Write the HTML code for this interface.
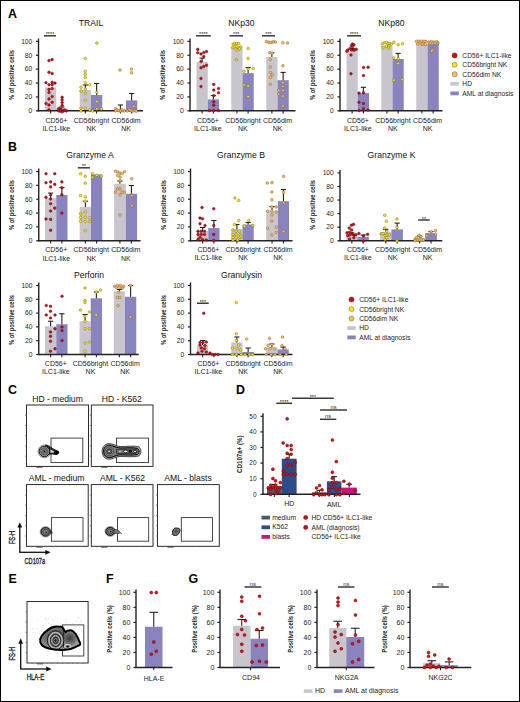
<!DOCTYPE html>
<html><head><meta charset="utf-8"><style>
html,body{margin:0;padding:0;background:#fff;}
body{width:520px;height:702px;overflow:hidden;position:relative;}
svg{display:block;position:absolute;left:0;top:0;}
.frame{position:absolute;left:0;top:0;width:518px;height:700px;border:1px solid #000;}
</style></head><body>
<svg width="520" height="702" viewBox="0 0 520 702" font-family='"Liberation Sans", sans-serif'>
<rect x="0.00" y="0.00" width="520.00" height="702.00" fill="#fff" stroke="none" stroke-width="0"/>
<text x="8.00" y="17.90" font-size="12.4" text-anchor="start" font-weight="bold" fill="#000" >A</text>
<text x="8.00" y="150.60" font-size="12.4" text-anchor="start" font-weight="bold" fill="#000" >B</text>
<text x="8.00" y="393.80" font-size="12.4" text-anchor="start" font-weight="bold" fill="#000" >C</text>
<text x="236.00" y="393.80" font-size="12.4" text-anchor="start" font-weight="bold" fill="#000" >D</text>
<text x="8.50" y="583.00" font-size="12.4" text-anchor="start" font-weight="bold" fill="#000" >E</text>
<text x="106.00" y="583.00" font-size="12.4" text-anchor="start" font-weight="bold" fill="#000" >F</text>
<text x="188.50" y="583.00" font-size="12.4" text-anchor="start" font-weight="bold" fill="#000" >G</text>
<rect x="45.00" y="87.50" width="11.25" height="23.30" fill="#c8c6cc" stroke="none" stroke-width="0"/>
<rect x="56.25" y="108.60" width="11.25" height="2.20" fill="#8a84be" stroke="none" stroke-width="0"/>
<rect x="79.75" y="90.00" width="11.25" height="20.80" fill="#c8c6cc" stroke="none" stroke-width="0"/>
<rect x="91.00" y="95.00" width="11.25" height="15.80" fill="#8a84be" stroke="none" stroke-width="0"/>
<rect x="114.75" y="109.60" width="11.25" height="1.20" fill="#c8c6cc" stroke="none" stroke-width="0"/>
<rect x="126.00" y="100.40" width="11.25" height="10.40" fill="#8a84be" stroke="none" stroke-width="0"/>
<line x1="61.88" y1="108.60" x2="61.88" y2="107.00" stroke="#222" stroke-width="1.1"/>
<line x1="59.27" y1="107.00" x2="64.47" y2="107.00" stroke="#222" stroke-width="1.1"/>
<line x1="85.38" y1="90.00" x2="85.38" y2="85.00" stroke="#222" stroke-width="1.1"/>
<line x1="82.78" y1="85.00" x2="87.97" y2="85.00" stroke="#222" stroke-width="1.1"/>
<line x1="96.62" y1="95.00" x2="96.62" y2="83.50" stroke="#222" stroke-width="1.1"/>
<line x1="94.03" y1="83.50" x2="99.22" y2="83.50" stroke="#222" stroke-width="1.1"/>
<line x1="120.38" y1="109.60" x2="120.38" y2="105.00" stroke="#222" stroke-width="1.1"/>
<line x1="117.78" y1="105.00" x2="122.97" y2="105.00" stroke="#222" stroke-width="1.1"/>
<line x1="131.62" y1="100.40" x2="131.62" y2="93.50" stroke="#222" stroke-width="1.1"/>
<line x1="129.03" y1="93.50" x2="134.22" y2="93.50" stroke="#222" stroke-width="1.1"/>
<line x1="38.50" y1="38.50" x2="38.50" y2="111.40" stroke="#222" stroke-width="1.4"/>
<line x1="35.90" y1="110.80" x2="38.50" y2="110.80" stroke="#222" stroke-width="1.2"/>
<text x="32.30" y="113.10" font-size="6.7" text-anchor="end" font-weight="normal" fill="#222" >0</text>
<line x1="35.90" y1="96.92" x2="38.50" y2="96.92" stroke="#222" stroke-width="1.2"/>
<text x="32.30" y="99.22" font-size="6.7" text-anchor="end" font-weight="normal" fill="#222" >20</text>
<line x1="35.90" y1="83.04" x2="38.50" y2="83.04" stroke="#222" stroke-width="1.2"/>
<text x="32.30" y="85.34" font-size="6.7" text-anchor="end" font-weight="normal" fill="#222" >40</text>
<line x1="35.90" y1="69.16" x2="38.50" y2="69.16" stroke="#222" stroke-width="1.2"/>
<text x="32.30" y="71.46" font-size="6.7" text-anchor="end" font-weight="normal" fill="#222" >60</text>
<line x1="35.90" y1="55.28" x2="38.50" y2="55.28" stroke="#222" stroke-width="1.2"/>
<text x="32.30" y="57.58" font-size="6.7" text-anchor="end" font-weight="normal" fill="#222" >80</text>
<line x1="35.90" y1="41.40" x2="38.50" y2="41.40" stroke="#222" stroke-width="1.2"/>
<text x="32.30" y="43.70" font-size="6.7" text-anchor="end" font-weight="normal" fill="#222" >100</text>
<line x1="37.80" y1="110.80" x2="143.00" y2="110.80" stroke="#222" stroke-width="1.5"/>
<line x1="50.62" y1="110.80" x2="50.62" y2="113.60" stroke="#222" stroke-width="1.1"/>
<line x1="61.88" y1="110.80" x2="61.88" y2="113.60" stroke="#222" stroke-width="1.1"/>
<line x1="85.38" y1="110.80" x2="85.38" y2="113.60" stroke="#222" stroke-width="1.1"/>
<line x1="96.62" y1="110.80" x2="96.62" y2="113.60" stroke="#222" stroke-width="1.1"/>
<line x1="120.38" y1="110.80" x2="120.38" y2="113.60" stroke="#222" stroke-width="1.1"/>
<line x1="131.62" y1="110.80" x2="131.62" y2="113.60" stroke="#222" stroke-width="1.1"/>
<text x="91.00" y="26.00" font-size="8.6" text-anchor="middle" font-weight="normal" fill="#111" >TRAIL</text>
<circle cx="49.00" cy="60.62" r="1.35" fill="#c0141c" stroke="#6a0a0a" stroke-width="0.45"/>
<circle cx="52.12" cy="59.62" r="1.35" fill="#c0141c" stroke="#6a0a0a" stroke-width="0.45"/>
<circle cx="49.00" cy="72.25" r="1.35" fill="#c0141c" stroke="#6a0a0a" stroke-width="0.45"/>
<circle cx="52.12" cy="73.50" r="1.35" fill="#c0141c" stroke="#6a0a0a" stroke-width="0.45"/>
<circle cx="46.00" cy="82.75" r="1.35" fill="#c0141c" stroke="#6a0a0a" stroke-width="0.45"/>
<circle cx="52.12" cy="82.25" r="1.35" fill="#c0141c" stroke="#6a0a0a" stroke-width="0.45"/>
<circle cx="55.00" cy="83.12" r="1.35" fill="#c0141c" stroke="#6a0a0a" stroke-width="0.45"/>
<circle cx="49.00" cy="84.75" r="1.35" fill="#c0141c" stroke="#6a0a0a" stroke-width="0.45"/>
<circle cx="52.12" cy="84.75" r="1.35" fill="#c0141c" stroke="#6a0a0a" stroke-width="0.45"/>
<circle cx="52.12" cy="88.50" r="1.35" fill="#c0141c" stroke="#6a0a0a" stroke-width="0.45"/>
<circle cx="49.00" cy="89.38" r="1.35" fill="#c0141c" stroke="#6a0a0a" stroke-width="0.45"/>
<circle cx="49.00" cy="92.50" r="1.35" fill="#c0141c" stroke="#6a0a0a" stroke-width="0.45"/>
<circle cx="52.12" cy="96.50" r="1.35" fill="#c0141c" stroke="#6a0a0a" stroke-width="0.45"/>
<circle cx="49.00" cy="99.00" r="1.35" fill="#c0141c" stroke="#6a0a0a" stroke-width="0.45"/>
<circle cx="52.12" cy="102.25" r="1.35" fill="#c0141c" stroke="#6a0a0a" stroke-width="0.45"/>
<circle cx="46.00" cy="103.50" r="1.35" fill="#c0141c" stroke="#6a0a0a" stroke-width="0.45"/>
<circle cx="49.00" cy="105.00" r="1.35" fill="#c0141c" stroke="#6a0a0a" stroke-width="0.45"/>
<circle cx="49.00" cy="109.75" r="1.35" fill="#c0141c" stroke="#6a0a0a" stroke-width="0.45"/>
<circle cx="62.12" cy="97.25" r="1.35" fill="#c0141c" stroke="#6a0a0a" stroke-width="0.45"/>
<circle cx="62.12" cy="99.75" r="1.35" fill="#c0141c" stroke="#6a0a0a" stroke-width="0.45"/>
<circle cx="62.12" cy="102.50" r="1.35" fill="#c0141c" stroke="#6a0a0a" stroke-width="0.45"/>
<circle cx="62.12" cy="105.25" r="1.35" fill="#c0141c" stroke="#6a0a0a" stroke-width="0.45"/>
<circle cx="58.75" cy="108.50" r="1.35" fill="#c0141c" stroke="#6a0a0a" stroke-width="0.45"/>
<circle cx="60.62" cy="109.38" r="1.35" fill="#c0141c" stroke="#6a0a0a" stroke-width="0.45"/>
<circle cx="58.75" cy="111.00" r="1.35" fill="#c0141c" stroke="#6a0a0a" stroke-width="0.45"/>
<circle cx="60.62" cy="111.25" r="1.35" fill="#c0141c" stroke="#6a0a0a" stroke-width="0.45"/>
<circle cx="63.12" cy="111.25" r="1.35" fill="#c0141c" stroke="#6a0a0a" stroke-width="0.45"/>
<circle cx="66.25" cy="111.00" r="1.35" fill="#c0141c" stroke="#6a0a0a" stroke-width="0.45"/>
<circle cx="64.38" cy="110.00" r="1.35" fill="#c0141c" stroke="#6a0a0a" stroke-width="0.45"/>
<circle cx="85.25" cy="58.50" r="1.35" fill="#f3e21c" stroke="#7a6c10" stroke-width="0.45"/>
<circle cx="85.25" cy="71.25" r="1.35" fill="#f3e21c" stroke="#7a6c10" stroke-width="0.45"/>
<circle cx="85.25" cy="74.38" r="1.35" fill="#f3e21c" stroke="#7a6c10" stroke-width="0.45"/>
<circle cx="85.25" cy="77.50" r="1.35" fill="#f3e21c" stroke="#7a6c10" stroke-width="0.45"/>
<circle cx="85.25" cy="82.50" r="1.35" fill="#f3e21c" stroke="#7a6c10" stroke-width="0.45"/>
<circle cx="89.75" cy="84.75" r="1.35" fill="#f3e21c" stroke="#7a6c10" stroke-width="0.45"/>
<circle cx="81.00" cy="87.25" r="1.35" fill="#f3e21c" stroke="#7a6c10" stroke-width="0.45"/>
<circle cx="81.00" cy="91.00" r="1.35" fill="#f3e21c" stroke="#7a6c10" stroke-width="0.45"/>
<circle cx="85.25" cy="89.12" r="1.35" fill="#f3e21c" stroke="#7a6c10" stroke-width="0.45"/>
<circle cx="85.25" cy="93.12" r="1.35" fill="#f3e21c" stroke="#7a6c10" stroke-width="0.45"/>
<circle cx="85.25" cy="100.25" r="1.35" fill="#f3e21c" stroke="#7a6c10" stroke-width="0.45"/>
<circle cx="81.00" cy="108.12" r="1.35" fill="#f3e21c" stroke="#7a6c10" stroke-width="0.45"/>
<circle cx="85.25" cy="108.12" r="1.35" fill="#f3e21c" stroke="#7a6c10" stroke-width="0.45"/>
<circle cx="89.75" cy="109.75" r="1.35" fill="#f3e21c" stroke="#7a6c10" stroke-width="0.45"/>
<circle cx="81.00" cy="111.00" r="1.35" fill="#f3e21c" stroke="#7a6c10" stroke-width="0.45"/>
<circle cx="92.50" cy="111.00" r="1.35" fill="#f3e21c" stroke="#7a6c10" stroke-width="0.45"/>
<circle cx="96.88" cy="43.12" r="1.35" fill="#f3e21c" stroke="#7a6c10" stroke-width="0.45"/>
<circle cx="96.88" cy="92.25" r="1.35" fill="#f3e21c" stroke="#7a6c10" stroke-width="0.45"/>
<circle cx="96.88" cy="101.50" r="1.35" fill="#f3e21c" stroke="#7a6c10" stroke-width="0.45"/>
<circle cx="96.88" cy="109.00" r="1.35" fill="#f3e21c" stroke="#7a6c10" stroke-width="0.45"/>
<circle cx="101.25" cy="109.00" r="1.35" fill="#f3e21c" stroke="#7a6c10" stroke-width="0.45"/>
<circle cx="120.00" cy="70.00" r="1.35" fill="#f0bd68" stroke="#8a5a1e" stroke-width="0.45"/>
<circle cx="115.62" cy="108.50" r="1.35" fill="#f0bd68" stroke="#8a5a1e" stroke-width="0.45"/>
<circle cx="117.25" cy="110.00" r="1.35" fill="#f0bd68" stroke="#8a5a1e" stroke-width="0.45"/>
<circle cx="115.62" cy="111.00" r="1.35" fill="#f0bd68" stroke="#8a5a1e" stroke-width="0.45"/>
<circle cx="118.75" cy="110.62" r="1.35" fill="#f0bd68" stroke="#8a5a1e" stroke-width="0.45"/>
<circle cx="120.62" cy="111.00" r="1.35" fill="#f0bd68" stroke="#8a5a1e" stroke-width="0.45"/>
<circle cx="122.50" cy="110.62" r="1.35" fill="#f0bd68" stroke="#8a5a1e" stroke-width="0.45"/>
<circle cx="124.38" cy="111.00" r="1.35" fill="#f0bd68" stroke="#8a5a1e" stroke-width="0.45"/>
<circle cx="121.88" cy="109.75" r="1.35" fill="#f0bd68" stroke="#8a5a1e" stroke-width="0.45"/>
<circle cx="131.50" cy="69.00" r="1.35" fill="#f0bd68" stroke="#8a5a1e" stroke-width="0.45"/>
<circle cx="131.50" cy="72.75" r="1.35" fill="#f0bd68" stroke="#8a5a1e" stroke-width="0.45"/>
<circle cx="134.00" cy="106.25" r="1.35" fill="#f0bd68" stroke="#8a5a1e" stroke-width="0.45"/>
<circle cx="127.25" cy="111.00" r="1.35" fill="#f0bd68" stroke="#8a5a1e" stroke-width="0.45"/>
<circle cx="129.38" cy="109.75" r="1.35" fill="#f0bd68" stroke="#8a5a1e" stroke-width="0.45"/>
<circle cx="131.25" cy="110.62" r="1.35" fill="#f0bd68" stroke="#8a5a1e" stroke-width="0.45"/>
<circle cx="133.12" cy="111.00" r="1.35" fill="#f0bd68" stroke="#8a5a1e" stroke-width="0.45"/>
<circle cx="135.00" cy="110.62" r="1.35" fill="#f0bd68" stroke="#8a5a1e" stroke-width="0.45"/>
<circle cx="136.25" cy="111.25" r="1.35" fill="#f0bd68" stroke="#8a5a1e" stroke-width="0.45"/>
<line x1="44.00" y1="35.80" x2="56.00" y2="35.80" stroke="#3a3a3a" stroke-width="1.5"/>
<text x="50.00" y="36.40" font-size="5.5" text-anchor="middle" font-weight="normal" fill="#222" >****</text>
<text x="56.40" y="122.90" font-size="7.0" text-anchor="middle" font-weight="normal" fill="#222" >CD56+</text>
<text x="56.40" y="131.10" font-size="7.0" text-anchor="middle" font-weight="normal" fill="#222" >ILC1-like</text>
<text x="91.40" y="122.90" font-size="7.0" text-anchor="middle" font-weight="normal" fill="#222" >CD56bright</text>
<text x="91.40" y="131.10" font-size="7.0" text-anchor="middle" font-weight="normal" fill="#222" >NK</text>
<text x="126.10" y="122.90" font-size="7.0" text-anchor="middle" font-weight="normal" fill="#222" >CD56dim</text>
<text x="126.10" y="131.10" font-size="7.0" text-anchor="middle" font-weight="normal" fill="#222" >NK</text>
<text transform="translate(14.40,75.00) rotate(-90)" x="0" y="0" font-size="7.6" text-anchor="middle" font-weight="bold" fill="#222" textLength="50" lengthAdjust="spacingAndGlyphs" >% of positive cells</text>
<rect x="196.50" y="61.90" width="11.25" height="48.90" fill="#c8c6cc" stroke="none" stroke-width="0"/>
<rect x="207.75" y="99.40" width="11.25" height="11.40" fill="#8a84be" stroke="none" stroke-width="0"/>
<rect x="231.25" y="46.90" width="11.25" height="63.90" fill="#c8c6cc" stroke="none" stroke-width="0"/>
<rect x="242.50" y="73.10" width="11.25" height="37.70" fill="#8a84be" stroke="none" stroke-width="0"/>
<rect x="266.25" y="57.00" width="11.25" height="53.80" fill="#c8c6cc" stroke="none" stroke-width="0"/>
<rect x="277.50" y="80.20" width="11.25" height="30.60" fill="#8a84be" stroke="none" stroke-width="0"/>
<line x1="202.12" y1="61.90" x2="202.12" y2="58.10" stroke="#222" stroke-width="1.1"/>
<line x1="199.53" y1="58.10" x2="204.72" y2="58.10" stroke="#222" stroke-width="1.1"/>
<line x1="213.38" y1="99.40" x2="213.38" y2="95.60" stroke="#222" stroke-width="1.1"/>
<line x1="210.78" y1="95.60" x2="215.97" y2="95.60" stroke="#222" stroke-width="1.1"/>
<line x1="248.12" y1="73.10" x2="248.12" y2="67.50" stroke="#222" stroke-width="1.1"/>
<line x1="245.53" y1="67.50" x2="250.72" y2="67.50" stroke="#222" stroke-width="1.1"/>
<line x1="271.88" y1="57.00" x2="271.88" y2="52.70" stroke="#222" stroke-width="1.1"/>
<line x1="269.27" y1="52.70" x2="274.48" y2="52.70" stroke="#222" stroke-width="1.1"/>
<line x1="283.12" y1="80.20" x2="283.12" y2="72.40" stroke="#222" stroke-width="1.1"/>
<line x1="280.52" y1="72.40" x2="285.73" y2="72.40" stroke="#222" stroke-width="1.1"/>
<line x1="190.00" y1="38.50" x2="190.00" y2="111.40" stroke="#222" stroke-width="1.4"/>
<line x1="187.40" y1="110.80" x2="190.00" y2="110.80" stroke="#222" stroke-width="1.2"/>
<text x="183.80" y="113.10" font-size="6.7" text-anchor="end" font-weight="normal" fill="#222" >0</text>
<line x1="187.40" y1="96.92" x2="190.00" y2="96.92" stroke="#222" stroke-width="1.2"/>
<text x="183.80" y="99.22" font-size="6.7" text-anchor="end" font-weight="normal" fill="#222" >20</text>
<line x1="187.40" y1="83.04" x2="190.00" y2="83.04" stroke="#222" stroke-width="1.2"/>
<text x="183.80" y="85.34" font-size="6.7" text-anchor="end" font-weight="normal" fill="#222" >40</text>
<line x1="187.40" y1="69.16" x2="190.00" y2="69.16" stroke="#222" stroke-width="1.2"/>
<text x="183.80" y="71.46" font-size="6.7" text-anchor="end" font-weight="normal" fill="#222" >60</text>
<line x1="187.40" y1="55.28" x2="190.00" y2="55.28" stroke="#222" stroke-width="1.2"/>
<text x="183.80" y="57.58" font-size="6.7" text-anchor="end" font-weight="normal" fill="#222" >80</text>
<line x1="187.40" y1="41.40" x2="190.00" y2="41.40" stroke="#222" stroke-width="1.2"/>
<text x="183.80" y="43.70" font-size="6.7" text-anchor="end" font-weight="normal" fill="#222" >100</text>
<line x1="189.30" y1="110.80" x2="295.50" y2="110.80" stroke="#222" stroke-width="1.5"/>
<line x1="202.12" y1="110.80" x2="202.12" y2="113.60" stroke="#222" stroke-width="1.1"/>
<line x1="213.38" y1="110.80" x2="213.38" y2="113.60" stroke="#222" stroke-width="1.1"/>
<line x1="236.88" y1="110.80" x2="236.88" y2="113.60" stroke="#222" stroke-width="1.1"/>
<line x1="248.12" y1="110.80" x2="248.12" y2="113.60" stroke="#222" stroke-width="1.1"/>
<line x1="271.88" y1="110.80" x2="271.88" y2="113.60" stroke="#222" stroke-width="1.1"/>
<line x1="283.12" y1="110.80" x2="283.12" y2="113.60" stroke="#222" stroke-width="1.1"/>
<text x="241.50" y="26.00" font-size="8.6" text-anchor="middle" font-weight="normal" fill="#111" >NKp30</text>
<circle cx="197.75" cy="49.38" r="1.35" fill="#c0141c" stroke="#6a0a0a" stroke-width="0.45"/>
<circle cx="197.75" cy="52.75" r="1.35" fill="#c0141c" stroke="#6a0a0a" stroke-width="0.45"/>
<circle cx="201.00" cy="54.00" r="1.35" fill="#c0141c" stroke="#6a0a0a" stroke-width="0.45"/>
<circle cx="203.75" cy="52.50" r="1.35" fill="#c0141c" stroke="#6a0a0a" stroke-width="0.45"/>
<circle cx="206.50" cy="51.50" r="1.35" fill="#c0141c" stroke="#6a0a0a" stroke-width="0.45"/>
<circle cx="203.75" cy="56.50" r="1.35" fill="#c0141c" stroke="#6a0a0a" stroke-width="0.45"/>
<circle cx="201.00" cy="61.50" r="1.35" fill="#c0141c" stroke="#6a0a0a" stroke-width="0.45"/>
<circle cx="201.00" cy="67.75" r="1.35" fill="#c0141c" stroke="#6a0a0a" stroke-width="0.45"/>
<circle cx="203.75" cy="66.50" r="1.35" fill="#c0141c" stroke="#6a0a0a" stroke-width="0.45"/>
<circle cx="206.50" cy="65.25" r="1.35" fill="#c0141c" stroke="#6a0a0a" stroke-width="0.45"/>
<circle cx="201.00" cy="78.50" r="1.35" fill="#c0141c" stroke="#6a0a0a" stroke-width="0.45"/>
<circle cx="201.00" cy="86.50" r="1.35" fill="#c0141c" stroke="#6a0a0a" stroke-width="0.45"/>
<circle cx="213.75" cy="84.38" r="1.35" fill="#c0141c" stroke="#6a0a0a" stroke-width="0.45"/>
<circle cx="213.75" cy="90.00" r="1.35" fill="#c0141c" stroke="#6a0a0a" stroke-width="0.45"/>
<circle cx="218.50" cy="88.50" r="1.35" fill="#c0141c" stroke="#6a0a0a" stroke-width="0.45"/>
<circle cx="218.50" cy="92.75" r="1.35" fill="#c0141c" stroke="#6a0a0a" stroke-width="0.45"/>
<circle cx="213.75" cy="95.62" r="1.35" fill="#c0141c" stroke="#6a0a0a" stroke-width="0.45"/>
<circle cx="213.75" cy="101.88" r="1.35" fill="#c0141c" stroke="#6a0a0a" stroke-width="0.45"/>
<circle cx="213.75" cy="105.25" r="1.35" fill="#c0141c" stroke="#6a0a0a" stroke-width="0.45"/>
<circle cx="209.38" cy="110.62" r="1.35" fill="#c0141c" stroke="#6a0a0a" stroke-width="0.45"/>
<circle cx="213.75" cy="110.62" r="1.35" fill="#c0141c" stroke="#6a0a0a" stroke-width="0.45"/>
<circle cx="218.50" cy="110.62" r="1.35" fill="#c0141c" stroke="#6a0a0a" stroke-width="0.45"/>
<circle cx="233.12" cy="44.00" r="1.35" fill="#f3e21c" stroke="#7a6c10" stroke-width="0.45"/>
<circle cx="235.00" cy="43.50" r="1.35" fill="#f3e21c" stroke="#7a6c10" stroke-width="0.45"/>
<circle cx="236.88" cy="43.50" r="1.35" fill="#f3e21c" stroke="#7a6c10" stroke-width="0.45"/>
<circle cx="238.75" cy="43.50" r="1.35" fill="#f3e21c" stroke="#7a6c10" stroke-width="0.45"/>
<circle cx="232.50" cy="47.50" r="1.35" fill="#f3e21c" stroke="#7a6c10" stroke-width="0.45"/>
<circle cx="234.38" cy="46.88" r="1.35" fill="#f3e21c" stroke="#7a6c10" stroke-width="0.45"/>
<circle cx="236.25" cy="46.50" r="1.35" fill="#f3e21c" stroke="#7a6c10" stroke-width="0.45"/>
<circle cx="238.12" cy="47.50" r="1.35" fill="#f3e21c" stroke="#7a6c10" stroke-width="0.45"/>
<circle cx="240.62" cy="46.88" r="1.35" fill="#f3e21c" stroke="#7a6c10" stroke-width="0.45"/>
<circle cx="236.88" cy="50.00" r="1.35" fill="#f3e21c" stroke="#7a6c10" stroke-width="0.45"/>
<circle cx="239.38" cy="48.75" r="1.35" fill="#f3e21c" stroke="#7a6c10" stroke-width="0.45"/>
<circle cx="236.25" cy="59.75" r="1.35" fill="#f3e21c" stroke="#7a6c10" stroke-width="0.45"/>
<circle cx="248.12" cy="48.50" r="1.35" fill="#f3e21c" stroke="#7a6c10" stroke-width="0.45"/>
<circle cx="248.12" cy="58.50" r="1.35" fill="#f3e21c" stroke="#7a6c10" stroke-width="0.45"/>
<circle cx="244.00" cy="71.25" r="1.35" fill="#f3e21c" stroke="#7a6c10" stroke-width="0.45"/>
<circle cx="248.12" cy="69.00" r="1.35" fill="#f3e21c" stroke="#7a6c10" stroke-width="0.45"/>
<circle cx="253.12" cy="68.50" r="1.35" fill="#f3e21c" stroke="#7a6c10" stroke-width="0.45"/>
<circle cx="244.00" cy="85.00" r="1.35" fill="#f3e21c" stroke="#7a6c10" stroke-width="0.45"/>
<circle cx="248.12" cy="86.00" r="1.35" fill="#f3e21c" stroke="#7a6c10" stroke-width="0.45"/>
<circle cx="248.12" cy="96.50" r="1.35" fill="#f3e21c" stroke="#7a6c10" stroke-width="0.45"/>
<circle cx="266.39" cy="41.61" r="1.35" fill="#f0bd68" stroke="#8a5a1e" stroke-width="0.45"/>
<circle cx="268.44" cy="42.06" r="1.35" fill="#f0bd68" stroke="#8a5a1e" stroke-width="0.45"/>
<circle cx="270.38" cy="42.74" r="1.35" fill="#f0bd68" stroke="#8a5a1e" stroke-width="0.45"/>
<circle cx="272.08" cy="42.06" r="1.35" fill="#f0bd68" stroke="#8a5a1e" stroke-width="0.45"/>
<circle cx="273.79" cy="41.83" r="1.35" fill="#f0bd68" stroke="#8a5a1e" stroke-width="0.45"/>
<circle cx="275.50" cy="42.06" r="1.35" fill="#f0bd68" stroke="#8a5a1e" stroke-width="0.45"/>
<circle cx="269.81" cy="52.65" r="1.35" fill="#f0bd68" stroke="#8a5a1e" stroke-width="0.45"/>
<circle cx="272.08" cy="53.22" r="1.35" fill="#f0bd68" stroke="#8a5a1e" stroke-width="0.45"/>
<circle cx="270.38" cy="59.49" r="1.35" fill="#f0bd68" stroke="#8a5a1e" stroke-width="0.45"/>
<circle cx="270.38" cy="67.12" r="1.35" fill="#f0bd68" stroke="#8a5a1e" stroke-width="0.45"/>
<circle cx="270.38" cy="72.59" r="1.35" fill="#f0bd68" stroke="#8a5a1e" stroke-width="0.45"/>
<circle cx="272.31" cy="74.86" r="1.35" fill="#f0bd68" stroke="#8a5a1e" stroke-width="0.45"/>
<circle cx="270.38" cy="77.37" r="1.35" fill="#f0bd68" stroke="#8a5a1e" stroke-width="0.45"/>
<circle cx="270.38" cy="84.20" r="1.35" fill="#f0bd68" stroke="#8a5a1e" stroke-width="0.45"/>
<circle cx="282.90" cy="42.74" r="1.35" fill="#f0bd68" stroke="#8a5a1e" stroke-width="0.45"/>
<circle cx="287.46" cy="42.97" r="1.35" fill="#f0bd68" stroke="#8a5a1e" stroke-width="0.45"/>
<circle cx="282.90" cy="65.75" r="1.35" fill="#f0bd68" stroke="#8a5a1e" stroke-width="0.45"/>
<circle cx="282.90" cy="82.61" r="1.35" fill="#f0bd68" stroke="#8a5a1e" stroke-width="0.45"/>
<circle cx="282.90" cy="86.48" r="1.35" fill="#f0bd68" stroke="#8a5a1e" stroke-width="0.45"/>
<circle cx="278.69" cy="90.47" r="1.35" fill="#f0bd68" stroke="#8a5a1e" stroke-width="0.45"/>
<circle cx="282.90" cy="90.47" r="1.35" fill="#f0bd68" stroke="#8a5a1e" stroke-width="0.45"/>
<circle cx="278.69" cy="94.00" r="1.35" fill="#f0bd68" stroke="#8a5a1e" stroke-width="0.45"/>
<circle cx="282.90" cy="96.16" r="1.35" fill="#f0bd68" stroke="#8a5a1e" stroke-width="0.45"/>
<circle cx="282.90" cy="105.84" r="1.35" fill="#f0bd68" stroke="#8a5a1e" stroke-width="0.45"/>
<line x1="196.00" y1="35.80" x2="210.80" y2="35.80" stroke="#3a3a3a" stroke-width="1.5"/>
<text x="203.40" y="36.40" font-size="5.5" text-anchor="middle" font-weight="normal" fill="#222" >****</text>
<line x1="229.50" y1="35.80" x2="243.00" y2="35.80" stroke="#3a3a3a" stroke-width="1.5"/>
<text x="236.25" y="36.40" font-size="5.5" text-anchor="middle" font-weight="normal" fill="#222" >***</text>
<line x1="262.00" y1="35.80" x2="275.00" y2="35.80" stroke="#3a3a3a" stroke-width="1.5"/>
<text x="268.50" y="36.40" font-size="5.5" text-anchor="middle" font-weight="normal" fill="#222" >***</text>
<text x="207.90" y="122.90" font-size="7.0" text-anchor="middle" font-weight="normal" fill="#222" >CD56+</text>
<text x="207.90" y="131.10" font-size="7.0" text-anchor="middle" font-weight="normal" fill="#222" >ILC1-like</text>
<text x="242.90" y="122.90" font-size="7.0" text-anchor="middle" font-weight="normal" fill="#222" >CD56bright</text>
<text x="242.90" y="131.10" font-size="7.0" text-anchor="middle" font-weight="normal" fill="#222" >NK</text>
<text x="277.60" y="122.90" font-size="7.0" text-anchor="middle" font-weight="normal" fill="#222" >CD56dim</text>
<text x="277.60" y="131.10" font-size="7.0" text-anchor="middle" font-weight="normal" fill="#222" >NK</text>
<text transform="translate(165.40,75.00) rotate(-90)" x="0" y="0" font-size="7.6" text-anchor="middle" font-weight="bold" fill="#222" textLength="50" lengthAdjust="spacingAndGlyphs" >% of positive cells</text>
<rect x="346.50" y="51.30" width="11.25" height="59.50" fill="#c8c6cc" stroke="none" stroke-width="0"/>
<rect x="357.75" y="93.10" width="11.25" height="17.70" fill="#8a84be" stroke="none" stroke-width="0"/>
<rect x="381.25" y="45.60" width="11.25" height="65.20" fill="#c8c6cc" stroke="none" stroke-width="0"/>
<rect x="392.50" y="59.00" width="11.25" height="51.80" fill="#8a84be" stroke="none" stroke-width="0"/>
<rect x="416.25" y="44.10" width="11.25" height="66.70" fill="#c8c6cc" stroke="none" stroke-width="0"/>
<rect x="427.50" y="43.50" width="11.25" height="67.30" fill="#8a84be" stroke="none" stroke-width="0"/>
<line x1="352.12" y1="51.30" x2="352.12" y2="48.50" stroke="#222" stroke-width="1.1"/>
<line x1="349.52" y1="48.50" x2="354.73" y2="48.50" stroke="#222" stroke-width="1.1"/>
<line x1="363.38" y1="93.10" x2="363.38" y2="87.30" stroke="#222" stroke-width="1.1"/>
<line x1="360.77" y1="87.30" x2="365.98" y2="87.30" stroke="#222" stroke-width="1.1"/>
<line x1="398.12" y1="59.00" x2="398.12" y2="53.40" stroke="#222" stroke-width="1.1"/>
<line x1="395.52" y1="53.40" x2="400.73" y2="53.40" stroke="#222" stroke-width="1.1"/>
<line x1="340.00" y1="38.50" x2="340.00" y2="111.40" stroke="#222" stroke-width="1.4"/>
<line x1="337.40" y1="110.80" x2="340.00" y2="110.80" stroke="#222" stroke-width="1.2"/>
<text x="333.80" y="113.10" font-size="6.7" text-anchor="end" font-weight="normal" fill="#222" >0</text>
<line x1="337.40" y1="96.92" x2="340.00" y2="96.92" stroke="#222" stroke-width="1.2"/>
<text x="333.80" y="99.22" font-size="6.7" text-anchor="end" font-weight="normal" fill="#222" >20</text>
<line x1="337.40" y1="83.04" x2="340.00" y2="83.04" stroke="#222" stroke-width="1.2"/>
<text x="333.80" y="85.34" font-size="6.7" text-anchor="end" font-weight="normal" fill="#222" >40</text>
<line x1="337.40" y1="69.16" x2="340.00" y2="69.16" stroke="#222" stroke-width="1.2"/>
<text x="333.80" y="71.46" font-size="6.7" text-anchor="end" font-weight="normal" fill="#222" >60</text>
<line x1="337.40" y1="55.28" x2="340.00" y2="55.28" stroke="#222" stroke-width="1.2"/>
<text x="333.80" y="57.58" font-size="6.7" text-anchor="end" font-weight="normal" fill="#222" >80</text>
<line x1="337.40" y1="41.40" x2="340.00" y2="41.40" stroke="#222" stroke-width="1.2"/>
<text x="333.80" y="43.70" font-size="6.7" text-anchor="end" font-weight="normal" fill="#222" >100</text>
<line x1="339.30" y1="110.80" x2="442.50" y2="110.80" stroke="#222" stroke-width="1.5"/>
<line x1="352.12" y1="110.80" x2="352.12" y2="113.60" stroke="#222" stroke-width="1.1"/>
<line x1="363.38" y1="110.80" x2="363.38" y2="113.60" stroke="#222" stroke-width="1.1"/>
<line x1="386.88" y1="110.80" x2="386.88" y2="113.60" stroke="#222" stroke-width="1.1"/>
<line x1="398.12" y1="110.80" x2="398.12" y2="113.60" stroke="#222" stroke-width="1.1"/>
<line x1="421.88" y1="110.80" x2="421.88" y2="113.60" stroke="#222" stroke-width="1.1"/>
<line x1="433.12" y1="110.80" x2="433.12" y2="113.60" stroke="#222" stroke-width="1.1"/>
<text x="391.50" y="26.00" font-size="8.6" text-anchor="middle" font-weight="normal" fill="#111" >NKp80</text>
<circle cx="352.50" cy="44.00" r="1.35" fill="#c0141c" stroke="#6a0a0a" stroke-width="0.45"/>
<circle cx="354.00" cy="44.75" r="1.35" fill="#c0141c" stroke="#6a0a0a" stroke-width="0.45"/>
<circle cx="351.50" cy="45.62" r="1.35" fill="#c0141c" stroke="#6a0a0a" stroke-width="0.45"/>
<circle cx="352.50" cy="46.50" r="1.35" fill="#c0141c" stroke="#6a0a0a" stroke-width="0.45"/>
<circle cx="350.00" cy="48.50" r="1.35" fill="#c0141c" stroke="#6a0a0a" stroke-width="0.45"/>
<circle cx="347.75" cy="50.00" r="1.35" fill="#c0141c" stroke="#6a0a0a" stroke-width="0.45"/>
<circle cx="351.50" cy="50.00" r="1.35" fill="#c0141c" stroke="#6a0a0a" stroke-width="0.45"/>
<circle cx="354.00" cy="50.25" r="1.35" fill="#c0141c" stroke="#6a0a0a" stroke-width="0.45"/>
<circle cx="356.25" cy="49.38" r="1.35" fill="#c0141c" stroke="#6a0a0a" stroke-width="0.45"/>
<circle cx="346.88" cy="51.25" r="1.35" fill="#c0141c" stroke="#6a0a0a" stroke-width="0.45"/>
<circle cx="351.00" cy="55.00" r="1.35" fill="#c0141c" stroke="#6a0a0a" stroke-width="0.45"/>
<circle cx="351.00" cy="73.75" r="1.35" fill="#c0141c" stroke="#6a0a0a" stroke-width="0.45"/>
<circle cx="363.50" cy="67.50" r="1.35" fill="#c0141c" stroke="#6a0a0a" stroke-width="0.45"/>
<circle cx="368.12" cy="67.25" r="1.35" fill="#c0141c" stroke="#6a0a0a" stroke-width="0.45"/>
<circle cx="363.50" cy="75.62" r="1.35" fill="#c0141c" stroke="#6a0a0a" stroke-width="0.45"/>
<circle cx="359.00" cy="93.12" r="1.35" fill="#c0141c" stroke="#6a0a0a" stroke-width="0.45"/>
<circle cx="363.50" cy="92.75" r="1.35" fill="#c0141c" stroke="#6a0a0a" stroke-width="0.45"/>
<circle cx="359.00" cy="102.25" r="1.35" fill="#c0141c" stroke="#6a0a0a" stroke-width="0.45"/>
<circle cx="363.50" cy="103.50" r="1.35" fill="#c0141c" stroke="#6a0a0a" stroke-width="0.45"/>
<circle cx="359.00" cy="110.62" r="1.35" fill="#c0141c" stroke="#6a0a0a" stroke-width="0.45"/>
<circle cx="363.50" cy="108.75" r="1.35" fill="#c0141c" stroke="#6a0a0a" stroke-width="0.45"/>
<circle cx="368.12" cy="110.00" r="1.35" fill="#c0141c" stroke="#6a0a0a" stroke-width="0.45"/>
<circle cx="382.50" cy="43.75" r="1.35" fill="#f3e21c" stroke="#7a6c10" stroke-width="0.45"/>
<circle cx="384.38" cy="42.75" r="1.35" fill="#f3e21c" stroke="#7a6c10" stroke-width="0.45"/>
<circle cx="386.50" cy="42.50" r="1.35" fill="#f3e21c" stroke="#7a6c10" stroke-width="0.45"/>
<circle cx="388.12" cy="43.50" r="1.35" fill="#f3e21c" stroke="#7a6c10" stroke-width="0.45"/>
<circle cx="390.00" cy="43.50" r="1.35" fill="#f3e21c" stroke="#7a6c10" stroke-width="0.45"/>
<circle cx="391.25" cy="44.00" r="1.35" fill="#f3e21c" stroke="#7a6c10" stroke-width="0.45"/>
<circle cx="394.00" cy="42.25" r="1.35" fill="#f3e21c" stroke="#7a6c10" stroke-width="0.45"/>
<circle cx="383.12" cy="47.75" r="1.35" fill="#f3e21c" stroke="#7a6c10" stroke-width="0.45"/>
<circle cx="386.25" cy="46.25" r="1.35" fill="#f3e21c" stroke="#7a6c10" stroke-width="0.45"/>
<circle cx="389.00" cy="46.00" r="1.35" fill="#f3e21c" stroke="#7a6c10" stroke-width="0.45"/>
<circle cx="388.50" cy="48.12" r="1.35" fill="#f3e21c" stroke="#7a6c10" stroke-width="0.45"/>
<circle cx="398.12" cy="44.75" r="1.35" fill="#f3e21c" stroke="#7a6c10" stroke-width="0.45"/>
<circle cx="402.50" cy="43.75" r="1.35" fill="#f3e21c" stroke="#7a6c10" stroke-width="0.45"/>
<circle cx="393.75" cy="57.88" r="1.35" fill="#f3e21c" stroke="#7a6c10" stroke-width="0.45"/>
<circle cx="398.12" cy="58.75" r="1.35" fill="#f3e21c" stroke="#7a6c10" stroke-width="0.45"/>
<circle cx="398.12" cy="63.50" r="1.35" fill="#f3e21c" stroke="#7a6c10" stroke-width="0.45"/>
<circle cx="393.75" cy="80.25" r="1.35" fill="#f3e21c" stroke="#7a6c10" stroke-width="0.45"/>
<circle cx="402.50" cy="79.62" r="1.35" fill="#f3e21c" stroke="#7a6c10" stroke-width="0.45"/>
<circle cx="416.39" cy="41.26" r="1.35" fill="#f0bd68" stroke="#8a5a1e" stroke-width="0.45"/>
<circle cx="418.90" cy="41.26" r="1.35" fill="#f0bd68" stroke="#8a5a1e" stroke-width="0.45"/>
<circle cx="421.51" cy="41.26" r="1.35" fill="#f0bd68" stroke="#8a5a1e" stroke-width="0.45"/>
<circle cx="424.13" cy="41.26" r="1.35" fill="#f0bd68" stroke="#8a5a1e" stroke-width="0.45"/>
<circle cx="426.07" cy="41.61" r="1.35" fill="#f0bd68" stroke="#8a5a1e" stroke-width="0.45"/>
<circle cx="417.53" cy="43.88" r="1.35" fill="#f0bd68" stroke="#8a5a1e" stroke-width="0.45"/>
<circle cx="420.38" cy="43.20" r="1.35" fill="#f0bd68" stroke="#8a5a1e" stroke-width="0.45"/>
<circle cx="423.22" cy="43.54" r="1.35" fill="#f0bd68" stroke="#8a5a1e" stroke-width="0.45"/>
<circle cx="425.27" cy="44.68" r="1.35" fill="#f0bd68" stroke="#8a5a1e" stroke-width="0.45"/>
<circle cx="422.08" cy="44.34" r="1.35" fill="#f0bd68" stroke="#8a5a1e" stroke-width="0.45"/>
<circle cx="428.92" cy="42.06" r="1.35" fill="#f0bd68" stroke="#8a5a1e" stroke-width="0.45"/>
<circle cx="431.42" cy="41.61" r="1.35" fill="#f0bd68" stroke="#8a5a1e" stroke-width="0.45"/>
<circle cx="434.04" cy="42.06" r="1.35" fill="#f0bd68" stroke="#8a5a1e" stroke-width="0.45"/>
<circle cx="436.66" cy="41.61" r="1.35" fill="#f0bd68" stroke="#8a5a1e" stroke-width="0.45"/>
<circle cx="438.03" cy="42.97" r="1.35" fill="#f0bd68" stroke="#8a5a1e" stroke-width="0.45"/>
<circle cx="430.28" cy="43.20" r="1.35" fill="#f0bd68" stroke="#8a5a1e" stroke-width="0.45"/>
<circle cx="435.18" cy="43.20" r="1.35" fill="#f0bd68" stroke="#8a5a1e" stroke-width="0.45"/>
<circle cx="432.68" cy="49.81" r="1.35" fill="#f0bd68" stroke="#8a5a1e" stroke-width="0.45"/>
<circle cx="431.77" cy="50.95" r="1.35" fill="#f0bd68" stroke="#8a5a1e" stroke-width="0.45"/>
<line x1="347.00" y1="35.80" x2="361.00" y2="35.80" stroke="#3a3a3a" stroke-width="1.5"/>
<text x="354.00" y="36.40" font-size="5.5" text-anchor="middle" font-weight="normal" fill="#222" >****</text>
<text x="357.90" y="122.90" font-size="7.0" text-anchor="middle" font-weight="normal" fill="#222" >CD56+</text>
<text x="357.90" y="131.10" font-size="7.0" text-anchor="middle" font-weight="normal" fill="#222" >ILC1-like</text>
<text x="392.90" y="122.90" font-size="7.0" text-anchor="middle" font-weight="normal" fill="#222" >CD56bright</text>
<text x="392.90" y="131.10" font-size="7.0" text-anchor="middle" font-weight="normal" fill="#222" >NK</text>
<text x="427.60" y="122.90" font-size="7.0" text-anchor="middle" font-weight="normal" fill="#222" >CD56dim</text>
<text x="427.60" y="131.10" font-size="7.0" text-anchor="middle" font-weight="normal" fill="#222" >NK</text>
<text transform="translate(315.40,75.00) rotate(-90)" x="0" y="0" font-size="7.6" text-anchor="middle" font-weight="bold" fill="#222" textLength="50" lengthAdjust="spacingAndGlyphs" >% of positive cells</text>
<circle cx="454.6" cy="55.4" r="2.5" fill="#c0141c" stroke="#6a0a0a" stroke-width="0.5"/>
<text x="462.30" y="57.80" font-size="6.7" text-anchor="start" font-weight="normal" fill="#222" >CD56+ ILC1-like</text>
<circle cx="454.6" cy="64.8" r="2.5" fill="#f3e21c" stroke="#7a6c10" stroke-width="0.5"/>
<text x="462.30" y="67.20" font-size="6.7" text-anchor="start" font-weight="normal" fill="#222" >CD56bright NK</text>
<circle cx="454.6" cy="74.2" r="2.5" fill="#f0bd68" stroke="#8a5a1e" stroke-width="0.5"/>
<text x="462.30" y="76.60" font-size="6.7" text-anchor="start" font-weight="normal" fill="#222" >CD56dim NK</text>
<rect x="450.40" y="81.90" width="8.40" height="3.80" fill="#c8c6cc" stroke="none" stroke-width="0"/>
<text x="462.30" y="86.20" font-size="6.7" text-anchor="start" font-weight="normal" fill="#222" >HD</text>
<rect x="450.40" y="91.50" width="8.40" height="3.80" fill="#8a84be" stroke="none" stroke-width="0"/>
<text x="462.30" y="95.80" font-size="6.7" text-anchor="start" font-weight="normal" fill="#222" >AML at diagnosis</text>
<rect x="45.00" y="198.10" width="11.25" height="42.65" fill="#c8c6cc" stroke="none" stroke-width="0"/>
<rect x="56.25" y="195.00" width="11.25" height="45.75" fill="#8a84be" stroke="none" stroke-width="0"/>
<rect x="79.75" y="206.90" width="11.25" height="33.85" fill="#c8c6cc" stroke="none" stroke-width="0"/>
<rect x="91.00" y="174.40" width="11.25" height="66.35" fill="#8a84be" stroke="none" stroke-width="0"/>
<rect x="114.10" y="183.80" width="11.60" height="56.95" fill="#c8c6cc" stroke="none" stroke-width="0"/>
<rect x="125.70" y="193.70" width="11.40" height="47.05" fill="#8a84be" stroke="none" stroke-width="0"/>
<line x1="50.62" y1="198.10" x2="50.62" y2="193.10" stroke="#222" stroke-width="1.1"/>
<line x1="48.02" y1="193.10" x2="53.23" y2="193.10" stroke="#222" stroke-width="1.1"/>
<line x1="61.88" y1="195.00" x2="61.88" y2="187.50" stroke="#222" stroke-width="1.1"/>
<line x1="59.27" y1="187.50" x2="64.47" y2="187.50" stroke="#222" stroke-width="1.1"/>
<line x1="85.38" y1="206.90" x2="85.38" y2="201.25" stroke="#222" stroke-width="1.1"/>
<line x1="82.78" y1="201.25" x2="87.97" y2="201.25" stroke="#222" stroke-width="1.1"/>
<line x1="119.90" y1="183.80" x2="119.90" y2="181.00" stroke="#222" stroke-width="1.1"/>
<line x1="117.30" y1="181.00" x2="122.50" y2="181.00" stroke="#222" stroke-width="1.1"/>
<line x1="131.40" y1="193.70" x2="131.40" y2="185.50" stroke="#222" stroke-width="1.1"/>
<line x1="128.80" y1="185.50" x2="134.00" y2="185.50" stroke="#222" stroke-width="1.1"/>
<line x1="38.75" y1="168.50" x2="38.75" y2="241.35" stroke="#222" stroke-width="1.4"/>
<line x1="36.15" y1="240.75" x2="38.75" y2="240.75" stroke="#222" stroke-width="1.2"/>
<text x="32.55" y="243.05" font-size="6.7" text-anchor="end" font-weight="normal" fill="#222" >0</text>
<line x1="36.15" y1="226.90" x2="38.75" y2="226.90" stroke="#222" stroke-width="1.2"/>
<text x="32.55" y="229.20" font-size="6.7" text-anchor="end" font-weight="normal" fill="#222" >20</text>
<line x1="36.15" y1="213.05" x2="38.75" y2="213.05" stroke="#222" stroke-width="1.2"/>
<text x="32.55" y="215.35" font-size="6.7" text-anchor="end" font-weight="normal" fill="#222" >40</text>
<line x1="36.15" y1="199.20" x2="38.75" y2="199.20" stroke="#222" stroke-width="1.2"/>
<text x="32.55" y="201.50" font-size="6.7" text-anchor="end" font-weight="normal" fill="#222" >60</text>
<line x1="36.15" y1="185.35" x2="38.75" y2="185.35" stroke="#222" stroke-width="1.2"/>
<text x="32.55" y="187.65" font-size="6.7" text-anchor="end" font-weight="normal" fill="#222" >80</text>
<line x1="36.15" y1="171.50" x2="38.75" y2="171.50" stroke="#222" stroke-width="1.2"/>
<text x="32.55" y="173.80" font-size="6.7" text-anchor="end" font-weight="normal" fill="#222" >100</text>
<line x1="38.05" y1="240.75" x2="140.50" y2="240.75" stroke="#222" stroke-width="1.5"/>
<line x1="50.62" y1="240.75" x2="50.62" y2="243.55" stroke="#222" stroke-width="1.1"/>
<line x1="61.88" y1="240.75" x2="61.88" y2="243.55" stroke="#222" stroke-width="1.1"/>
<line x1="85.38" y1="240.75" x2="85.38" y2="243.55" stroke="#222" stroke-width="1.1"/>
<line x1="96.62" y1="240.75" x2="96.62" y2="243.55" stroke="#222" stroke-width="1.1"/>
<line x1="119.90" y1="240.75" x2="119.90" y2="243.55" stroke="#222" stroke-width="1.1"/>
<line x1="131.40" y1="240.75" x2="131.40" y2="243.55" stroke="#222" stroke-width="1.1"/>
<text x="90.00" y="158.00" font-size="8.6" text-anchor="middle" font-weight="normal" fill="#111" >Granzyme A</text>
<circle cx="46.00" cy="173.75" r="1.35" fill="#c0141c" stroke="#6a0a0a" stroke-width="0.45"/>
<circle cx="54.75" cy="173.75" r="1.35" fill="#c0141c" stroke="#6a0a0a" stroke-width="0.45"/>
<circle cx="46.00" cy="182.75" r="1.35" fill="#c0141c" stroke="#6a0a0a" stroke-width="0.45"/>
<circle cx="50.62" cy="181.88" r="1.35" fill="#c0141c" stroke="#6a0a0a" stroke-width="0.45"/>
<circle cx="54.75" cy="184.38" r="1.35" fill="#c0141c" stroke="#6a0a0a" stroke-width="0.45"/>
<circle cx="50.62" cy="186.88" r="1.35" fill="#c0141c" stroke="#6a0a0a" stroke-width="0.45"/>
<circle cx="50.62" cy="195.00" r="1.35" fill="#c0141c" stroke="#6a0a0a" stroke-width="0.45"/>
<circle cx="46.00" cy="197.25" r="1.35" fill="#c0141c" stroke="#6a0a0a" stroke-width="0.45"/>
<circle cx="50.62" cy="199.00" r="1.35" fill="#c0141c" stroke="#6a0a0a" stroke-width="0.45"/>
<circle cx="50.62" cy="203.75" r="1.35" fill="#c0141c" stroke="#6a0a0a" stroke-width="0.45"/>
<circle cx="54.75" cy="208.12" r="1.35" fill="#c0141c" stroke="#6a0a0a" stroke-width="0.45"/>
<circle cx="50.62" cy="211.00" r="1.35" fill="#c0141c" stroke="#6a0a0a" stroke-width="0.45"/>
<circle cx="46.00" cy="219.00" r="1.35" fill="#c0141c" stroke="#6a0a0a" stroke-width="0.45"/>
<circle cx="50.62" cy="219.38" r="1.35" fill="#c0141c" stroke="#6a0a0a" stroke-width="0.45"/>
<circle cx="50.62" cy="230.25" r="1.35" fill="#c0141c" stroke="#6a0a0a" stroke-width="0.45"/>
<circle cx="61.88" cy="181.88" r="1.35" fill="#c0141c" stroke="#6a0a0a" stroke-width="0.45"/>
<circle cx="61.88" cy="187.75" r="1.35" fill="#c0141c" stroke="#6a0a0a" stroke-width="0.45"/>
<circle cx="61.88" cy="194.75" r="1.35" fill="#c0141c" stroke="#6a0a0a" stroke-width="0.45"/>
<circle cx="61.88" cy="213.12" r="1.35" fill="#c0141c" stroke="#6a0a0a" stroke-width="0.45"/>
<circle cx="80.62" cy="173.75" r="1.35" fill="#f3e21c" stroke="#7a6c10" stroke-width="0.45"/>
<circle cx="85.25" cy="176.25" r="1.35" fill="#f3e21c" stroke="#7a6c10" stroke-width="0.45"/>
<circle cx="85.25" cy="183.12" r="1.35" fill="#f3e21c" stroke="#7a6c10" stroke-width="0.45"/>
<circle cx="80.62" cy="195.62" r="1.35" fill="#f3e21c" stroke="#7a6c10" stroke-width="0.45"/>
<circle cx="85.25" cy="196.88" r="1.35" fill="#f3e21c" stroke="#7a6c10" stroke-width="0.45"/>
<circle cx="85.25" cy="201.25" r="1.35" fill="#f3e21c" stroke="#7a6c10" stroke-width="0.45"/>
<circle cx="80.62" cy="213.75" r="1.35" fill="#f3e21c" stroke="#7a6c10" stroke-width="0.45"/>
<circle cx="85.25" cy="211.88" r="1.35" fill="#f3e21c" stroke="#7a6c10" stroke-width="0.45"/>
<circle cx="80.62" cy="217.50" r="1.35" fill="#f3e21c" stroke="#7a6c10" stroke-width="0.45"/>
<circle cx="85.25" cy="217.25" r="1.35" fill="#f3e21c" stroke="#7a6c10" stroke-width="0.45"/>
<circle cx="89.75" cy="217.75" r="1.35" fill="#f3e21c" stroke="#7a6c10" stroke-width="0.45"/>
<circle cx="80.62" cy="221.25" r="1.35" fill="#f3e21c" stroke="#7a6c10" stroke-width="0.45"/>
<circle cx="85.25" cy="221.50" r="1.35" fill="#f3e21c" stroke="#7a6c10" stroke-width="0.45"/>
<circle cx="89.75" cy="221.50" r="1.35" fill="#f3e21c" stroke="#7a6c10" stroke-width="0.45"/>
<circle cx="85.25" cy="230.62" r="1.35" fill="#f3e21c" stroke="#7a6c10" stroke-width="0.45"/>
<circle cx="92.50" cy="173.75" r="1.35" fill="#f3e21c" stroke="#7a6c10" stroke-width="0.45"/>
<circle cx="92.50" cy="177.25" r="1.35" fill="#f3e21c" stroke="#7a6c10" stroke-width="0.45"/>
<circle cx="96.88" cy="175.25" r="1.35" fill="#f3e21c" stroke="#7a6c10" stroke-width="0.45"/>
<circle cx="101.25" cy="176.00" r="1.35" fill="#f3e21c" stroke="#7a6c10" stroke-width="0.45"/>
<circle cx="115.48" cy="171.26" r="1.35" fill="#f0bd68" stroke="#8a5a1e" stroke-width="0.45"/>
<circle cx="117.76" cy="172.06" r="1.35" fill="#f0bd68" stroke="#8a5a1e" stroke-width="0.45"/>
<circle cx="120.03" cy="173.20" r="1.35" fill="#f0bd68" stroke="#8a5a1e" stroke-width="0.45"/>
<circle cx="122.31" cy="173.54" r="1.35" fill="#f0bd68" stroke="#8a5a1e" stroke-width="0.45"/>
<circle cx="124.59" cy="171.61" r="1.35" fill="#f0bd68" stroke="#8a5a1e" stroke-width="0.45"/>
<circle cx="117.53" cy="175.48" r="1.35" fill="#f0bd68" stroke="#8a5a1e" stroke-width="0.45"/>
<circle cx="120.03" cy="176.96" r="1.35" fill="#f0bd68" stroke="#8a5a1e" stroke-width="0.45"/>
<circle cx="120.03" cy="180.38" r="1.35" fill="#f0bd68" stroke="#8a5a1e" stroke-width="0.45"/>
<circle cx="117.53" cy="188.92" r="1.35" fill="#f0bd68" stroke="#8a5a1e" stroke-width="0.45"/>
<circle cx="120.03" cy="188.92" r="1.35" fill="#f0bd68" stroke="#8a5a1e" stroke-width="0.45"/>
<circle cx="115.48" cy="192.33" r="1.35" fill="#f0bd68" stroke="#8a5a1e" stroke-width="0.45"/>
<circle cx="122.08" cy="192.33" r="1.35" fill="#f0bd68" stroke="#8a5a1e" stroke-width="0.45"/>
<circle cx="124.59" cy="192.11" r="1.35" fill="#f0bd68" stroke="#8a5a1e" stroke-width="0.45"/>
<circle cx="120.03" cy="194.84" r="1.35" fill="#f0bd68" stroke="#8a5a1e" stroke-width="0.45"/>
<circle cx="120.03" cy="214.89" r="1.35" fill="#f0bd68" stroke="#8a5a1e" stroke-width="0.45"/>
<circle cx="131.77" cy="178.67" r="1.35" fill="#f0bd68" stroke="#8a5a1e" stroke-width="0.45"/>
<circle cx="131.77" cy="195.75" r="1.35" fill="#f0bd68" stroke="#8a5a1e" stroke-width="0.45"/>
<circle cx="131.77" cy="205.77" r="1.35" fill="#f0bd68" stroke="#8a5a1e" stroke-width="0.45"/>
<line x1="77.80" y1="167.80" x2="89.90" y2="167.80" stroke="#3a3a3a" stroke-width="1.5"/>
<text x="83.85" y="168.40" font-size="5.5" text-anchor="middle" font-weight="normal" fill="#222" >**</text>
<text x="56.25" y="252.40" font-size="7.0" text-anchor="middle" font-weight="normal" fill="#222" >CD56+</text>
<text x="56.25" y="260.60" font-size="7.0" text-anchor="middle" font-weight="normal" fill="#222" >ILC1-like</text>
<text x="91.25" y="252.40" font-size="7.0" text-anchor="middle" font-weight="normal" fill="#222" >CD56bright</text>
<text x="91.25" y="260.60" font-size="7.0" text-anchor="middle" font-weight="normal" fill="#222" >NK</text>
<text x="125.75" y="252.40" font-size="7.0" text-anchor="middle" font-weight="normal" fill="#222" >CD56dim</text>
<text x="125.75" y="260.60" font-size="7.0" text-anchor="middle" font-weight="normal" fill="#222" >NK</text>
<text transform="translate(14.40,205.00) rotate(-90)" x="0" y="0" font-size="7.6" text-anchor="middle" font-weight="bold" fill="#222" textLength="50" lengthAdjust="spacingAndGlyphs" >% of positive cells</text>
<rect x="197.00" y="231.25" width="11.25" height="9.50" fill="#c8c6cc" stroke="none" stroke-width="0"/>
<rect x="208.25" y="228.00" width="11.25" height="12.75" fill="#8a84be" stroke="none" stroke-width="0"/>
<rect x="231.25" y="229.25" width="11.25" height="11.50" fill="#c8c6cc" stroke="none" stroke-width="0"/>
<rect x="242.50" y="224.50" width="11.25" height="16.25" fill="#8a84be" stroke="none" stroke-width="0"/>
<rect x="266.20" y="211.10" width="11.70" height="29.65" fill="#c8c6cc" stroke="none" stroke-width="0"/>
<rect x="277.90" y="201.20" width="11.10" height="39.55" fill="#8a84be" stroke="none" stroke-width="0"/>
<line x1="202.62" y1="231.25" x2="202.62" y2="227.50" stroke="#222" stroke-width="1.1"/>
<line x1="200.03" y1="227.50" x2="205.22" y2="227.50" stroke="#222" stroke-width="1.1"/>
<line x1="213.88" y1="228.00" x2="213.88" y2="220.50" stroke="#222" stroke-width="1.1"/>
<line x1="211.28" y1="220.50" x2="216.47" y2="220.50" stroke="#222" stroke-width="1.1"/>
<line x1="236.88" y1="229.25" x2="236.88" y2="224.50" stroke="#222" stroke-width="1.1"/>
<line x1="234.28" y1="224.50" x2="239.47" y2="224.50" stroke="#222" stroke-width="1.1"/>
<line x1="248.12" y1="224.50" x2="248.12" y2="222.50" stroke="#222" stroke-width="1.1"/>
<line x1="245.53" y1="222.50" x2="250.72" y2="222.50" stroke="#222" stroke-width="1.1"/>
<line x1="272.05" y1="211.10" x2="272.05" y2="206.60" stroke="#222" stroke-width="1.1"/>
<line x1="269.45" y1="206.60" x2="274.65" y2="206.60" stroke="#222" stroke-width="1.1"/>
<line x1="283.45" y1="201.20" x2="283.45" y2="189.50" stroke="#222" stroke-width="1.1"/>
<line x1="280.85" y1="189.50" x2="286.05" y2="189.50" stroke="#222" stroke-width="1.1"/>
<line x1="190.50" y1="168.50" x2="190.50" y2="241.35" stroke="#222" stroke-width="1.4"/>
<line x1="187.90" y1="240.75" x2="190.50" y2="240.75" stroke="#222" stroke-width="1.2"/>
<text x="184.30" y="243.05" font-size="6.7" text-anchor="end" font-weight="normal" fill="#222" >0</text>
<line x1="187.90" y1="226.90" x2="190.50" y2="226.90" stroke="#222" stroke-width="1.2"/>
<text x="184.30" y="229.20" font-size="6.7" text-anchor="end" font-weight="normal" fill="#222" >20</text>
<line x1="187.90" y1="213.05" x2="190.50" y2="213.05" stroke="#222" stroke-width="1.2"/>
<text x="184.30" y="215.35" font-size="6.7" text-anchor="end" font-weight="normal" fill="#222" >40</text>
<line x1="187.90" y1="199.20" x2="190.50" y2="199.20" stroke="#222" stroke-width="1.2"/>
<text x="184.30" y="201.50" font-size="6.7" text-anchor="end" font-weight="normal" fill="#222" >60</text>
<line x1="187.90" y1="185.35" x2="190.50" y2="185.35" stroke="#222" stroke-width="1.2"/>
<text x="184.30" y="187.65" font-size="6.7" text-anchor="end" font-weight="normal" fill="#222" >80</text>
<line x1="187.90" y1="171.50" x2="190.50" y2="171.50" stroke="#222" stroke-width="1.2"/>
<text x="184.30" y="173.80" font-size="6.7" text-anchor="end" font-weight="normal" fill="#222" >100</text>
<line x1="189.80" y1="240.75" x2="292.50" y2="240.75" stroke="#222" stroke-width="1.5"/>
<line x1="202.62" y1="240.75" x2="202.62" y2="243.55" stroke="#222" stroke-width="1.1"/>
<line x1="213.88" y1="240.75" x2="213.88" y2="243.55" stroke="#222" stroke-width="1.1"/>
<line x1="236.88" y1="240.75" x2="236.88" y2="243.55" stroke="#222" stroke-width="1.1"/>
<line x1="248.12" y1="240.75" x2="248.12" y2="243.55" stroke="#222" stroke-width="1.1"/>
<line x1="272.05" y1="240.75" x2="272.05" y2="243.55" stroke="#222" stroke-width="1.1"/>
<line x1="283.45" y1="240.75" x2="283.45" y2="243.55" stroke="#222" stroke-width="1.1"/>
<text x="241.00" y="158.00" font-size="8.6" text-anchor="middle" font-weight="normal" fill="#111" >Granzyme B</text>
<circle cx="202.00" cy="207.50" r="1.35" fill="#c0141c" stroke="#6a0a0a" stroke-width="0.45"/>
<circle cx="200.00" cy="218.00" r="1.35" fill="#c0141c" stroke="#6a0a0a" stroke-width="0.45"/>
<circle cx="202.50" cy="218.75" r="1.35" fill="#c0141c" stroke="#6a0a0a" stroke-width="0.45"/>
<circle cx="200.00" cy="223.75" r="1.35" fill="#c0141c" stroke="#6a0a0a" stroke-width="0.45"/>
<circle cx="205.00" cy="225.50" r="1.35" fill="#c0141c" stroke="#6a0a0a" stroke-width="0.45"/>
<circle cx="198.00" cy="231.25" r="1.35" fill="#c0141c" stroke="#6a0a0a" stroke-width="0.45"/>
<circle cx="201.25" cy="231.25" r="1.35" fill="#c0141c" stroke="#6a0a0a" stroke-width="0.45"/>
<circle cx="204.50" cy="231.25" r="1.35" fill="#c0141c" stroke="#6a0a0a" stroke-width="0.45"/>
<circle cx="198.00" cy="234.50" r="1.35" fill="#c0141c" stroke="#6a0a0a" stroke-width="0.45"/>
<circle cx="201.25" cy="234.50" r="1.35" fill="#c0141c" stroke="#6a0a0a" stroke-width="0.45"/>
<circle cx="204.50" cy="234.50" r="1.35" fill="#c0141c" stroke="#6a0a0a" stroke-width="0.45"/>
<circle cx="200.00" cy="237.50" r="1.35" fill="#c0141c" stroke="#6a0a0a" stroke-width="0.45"/>
<circle cx="198.00" cy="239.50" r="1.35" fill="#c0141c" stroke="#6a0a0a" stroke-width="0.45"/>
<circle cx="202.50" cy="239.50" r="1.35" fill="#c0141c" stroke="#6a0a0a" stroke-width="0.45"/>
<circle cx="206.25" cy="240.00" r="1.35" fill="#c0141c" stroke="#6a0a0a" stroke-width="0.45"/>
<circle cx="213.75" cy="208.75" r="1.35" fill="#c0141c" stroke="#6a0a0a" stroke-width="0.45"/>
<circle cx="213.75" cy="225.50" r="1.35" fill="#c0141c" stroke="#6a0a0a" stroke-width="0.45"/>
<circle cx="213.75" cy="234.50" r="1.35" fill="#c0141c" stroke="#6a0a0a" stroke-width="0.45"/>
<circle cx="213.75" cy="240.50" r="1.35" fill="#c0141c" stroke="#6a0a0a" stroke-width="0.45"/>
<circle cx="235.00" cy="198.00" r="1.35" fill="#f3e21c" stroke="#7a6c10" stroke-width="0.45"/>
<circle cx="238.75" cy="200.50" r="1.35" fill="#f3e21c" stroke="#7a6c10" stroke-width="0.45"/>
<circle cx="238.75" cy="220.50" r="1.35" fill="#f3e21c" stroke="#7a6c10" stroke-width="0.45"/>
<circle cx="234.50" cy="224.50" r="1.35" fill="#f3e21c" stroke="#7a6c10" stroke-width="0.45"/>
<circle cx="233.00" cy="230.00" r="1.35" fill="#f3e21c" stroke="#7a6c10" stroke-width="0.45"/>
<circle cx="236.25" cy="231.25" r="1.35" fill="#f3e21c" stroke="#7a6c10" stroke-width="0.45"/>
<circle cx="239.50" cy="231.25" r="1.35" fill="#f3e21c" stroke="#7a6c10" stroke-width="0.45"/>
<circle cx="233.00" cy="234.50" r="1.35" fill="#f3e21c" stroke="#7a6c10" stroke-width="0.45"/>
<circle cx="236.25" cy="234.50" r="1.35" fill="#f3e21c" stroke="#7a6c10" stroke-width="0.45"/>
<circle cx="240.00" cy="234.50" r="1.35" fill="#f3e21c" stroke="#7a6c10" stroke-width="0.45"/>
<circle cx="233.00" cy="237.50" r="1.35" fill="#f3e21c" stroke="#7a6c10" stroke-width="0.45"/>
<circle cx="236.25" cy="237.50" r="1.35" fill="#f3e21c" stroke="#7a6c10" stroke-width="0.45"/>
<circle cx="240.00" cy="237.50" r="1.35" fill="#f3e21c" stroke="#7a6c10" stroke-width="0.45"/>
<circle cx="233.00" cy="240.00" r="1.35" fill="#f3e21c" stroke="#7a6c10" stroke-width="0.45"/>
<circle cx="237.50" cy="240.00" r="1.35" fill="#f3e21c" stroke="#7a6c10" stroke-width="0.45"/>
<circle cx="241.25" cy="236.25" r="1.35" fill="#f3e21c" stroke="#7a6c10" stroke-width="0.45"/>
<circle cx="248.75" cy="220.50" r="1.35" fill="#f3e21c" stroke="#7a6c10" stroke-width="0.45"/>
<circle cx="253.00" cy="225.50" r="1.35" fill="#f3e21c" stroke="#7a6c10" stroke-width="0.45"/>
<circle cx="244.50" cy="226.25" r="1.35" fill="#f3e21c" stroke="#7a6c10" stroke-width="0.45"/>
<circle cx="267.34" cy="183.00" r="1.35" fill="#f0bd68" stroke="#8a5a1e" stroke-width="0.45"/>
<circle cx="271.90" cy="182.65" r="1.35" fill="#f0bd68" stroke="#8a5a1e" stroke-width="0.45"/>
<circle cx="271.90" cy="191.99" r="1.35" fill="#f0bd68" stroke="#8a5a1e" stroke-width="0.45"/>
<circle cx="271.90" cy="199.74" r="1.35" fill="#f0bd68" stroke="#8a5a1e" stroke-width="0.45"/>
<circle cx="271.90" cy="206.91" r="1.35" fill="#f0bd68" stroke="#8a5a1e" stroke-width="0.45"/>
<circle cx="276.22" cy="206.91" r="1.35" fill="#f0bd68" stroke="#8a5a1e" stroke-width="0.45"/>
<circle cx="267.68" cy="211.13" r="1.35" fill="#f0bd68" stroke="#8a5a1e" stroke-width="0.45"/>
<circle cx="271.90" cy="210.79" r="1.35" fill="#f0bd68" stroke="#8a5a1e" stroke-width="0.45"/>
<circle cx="276.22" cy="211.92" r="1.35" fill="#f0bd68" stroke="#8a5a1e" stroke-width="0.45"/>
<circle cx="271.90" cy="214.89" r="1.35" fill="#f0bd68" stroke="#8a5a1e" stroke-width="0.45"/>
<circle cx="271.90" cy="221.15" r="1.35" fill="#f0bd68" stroke="#8a5a1e" stroke-width="0.45"/>
<circle cx="267.68" cy="228.21" r="1.35" fill="#f0bd68" stroke="#8a5a1e" stroke-width="0.45"/>
<circle cx="276.22" cy="227.07" r="1.35" fill="#f0bd68" stroke="#8a5a1e" stroke-width="0.45"/>
<circle cx="276.22" cy="232.43" r="1.35" fill="#f0bd68" stroke="#8a5a1e" stroke-width="0.45"/>
<circle cx="271.90" cy="235.05" r="1.35" fill="#f0bd68" stroke="#8a5a1e" stroke-width="0.45"/>
<circle cx="283.63" cy="176.39" r="1.35" fill="#f0bd68" stroke="#8a5a1e" stroke-width="0.45"/>
<circle cx="283.63" cy="192.33" r="1.35" fill="#f0bd68" stroke="#8a5a1e" stroke-width="0.45"/>
<circle cx="283.63" cy="202.81" r="1.35" fill="#f0bd68" stroke="#8a5a1e" stroke-width="0.45"/>
<circle cx="283.63" cy="231.29" r="1.35" fill="#f0bd68" stroke="#8a5a1e" stroke-width="0.45"/>
<text x="208.40" y="252.20" font-size="7.0" text-anchor="middle" font-weight="normal" fill="#222" >CD56+</text>
<text x="208.40" y="260.40" font-size="7.0" text-anchor="middle" font-weight="normal" fill="#222" >ILC1-like</text>
<text x="243.10" y="252.20" font-size="7.0" text-anchor="middle" font-weight="normal" fill="#222" >CD56bright</text>
<text x="243.10" y="260.40" font-size="7.0" text-anchor="middle" font-weight="normal" fill="#222" >NK</text>
<text x="278.00" y="252.20" font-size="7.0" text-anchor="middle" font-weight="normal" fill="#222" >CD56dim</text>
<text x="278.00" y="260.40" font-size="7.0" text-anchor="middle" font-weight="normal" fill="#222" >NK</text>
<text transform="translate(166.40,205.00) rotate(-90)" x="0" y="0" font-size="7.6" text-anchor="middle" font-weight="bold" fill="#222" textLength="50" lengthAdjust="spacingAndGlyphs" >% of positive cells</text>
<rect x="346.40" y="235.00" width="10.90" height="5.75" fill="#c8c6cc" stroke="none" stroke-width="0"/>
<rect x="357.30" y="236.90" width="11.60" height="3.85" fill="#8a84be" stroke="none" stroke-width="0"/>
<rect x="380.10" y="231.90" width="11.30" height="8.85" fill="#c8c6cc" stroke="none" stroke-width="0"/>
<rect x="391.40" y="229.40" width="11.50" height="11.35" fill="#8a84be" stroke="none" stroke-width="0"/>
<rect x="414.00" y="238.00" width="11.20" height="2.75" fill="#c8c6cc" stroke="none" stroke-width="0"/>
<rect x="425.20" y="233.10" width="11.70" height="7.65" fill="#8a84be" stroke="none" stroke-width="0"/>
<line x1="351.85" y1="235.00" x2="351.85" y2="232.80" stroke="#222" stroke-width="1.1"/>
<line x1="349.25" y1="232.80" x2="354.45" y2="232.80" stroke="#222" stroke-width="1.1"/>
<line x1="363.10" y1="236.90" x2="363.10" y2="235.00" stroke="#222" stroke-width="1.1"/>
<line x1="360.50" y1="235.00" x2="365.70" y2="235.00" stroke="#222" stroke-width="1.1"/>
<line x1="385.75" y1="231.90" x2="385.75" y2="229.40" stroke="#222" stroke-width="1.1"/>
<line x1="383.15" y1="229.40" x2="388.35" y2="229.40" stroke="#222" stroke-width="1.1"/>
<line x1="397.15" y1="229.40" x2="397.15" y2="223.10" stroke="#222" stroke-width="1.1"/>
<line x1="394.55" y1="223.10" x2="399.75" y2="223.10" stroke="#222" stroke-width="1.1"/>
<line x1="419.60" y1="238.00" x2="419.60" y2="236.00" stroke="#222" stroke-width="1.1"/>
<line x1="417.00" y1="236.00" x2="422.20" y2="236.00" stroke="#222" stroke-width="1.1"/>
<line x1="431.05" y1="233.10" x2="431.05" y2="231.60" stroke="#222" stroke-width="1.1"/>
<line x1="428.45" y1="231.60" x2="433.65" y2="231.60" stroke="#222" stroke-width="1.1"/>
<line x1="340.00" y1="170.00" x2="340.00" y2="241.35" stroke="#222" stroke-width="1.4"/>
<line x1="337.40" y1="240.75" x2="340.00" y2="240.75" stroke="#222" stroke-width="1.2"/>
<text x="333.80" y="243.05" font-size="6.7" text-anchor="end" font-weight="normal" fill="#222" >0</text>
<line x1="337.40" y1="227.18" x2="340.00" y2="227.18" stroke="#222" stroke-width="1.2"/>
<text x="333.80" y="229.48" font-size="6.7" text-anchor="end" font-weight="normal" fill="#222" >20</text>
<line x1="337.40" y1="213.61" x2="340.00" y2="213.61" stroke="#222" stroke-width="1.2"/>
<text x="333.80" y="215.91" font-size="6.7" text-anchor="end" font-weight="normal" fill="#222" >40</text>
<line x1="337.40" y1="200.04" x2="340.00" y2="200.04" stroke="#222" stroke-width="1.2"/>
<text x="333.80" y="202.34" font-size="6.7" text-anchor="end" font-weight="normal" fill="#222" >60</text>
<line x1="337.40" y1="186.47" x2="340.00" y2="186.47" stroke="#222" stroke-width="1.2"/>
<text x="333.80" y="188.77" font-size="6.7" text-anchor="end" font-weight="normal" fill="#222" >80</text>
<line x1="337.40" y1="172.90" x2="340.00" y2="172.90" stroke="#222" stroke-width="1.2"/>
<text x="333.80" y="175.20" font-size="6.7" text-anchor="end" font-weight="normal" fill="#222" >100</text>
<line x1="339.30" y1="240.75" x2="442.30" y2="240.75" stroke="#222" stroke-width="1.5"/>
<line x1="351.85" y1="240.75" x2="351.85" y2="243.55" stroke="#222" stroke-width="1.1"/>
<line x1="363.10" y1="240.75" x2="363.10" y2="243.55" stroke="#222" stroke-width="1.1"/>
<line x1="385.75" y1="240.75" x2="385.75" y2="243.55" stroke="#222" stroke-width="1.1"/>
<line x1="397.15" y1="240.75" x2="397.15" y2="243.55" stroke="#222" stroke-width="1.1"/>
<line x1="419.60" y1="240.75" x2="419.60" y2="243.55" stroke="#222" stroke-width="1.1"/>
<line x1="431.05" y1="240.75" x2="431.05" y2="243.55" stroke="#222" stroke-width="1.1"/>
<text x="391.50" y="158.00" font-size="8.6" text-anchor="middle" font-weight="normal" fill="#111" >Granzyme K</text>
<circle cx="351.38" cy="225.25" r="1.35" fill="#c0141c" stroke="#6a0a0a" stroke-width="0.45"/>
<circle cx="353.50" cy="224.38" r="1.35" fill="#c0141c" stroke="#6a0a0a" stroke-width="0.45"/>
<circle cx="349.25" cy="228.12" r="1.35" fill="#c0141c" stroke="#6a0a0a" stroke-width="0.45"/>
<circle cx="351.75" cy="230.00" r="1.35" fill="#c0141c" stroke="#6a0a0a" stroke-width="0.45"/>
<circle cx="347.00" cy="232.75" r="1.35" fill="#c0141c" stroke="#6a0a0a" stroke-width="0.45"/>
<circle cx="349.50" cy="232.25" r="1.35" fill="#c0141c" stroke="#6a0a0a" stroke-width="0.45"/>
<circle cx="352.00" cy="234.00" r="1.35" fill="#c0141c" stroke="#6a0a0a" stroke-width="0.45"/>
<circle cx="353.88" cy="235.00" r="1.35" fill="#c0141c" stroke="#6a0a0a" stroke-width="0.45"/>
<circle cx="356.00" cy="234.75" r="1.35" fill="#c0141c" stroke="#6a0a0a" stroke-width="0.45"/>
<circle cx="349.50" cy="235.00" r="1.35" fill="#c0141c" stroke="#6a0a0a" stroke-width="0.45"/>
<circle cx="347.62" cy="235.62" r="1.35" fill="#c0141c" stroke="#6a0a0a" stroke-width="0.45"/>
<circle cx="353.88" cy="237.75" r="1.35" fill="#c0141c" stroke="#6a0a0a" stroke-width="0.45"/>
<circle cx="349.50" cy="239.00" r="1.35" fill="#c0141c" stroke="#6a0a0a" stroke-width="0.45"/>
<circle cx="358.88" cy="233.50" r="1.35" fill="#c0141c" stroke="#6a0a0a" stroke-width="0.45"/>
<circle cx="363.50" cy="236.00" r="1.35" fill="#c0141c" stroke="#6a0a0a" stroke-width="0.45"/>
<circle cx="367.62" cy="234.38" r="1.35" fill="#c0141c" stroke="#6a0a0a" stroke-width="0.45"/>
<circle cx="363.50" cy="241.00" r="1.35" fill="#c0141c" stroke="#6a0a0a" stroke-width="0.45"/>
<circle cx="384.75" cy="215.25" r="1.35" fill="#f3e21c" stroke="#7a6c10" stroke-width="0.45"/>
<circle cx="386.38" cy="221.25" r="1.35" fill="#f3e21c" stroke="#7a6c10" stroke-width="0.45"/>
<circle cx="384.75" cy="228.12" r="1.35" fill="#f3e21c" stroke="#7a6c10" stroke-width="0.45"/>
<circle cx="386.75" cy="231.25" r="1.35" fill="#f3e21c" stroke="#7a6c10" stroke-width="0.45"/>
<circle cx="381.00" cy="234.00" r="1.35" fill="#f3e21c" stroke="#7a6c10" stroke-width="0.45"/>
<circle cx="383.25" cy="233.50" r="1.35" fill="#f3e21c" stroke="#7a6c10" stroke-width="0.45"/>
<circle cx="385.12" cy="235.62" r="1.35" fill="#f3e21c" stroke="#7a6c10" stroke-width="0.45"/>
<circle cx="387.00" cy="234.75" r="1.35" fill="#f3e21c" stroke="#7a6c10" stroke-width="0.45"/>
<circle cx="389.25" cy="235.00" r="1.35" fill="#f3e21c" stroke="#7a6c10" stroke-width="0.45"/>
<circle cx="385.12" cy="239.38" r="1.35" fill="#f3e21c" stroke="#7a6c10" stroke-width="0.45"/>
<circle cx="386.75" cy="237.75" r="1.35" fill="#f3e21c" stroke="#7a6c10" stroke-width="0.45"/>
<circle cx="397.00" cy="219.00" r="1.35" fill="#f3e21c" stroke="#7a6c10" stroke-width="0.45"/>
<circle cx="397.00" cy="227.50" r="1.35" fill="#f3e21c" stroke="#7a6c10" stroke-width="0.45"/>
<circle cx="397.00" cy="241.00" r="1.35" fill="#f3e21c" stroke="#7a6c10" stroke-width="0.45"/>
<circle cx="416.54" cy="237.69" r="1.35" fill="#f0bd68" stroke="#8a5a1e" stroke-width="0.45"/>
<circle cx="415.00" cy="239.23" r="1.35" fill="#f0bd68" stroke="#8a5a1e" stroke-width="0.45"/>
<circle cx="419.23" cy="235.38" r="1.35" fill="#f0bd68" stroke="#8a5a1e" stroke-width="0.45"/>
<circle cx="420.77" cy="236.54" r="1.35" fill="#f0bd68" stroke="#8a5a1e" stroke-width="0.45"/>
<circle cx="417.31" cy="240.00" r="1.35" fill="#f0bd68" stroke="#8a5a1e" stroke-width="0.45"/>
<circle cx="419.62" cy="240.00" r="1.35" fill="#f0bd68" stroke="#8a5a1e" stroke-width="0.45"/>
<circle cx="421.54" cy="240.00" r="1.35" fill="#f0bd68" stroke="#8a5a1e" stroke-width="0.45"/>
<circle cx="423.46" cy="240.00" r="1.35" fill="#f0bd68" stroke="#8a5a1e" stroke-width="0.45"/>
<circle cx="415.00" cy="240.77" r="1.35" fill="#f0bd68" stroke="#8a5a1e" stroke-width="0.45"/>
<circle cx="426.92" cy="235.77" r="1.35" fill="#f0bd68" stroke="#8a5a1e" stroke-width="0.45"/>
<circle cx="431.15" cy="231.54" r="1.35" fill="#f0bd68" stroke="#8a5a1e" stroke-width="0.45"/>
<circle cx="435.62" cy="230.54" r="1.35" fill="#f0bd68" stroke="#8a5a1e" stroke-width="0.45"/>
<circle cx="435.62" cy="234.08" r="1.35" fill="#f0bd68" stroke="#8a5a1e" stroke-width="0.45"/>
<line x1="418.10" y1="220.00" x2="429.80" y2="220.00" stroke="#3a3a3a" stroke-width="1.5"/>
<text x="423.95" y="220.60" font-size="5.5" text-anchor="middle" font-weight="normal" fill="#222" >**</text>
<text x="357.90" y="252.20" font-size="7.0" text-anchor="middle" font-weight="normal" fill="#222" >CD56+</text>
<text x="357.90" y="260.40" font-size="7.0" text-anchor="middle" font-weight="normal" fill="#222" >ILC1-like</text>
<text x="392.60" y="252.20" font-size="7.0" text-anchor="middle" font-weight="normal" fill="#222" >CD56bright</text>
<text x="392.60" y="260.40" font-size="7.0" text-anchor="middle" font-weight="normal" fill="#222" >NK</text>
<text x="427.50" y="252.20" font-size="7.0" text-anchor="middle" font-weight="normal" fill="#222" >CD56dim</text>
<text x="427.50" y="260.40" font-size="7.0" text-anchor="middle" font-weight="normal" fill="#222" >NK</text>
<text transform="translate(315.40,205.00) rotate(-90)" x="0" y="0" font-size="7.6" text-anchor="middle" font-weight="bold" fill="#222" textLength="50" lengthAdjust="spacingAndGlyphs" >% of positive cells</text>
<rect x="45.00" y="326.25" width="11.25" height="28.25" fill="#c8c6cc" stroke="none" stroke-width="0"/>
<rect x="56.25" y="324.25" width="11.25" height="30.25" fill="#8a84be" stroke="none" stroke-width="0"/>
<rect x="79.50" y="321.25" width="11.25" height="33.25" fill="#c8c6cc" stroke="none" stroke-width="0"/>
<rect x="90.75" y="298.25" width="11.25" height="56.25" fill="#8a84be" stroke="none" stroke-width="0"/>
<rect x="113.75" y="291.25" width="11.25" height="63.25" fill="#c8c6cc" stroke="none" stroke-width="0"/>
<rect x="125.00" y="296.75" width="11.25" height="57.75" fill="#8a84be" stroke="none" stroke-width="0"/>
<line x1="50.62" y1="326.25" x2="50.62" y2="321.25" stroke="#222" stroke-width="1.1"/>
<line x1="48.02" y1="321.25" x2="53.23" y2="321.25" stroke="#222" stroke-width="1.1"/>
<line x1="61.88" y1="324.25" x2="61.88" y2="313.75" stroke="#222" stroke-width="1.1"/>
<line x1="59.27" y1="313.75" x2="64.47" y2="313.75" stroke="#222" stroke-width="1.1"/>
<line x1="85.12" y1="321.25" x2="85.12" y2="314.50" stroke="#222" stroke-width="1.1"/>
<line x1="82.53" y1="314.50" x2="87.72" y2="314.50" stroke="#222" stroke-width="1.1"/>
<line x1="96.38" y1="298.25" x2="96.38" y2="292.00" stroke="#222" stroke-width="1.1"/>
<line x1="93.78" y1="292.00" x2="98.97" y2="292.00" stroke="#222" stroke-width="1.1"/>
<line x1="119.38" y1="291.25" x2="119.38" y2="289.50" stroke="#222" stroke-width="1.1"/>
<line x1="116.78" y1="289.50" x2="121.97" y2="289.50" stroke="#222" stroke-width="1.1"/>
<line x1="130.62" y1="296.75" x2="130.62" y2="285.50" stroke="#222" stroke-width="1.1"/>
<line x1="128.03" y1="285.50" x2="133.22" y2="285.50" stroke="#222" stroke-width="1.1"/>
<line x1="38.75" y1="282.50" x2="38.75" y2="355.10" stroke="#222" stroke-width="1.4"/>
<line x1="36.15" y1="354.50" x2="38.75" y2="354.50" stroke="#222" stroke-width="1.2"/>
<text x="32.55" y="356.80" font-size="6.7" text-anchor="end" font-weight="normal" fill="#222" >0</text>
<line x1="36.15" y1="340.70" x2="38.75" y2="340.70" stroke="#222" stroke-width="1.2"/>
<text x="32.55" y="343.00" font-size="6.7" text-anchor="end" font-weight="normal" fill="#222" >20</text>
<line x1="36.15" y1="326.90" x2="38.75" y2="326.90" stroke="#222" stroke-width="1.2"/>
<text x="32.55" y="329.20" font-size="6.7" text-anchor="end" font-weight="normal" fill="#222" >40</text>
<line x1="36.15" y1="313.10" x2="38.75" y2="313.10" stroke="#222" stroke-width="1.2"/>
<text x="32.55" y="315.40" font-size="6.7" text-anchor="end" font-weight="normal" fill="#222" >60</text>
<line x1="36.15" y1="299.30" x2="38.75" y2="299.30" stroke="#222" stroke-width="1.2"/>
<text x="32.55" y="301.60" font-size="6.7" text-anchor="end" font-weight="normal" fill="#222" >80</text>
<line x1="36.15" y1="285.50" x2="38.75" y2="285.50" stroke="#222" stroke-width="1.2"/>
<text x="32.55" y="287.80" font-size="6.7" text-anchor="end" font-weight="normal" fill="#222" >100</text>
<line x1="38.05" y1="354.50" x2="138.75" y2="354.50" stroke="#222" stroke-width="1.5"/>
<line x1="50.62" y1="354.50" x2="50.62" y2="357.30" stroke="#222" stroke-width="1.1"/>
<line x1="61.88" y1="354.50" x2="61.88" y2="357.30" stroke="#222" stroke-width="1.1"/>
<line x1="85.12" y1="354.50" x2="85.12" y2="357.30" stroke="#222" stroke-width="1.1"/>
<line x1="96.38" y1="354.50" x2="96.38" y2="357.30" stroke="#222" stroke-width="1.1"/>
<line x1="119.38" y1="354.50" x2="119.38" y2="357.30" stroke="#222" stroke-width="1.1"/>
<line x1="130.62" y1="354.50" x2="130.62" y2="357.30" stroke="#222" stroke-width="1.1"/>
<text x="89.00" y="277.50" font-size="8.6" text-anchor="middle" font-weight="normal" fill="#111" >Perforin</text>
<circle cx="46.25" cy="305.50" r="1.35" fill="#c0141c" stroke="#6a0a0a" stroke-width="0.45"/>
<circle cx="50.50" cy="306.25" r="1.35" fill="#c0141c" stroke="#6a0a0a" stroke-width="0.45"/>
<circle cx="50.50" cy="311.25" r="1.35" fill="#c0141c" stroke="#6a0a0a" stroke-width="0.45"/>
<circle cx="46.25" cy="315.00" r="1.35" fill="#c0141c" stroke="#6a0a0a" stroke-width="0.45"/>
<circle cx="55.00" cy="315.00" r="1.35" fill="#c0141c" stroke="#6a0a0a" stroke-width="0.45"/>
<circle cx="50.50" cy="318.00" r="1.35" fill="#c0141c" stroke="#6a0a0a" stroke-width="0.45"/>
<circle cx="55.00" cy="328.75" r="1.35" fill="#c0141c" stroke="#6a0a0a" stroke-width="0.45"/>
<circle cx="50.50" cy="332.00" r="1.35" fill="#c0141c" stroke="#6a0a0a" stroke-width="0.45"/>
<circle cx="50.50" cy="336.25" r="1.35" fill="#c0141c" stroke="#6a0a0a" stroke-width="0.45"/>
<circle cx="50.50" cy="341.25" r="1.35" fill="#c0141c" stroke="#6a0a0a" stroke-width="0.45"/>
<circle cx="55.00" cy="348.75" r="1.35" fill="#c0141c" stroke="#6a0a0a" stroke-width="0.45"/>
<circle cx="50.50" cy="351.25" r="1.35" fill="#c0141c" stroke="#6a0a0a" stroke-width="0.45"/>
<circle cx="62.00" cy="296.25" r="1.35" fill="#c0141c" stroke="#6a0a0a" stroke-width="0.45"/>
<circle cx="62.00" cy="327.00" r="1.35" fill="#c0141c" stroke="#6a0a0a" stroke-width="0.45"/>
<circle cx="62.00" cy="330.50" r="1.35" fill="#c0141c" stroke="#6a0a0a" stroke-width="0.45"/>
<circle cx="62.00" cy="340.50" r="1.35" fill="#c0141c" stroke="#6a0a0a" stroke-width="0.45"/>
<circle cx="85.00" cy="288.00" r="1.35" fill="#f3e21c" stroke="#7a6c10" stroke-width="0.45"/>
<circle cx="85.00" cy="300.50" r="1.35" fill="#f3e21c" stroke="#7a6c10" stroke-width="0.45"/>
<circle cx="85.00" cy="302.50" r="1.35" fill="#f3e21c" stroke="#7a6c10" stroke-width="0.45"/>
<circle cx="80.50" cy="310.00" r="1.35" fill="#f3e21c" stroke="#7a6c10" stroke-width="0.45"/>
<circle cx="89.50" cy="312.00" r="1.35" fill="#f3e21c" stroke="#7a6c10" stroke-width="0.45"/>
<circle cx="85.00" cy="316.25" r="1.35" fill="#f3e21c" stroke="#7a6c10" stroke-width="0.45"/>
<circle cx="85.00" cy="321.25" r="1.35" fill="#f3e21c" stroke="#7a6c10" stroke-width="0.45"/>
<circle cx="85.00" cy="328.75" r="1.35" fill="#f3e21c" stroke="#7a6c10" stroke-width="0.45"/>
<circle cx="89.50" cy="328.75" r="1.35" fill="#f3e21c" stroke="#7a6c10" stroke-width="0.45"/>
<circle cx="85.00" cy="343.00" r="1.35" fill="#f3e21c" stroke="#7a6c10" stroke-width="0.45"/>
<circle cx="89.50" cy="342.00" r="1.35" fill="#f3e21c" stroke="#7a6c10" stroke-width="0.45"/>
<circle cx="85.00" cy="351.25" r="1.35" fill="#f3e21c" stroke="#7a6c10" stroke-width="0.45"/>
<circle cx="96.25" cy="292.00" r="1.35" fill="#f3e21c" stroke="#7a6c10" stroke-width="0.45"/>
<circle cx="100.50" cy="290.00" r="1.35" fill="#f3e21c" stroke="#7a6c10" stroke-width="0.45"/>
<circle cx="96.25" cy="315.00" r="1.35" fill="#f3e21c" stroke="#7a6c10" stroke-width="0.45"/>
<circle cx="114.50" cy="286.25" r="1.35" fill="#f0bd68" stroke="#8a5a1e" stroke-width="0.45"/>
<circle cx="117.50" cy="285.50" r="1.35" fill="#f0bd68" stroke="#8a5a1e" stroke-width="0.45"/>
<circle cx="120.50" cy="285.50" r="1.35" fill="#f0bd68" stroke="#8a5a1e" stroke-width="0.45"/>
<circle cx="123.75" cy="286.25" r="1.35" fill="#f0bd68" stroke="#8a5a1e" stroke-width="0.45"/>
<circle cx="116.25" cy="287.50" r="1.35" fill="#f0bd68" stroke="#8a5a1e" stroke-width="0.45"/>
<circle cx="119.50" cy="287.50" r="1.35" fill="#f0bd68" stroke="#8a5a1e" stroke-width="0.45"/>
<circle cx="122.50" cy="288.00" r="1.35" fill="#f0bd68" stroke="#8a5a1e" stroke-width="0.45"/>
<circle cx="118.75" cy="292.00" r="1.35" fill="#f0bd68" stroke="#8a5a1e" stroke-width="0.45"/>
<circle cx="117.50" cy="297.50" r="1.35" fill="#f0bd68" stroke="#8a5a1e" stroke-width="0.45"/>
<circle cx="120.00" cy="297.50" r="1.35" fill="#f0bd68" stroke="#8a5a1e" stroke-width="0.45"/>
<circle cx="118.00" cy="305.50" r="1.35" fill="#f0bd68" stroke="#8a5a1e" stroke-width="0.45"/>
<circle cx="130.50" cy="285.50" r="1.35" fill="#f0bd68" stroke="#8a5a1e" stroke-width="0.45"/>
<circle cx="130.50" cy="317.00" r="1.35" fill="#f0bd68" stroke="#8a5a1e" stroke-width="0.45"/>
<text x="55.85" y="366.00" font-size="7.0" text-anchor="middle" font-weight="normal" fill="#222" >CD56+</text>
<text x="55.85" y="374.20" font-size="7.0" text-anchor="middle" font-weight="normal" fill="#222" >ILC1-like</text>
<text x="90.45" y="366.00" font-size="7.0" text-anchor="middle" font-weight="normal" fill="#222" >CD56bright</text>
<text x="90.45" y="374.20" font-size="7.0" text-anchor="middle" font-weight="normal" fill="#222" >NK</text>
<text x="125.15" y="366.00" font-size="7.0" text-anchor="middle" font-weight="normal" fill="#222" >CD56dim</text>
<text x="125.15" y="374.20" font-size="7.0" text-anchor="middle" font-weight="normal" fill="#222" >NK</text>
<text transform="translate(14.40,320.00) rotate(-90)" x="0" y="0" font-size="7.6" text-anchor="middle" font-weight="bold" fill="#222" textLength="50" lengthAdjust="spacingAndGlyphs" >% of positive cells</text>
<rect x="197.00" y="345.00" width="11.25" height="9.50" fill="#c8c6cc" stroke="none" stroke-width="0"/>
<rect x="208.25" y="353.50" width="11.25" height="1.00" fill="#8a84be" stroke="none" stroke-width="0"/>
<rect x="231.25" y="342.50" width="11.25" height="12.00" fill="#c8c6cc" stroke="none" stroke-width="0"/>
<rect x="242.50" y="352.00" width="11.25" height="2.50" fill="#8a84be" stroke="none" stroke-width="0"/>
<rect x="266.25" y="347.50" width="11.25" height="7.00" fill="#c8c6cc" stroke="none" stroke-width="0"/>
<rect x="277.50" y="349.50" width="11.25" height="5.00" fill="#8a84be" stroke="none" stroke-width="0"/>
<line x1="202.62" y1="345.00" x2="202.62" y2="340.50" stroke="#222" stroke-width="1.1"/>
<line x1="200.03" y1="340.50" x2="205.22" y2="340.50" stroke="#222" stroke-width="1.1"/>
<line x1="236.88" y1="342.50" x2="236.88" y2="337.00" stroke="#222" stroke-width="1.1"/>
<line x1="234.28" y1="337.00" x2="239.47" y2="337.00" stroke="#222" stroke-width="1.1"/>
<line x1="248.12" y1="352.00" x2="248.12" y2="348.00" stroke="#222" stroke-width="1.1"/>
<line x1="245.53" y1="348.00" x2="250.72" y2="348.00" stroke="#222" stroke-width="1.1"/>
<line x1="271.88" y1="347.50" x2="271.88" y2="344.00" stroke="#222" stroke-width="1.1"/>
<line x1="269.27" y1="344.00" x2="274.48" y2="344.00" stroke="#222" stroke-width="1.1"/>
<line x1="283.12" y1="349.50" x2="283.12" y2="347.00" stroke="#222" stroke-width="1.1"/>
<line x1="280.52" y1="347.00" x2="285.73" y2="347.00" stroke="#222" stroke-width="1.1"/>
<line x1="190.50" y1="282.50" x2="190.50" y2="355.10" stroke="#222" stroke-width="1.4"/>
<line x1="187.90" y1="354.50" x2="190.50" y2="354.50" stroke="#222" stroke-width="1.2"/>
<text x="184.30" y="356.80" font-size="6.7" text-anchor="end" font-weight="normal" fill="#222" >0</text>
<line x1="187.90" y1="340.70" x2="190.50" y2="340.70" stroke="#222" stroke-width="1.2"/>
<text x="184.30" y="343.00" font-size="6.7" text-anchor="end" font-weight="normal" fill="#222" >20</text>
<line x1="187.90" y1="326.90" x2="190.50" y2="326.90" stroke="#222" stroke-width="1.2"/>
<text x="184.30" y="329.20" font-size="6.7" text-anchor="end" font-weight="normal" fill="#222" >40</text>
<line x1="187.90" y1="313.10" x2="190.50" y2="313.10" stroke="#222" stroke-width="1.2"/>
<text x="184.30" y="315.40" font-size="6.7" text-anchor="end" font-weight="normal" fill="#222" >60</text>
<line x1="187.90" y1="299.30" x2="190.50" y2="299.30" stroke="#222" stroke-width="1.2"/>
<text x="184.30" y="301.60" font-size="6.7" text-anchor="end" font-weight="normal" fill="#222" >80</text>
<line x1="187.90" y1="285.50" x2="190.50" y2="285.50" stroke="#222" stroke-width="1.2"/>
<text x="184.30" y="287.80" font-size="6.7" text-anchor="end" font-weight="normal" fill="#222" >100</text>
<line x1="189.80" y1="354.50" x2="292.50" y2="354.50" stroke="#222" stroke-width="1.5"/>
<line x1="202.62" y1="354.50" x2="202.62" y2="357.30" stroke="#222" stroke-width="1.1"/>
<line x1="213.88" y1="354.50" x2="213.88" y2="357.30" stroke="#222" stroke-width="1.1"/>
<line x1="236.88" y1="354.50" x2="236.88" y2="357.30" stroke="#222" stroke-width="1.1"/>
<line x1="248.12" y1="354.50" x2="248.12" y2="357.30" stroke="#222" stroke-width="1.1"/>
<line x1="271.88" y1="354.50" x2="271.88" y2="357.30" stroke="#222" stroke-width="1.1"/>
<line x1="283.12" y1="354.50" x2="283.12" y2="357.30" stroke="#222" stroke-width="1.1"/>
<text x="241.50" y="277.50" font-size="8.6" text-anchor="middle" font-weight="normal" fill="#111" >Granulysin</text>
<circle cx="203.75" cy="313.25" r="1.35" fill="#c0141c" stroke="#6a0a0a" stroke-width="0.45"/>
<circle cx="200.00" cy="342.50" r="1.35" fill="#c0141c" stroke="#6a0a0a" stroke-width="0.45"/>
<circle cx="203.00" cy="342.50" r="1.35" fill="#c0141c" stroke="#6a0a0a" stroke-width="0.45"/>
<circle cx="206.25" cy="342.00" r="1.35" fill="#c0141c" stroke="#6a0a0a" stroke-width="0.45"/>
<circle cx="200.00" cy="345.00" r="1.35" fill="#c0141c" stroke="#6a0a0a" stroke-width="0.45"/>
<circle cx="205.00" cy="345.50" r="1.35" fill="#c0141c" stroke="#6a0a0a" stroke-width="0.45"/>
<circle cx="201.25" cy="348.00" r="1.35" fill="#c0141c" stroke="#6a0a0a" stroke-width="0.45"/>
<circle cx="204.50" cy="348.75" r="1.35" fill="#c0141c" stroke="#6a0a0a" stroke-width="0.45"/>
<circle cx="198.00" cy="353.00" r="1.35" fill="#c0141c" stroke="#6a0a0a" stroke-width="0.45"/>
<circle cx="202.00" cy="351.25" r="1.35" fill="#c0141c" stroke="#6a0a0a" stroke-width="0.45"/>
<circle cx="206.25" cy="352.00" r="1.35" fill="#c0141c" stroke="#6a0a0a" stroke-width="0.45"/>
<circle cx="210.00" cy="353.00" r="1.35" fill="#c0141c" stroke="#6a0a0a" stroke-width="0.45"/>
<circle cx="212.50" cy="354.50" r="1.35" fill="#c0141c" stroke="#6a0a0a" stroke-width="0.45"/>
<circle cx="215.00" cy="354.50" r="1.35" fill="#c0141c" stroke="#6a0a0a" stroke-width="0.45"/>
<circle cx="218.00" cy="354.50" r="1.35" fill="#c0141c" stroke="#6a0a0a" stroke-width="0.45"/>
<circle cx="236.25" cy="302.50" r="1.35" fill="#f3e21c" stroke="#7a6c10" stroke-width="0.45"/>
<circle cx="236.25" cy="333.75" r="1.35" fill="#f3e21c" stroke="#7a6c10" stroke-width="0.45"/>
<circle cx="232.50" cy="348.00" r="1.35" fill="#f3e21c" stroke="#7a6c10" stroke-width="0.45"/>
<circle cx="236.25" cy="340.50" r="1.35" fill="#f3e21c" stroke="#7a6c10" stroke-width="0.45"/>
<circle cx="238.75" cy="345.00" r="1.35" fill="#f3e21c" stroke="#7a6c10" stroke-width="0.45"/>
<circle cx="240.50" cy="350.00" r="1.35" fill="#f3e21c" stroke="#7a6c10" stroke-width="0.45"/>
<circle cx="232.50" cy="354.50" r="1.35" fill="#f3e21c" stroke="#7a6c10" stroke-width="0.45"/>
<circle cx="236.25" cy="354.50" r="1.35" fill="#f3e21c" stroke="#7a6c10" stroke-width="0.45"/>
<circle cx="241.25" cy="354.50" r="1.35" fill="#f3e21c" stroke="#7a6c10" stroke-width="0.45"/>
<circle cx="237.00" cy="348.75" r="1.35" fill="#f3e21c" stroke="#7a6c10" stroke-width="0.45"/>
<circle cx="246.75" cy="339.00" r="1.35" fill="#f3e21c" stroke="#7a6c10" stroke-width="0.45"/>
<circle cx="245.00" cy="354.50" r="1.35" fill="#f3e21c" stroke="#7a6c10" stroke-width="0.45"/>
<circle cx="249.50" cy="354.50" r="1.35" fill="#f3e21c" stroke="#7a6c10" stroke-width="0.45"/>
<circle cx="252.50" cy="354.50" r="1.35" fill="#f3e21c" stroke="#7a6c10" stroke-width="0.45"/>
<circle cx="269.50" cy="338.25" r="1.35" fill="#f0bd68" stroke="#8a5a1e" stroke-width="0.45"/>
<circle cx="268.00" cy="345.50" r="1.35" fill="#f0bd68" stroke="#8a5a1e" stroke-width="0.45"/>
<circle cx="272.00" cy="344.50" r="1.35" fill="#f0bd68" stroke="#8a5a1e" stroke-width="0.45"/>
<circle cx="265.50" cy="348.75" r="1.35" fill="#f0bd68" stroke="#8a5a1e" stroke-width="0.45"/>
<circle cx="270.00" cy="348.75" r="1.35" fill="#f0bd68" stroke="#8a5a1e" stroke-width="0.45"/>
<circle cx="274.50" cy="348.75" r="1.35" fill="#f0bd68" stroke="#8a5a1e" stroke-width="0.45"/>
<circle cx="266.25" cy="354.50" r="1.35" fill="#f0bd68" stroke="#8a5a1e" stroke-width="0.45"/>
<circle cx="271.25" cy="354.50" r="1.35" fill="#f0bd68" stroke="#8a5a1e" stroke-width="0.45"/>
<circle cx="275.00" cy="354.50" r="1.35" fill="#f0bd68" stroke="#8a5a1e" stroke-width="0.45"/>
<circle cx="282.50" cy="337.00" r="1.35" fill="#f0bd68" stroke="#8a5a1e" stroke-width="0.45"/>
<circle cx="282.00" cy="345.50" r="1.35" fill="#f0bd68" stroke="#8a5a1e" stroke-width="0.45"/>
<circle cx="285.00" cy="348.75" r="1.35" fill="#f0bd68" stroke="#8a5a1e" stroke-width="0.45"/>
<circle cx="280.00" cy="354.50" r="1.35" fill="#f0bd68" stroke="#8a5a1e" stroke-width="0.45"/>
<circle cx="286.25" cy="354.50" r="1.35" fill="#f0bd68" stroke="#8a5a1e" stroke-width="0.45"/>
<line x1="197.00" y1="303.25" x2="208.75" y2="303.25" stroke="#3a3a3a" stroke-width="1.5"/>
<text x="202.88" y="303.85" font-size="5.5" text-anchor="middle" font-weight="normal" fill="#222" >***</text>
<text x="208.40" y="366.20" font-size="7.0" text-anchor="middle" font-weight="normal" fill="#222" >CD56+</text>
<text x="208.40" y="374.40" font-size="7.0" text-anchor="middle" font-weight="normal" fill="#222" >ILC1-like</text>
<text x="243.10" y="366.20" font-size="7.0" text-anchor="middle" font-weight="normal" fill="#222" >CD56bright</text>
<text x="243.10" y="374.40" font-size="7.0" text-anchor="middle" font-weight="normal" fill="#222" >NK</text>
<text x="278.00" y="366.20" font-size="7.0" text-anchor="middle" font-weight="normal" fill="#222" >CD56dim</text>
<text x="278.00" y="374.40" font-size="7.0" text-anchor="middle" font-weight="normal" fill="#222" >NK</text>
<text transform="translate(166.40,320.00) rotate(-90)" x="0" y="0" font-size="7.6" text-anchor="middle" font-weight="bold" fill="#222" textLength="50" lengthAdjust="spacingAndGlyphs" >% of positive cells</text>
<circle cx="351.5" cy="299.5" r="2.5" fill="#c0141c" stroke="#6a0a0a" stroke-width="0.5"/>
<text x="359.20" y="301.90" font-size="6.7" text-anchor="start" font-weight="normal" fill="#222" >CD56+ ILC1-like</text>
<circle cx="351.5" cy="309.1" r="2.5" fill="#f3e21c" stroke="#7a6c10" stroke-width="0.5"/>
<text x="359.20" y="311.50" font-size="6.7" text-anchor="start" font-weight="normal" fill="#222" >CD56bright NK</text>
<circle cx="351.5" cy="318.6" r="2.5" fill="#f0bd68" stroke="#8a5a1e" stroke-width="0.5"/>
<text x="359.20" y="321.00" font-size="6.7" text-anchor="start" font-weight="normal" fill="#222" >CD56dim NK</text>
<rect x="347.30" y="326.10" width="8.40" height="3.80" fill="#c8c6cc" stroke="none" stroke-width="0"/>
<text x="359.20" y="330.40" font-size="6.7" text-anchor="start" font-weight="normal" fill="#222" >HD</text>
<rect x="347.30" y="335.50" width="8.40" height="3.80" fill="#8a84be" stroke="none" stroke-width="0"/>
<text x="359.20" y="339.80" font-size="6.7" text-anchor="start" font-weight="normal" fill="#222" >AML at diagnosis</text>
<text x="57.50" y="401.80" font-size="8.6" text-anchor="middle" font-weight="normal" fill="#111" >HD - medium</text>
<text x="121.80" y="401.80" font-size="8.6" text-anchor="middle" font-weight="normal" fill="#111" >HD - K562</text>
<text x="56.60" y="480.60" font-size="8.6" text-anchor="middle" font-weight="normal" fill="#111" >AML - medium</text>
<text x="122.50" y="480.60" font-size="8.6" text-anchor="middle" font-weight="normal" fill="#111" >AML - K562</text>
<text x="188.00" y="480.60" font-size="8.6" text-anchor="middle" font-weight="normal" fill="#111" >AML - blasts</text>
<rect x="26.50" y="405.00" width="62.00" height="61.40" fill="none" stroke="#222" stroke-width="0.95"/>
<line x1="25.10" y1="415.23" x2="26.50" y2="415.23" stroke="#444" stroke-width="0.6"/>
<line x1="25.10" y1="425.47" x2="26.50" y2="425.47" stroke="#444" stroke-width="0.6"/>
<line x1="25.10" y1="435.70" x2="26.50" y2="435.70" stroke="#444" stroke-width="0.6"/>
<line x1="25.10" y1="445.93" x2="26.50" y2="445.93" stroke="#444" stroke-width="0.6"/>
<line x1="25.10" y1="456.17" x2="26.50" y2="456.17" stroke="#444" stroke-width="0.6"/>
<line x1="25.70" y1="410.12" x2="26.50" y2="410.12" stroke="#777" stroke-width="0.4"/>
<line x1="25.70" y1="415.23" x2="26.50" y2="415.23" stroke="#777" stroke-width="0.4"/>
<line x1="25.70" y1="420.35" x2="26.50" y2="420.35" stroke="#777" stroke-width="0.4"/>
<line x1="25.70" y1="425.47" x2="26.50" y2="425.47" stroke="#777" stroke-width="0.4"/>
<line x1="25.70" y1="430.58" x2="26.50" y2="430.58" stroke="#777" stroke-width="0.4"/>
<line x1="25.70" y1="435.70" x2="26.50" y2="435.70" stroke="#777" stroke-width="0.4"/>
<line x1="25.70" y1="440.82" x2="26.50" y2="440.82" stroke="#777" stroke-width="0.4"/>
<line x1="25.70" y1="445.93" x2="26.50" y2="445.93" stroke="#777" stroke-width="0.4"/>
<line x1="25.70" y1="451.05" x2="26.50" y2="451.05" stroke="#777" stroke-width="0.4"/>
<line x1="25.70" y1="456.17" x2="26.50" y2="456.17" stroke="#777" stroke-width="0.4"/>
<line x1="25.70" y1="461.28" x2="26.50" y2="461.28" stroke="#777" stroke-width="0.4"/>
<line x1="31.67" y1="466.40" x2="31.67" y2="467.40" stroke="#555" stroke-width="0.5"/>
<line x1="36.83" y1="466.40" x2="36.83" y2="467.40" stroke="#555" stroke-width="0.5"/>
<line x1="42.00" y1="466.40" x2="42.00" y2="467.40" stroke="#555" stroke-width="0.5"/>
<line x1="47.17" y1="466.40" x2="47.17" y2="467.40" stroke="#555" stroke-width="0.5"/>
<line x1="52.33" y1="466.40" x2="52.33" y2="467.40" stroke="#555" stroke-width="0.5"/>
<line x1="57.50" y1="466.40" x2="57.50" y2="467.40" stroke="#555" stroke-width="0.5"/>
<line x1="62.67" y1="466.40" x2="62.67" y2="467.40" stroke="#555" stroke-width="0.5"/>
<line x1="67.83" y1="466.40" x2="67.83" y2="467.40" stroke="#555" stroke-width="0.5"/>
<line x1="73.00" y1="466.40" x2="73.00" y2="467.40" stroke="#555" stroke-width="0.5"/>
<line x1="78.17" y1="466.40" x2="78.17" y2="467.40" stroke="#555" stroke-width="0.5"/>
<line x1="83.33" y1="466.40" x2="83.33" y2="467.40" stroke="#555" stroke-width="0.5"/>
<line x1="36.50" y1="467.30" x2="42.50" y2="467.30" stroke="#333" stroke-width="0.8"/>
<rect x="51.00" y="438.10" width="31.80" height="24.50" fill="none" stroke="#333" stroke-width="0.9"/>
<rect x="91.30" y="405.00" width="61.70" height="61.40" fill="none" stroke="#222" stroke-width="0.95"/>
<line x1="89.90" y1="415.23" x2="91.30" y2="415.23" stroke="#444" stroke-width="0.6"/>
<line x1="89.90" y1="425.47" x2="91.30" y2="425.47" stroke="#444" stroke-width="0.6"/>
<line x1="89.90" y1="435.70" x2="91.30" y2="435.70" stroke="#444" stroke-width="0.6"/>
<line x1="89.90" y1="445.93" x2="91.30" y2="445.93" stroke="#444" stroke-width="0.6"/>
<line x1="89.90" y1="456.17" x2="91.30" y2="456.17" stroke="#444" stroke-width="0.6"/>
<line x1="90.50" y1="410.12" x2="91.30" y2="410.12" stroke="#777" stroke-width="0.4"/>
<line x1="90.50" y1="415.23" x2="91.30" y2="415.23" stroke="#777" stroke-width="0.4"/>
<line x1="90.50" y1="420.35" x2="91.30" y2="420.35" stroke="#777" stroke-width="0.4"/>
<line x1="90.50" y1="425.47" x2="91.30" y2="425.47" stroke="#777" stroke-width="0.4"/>
<line x1="90.50" y1="430.58" x2="91.30" y2="430.58" stroke="#777" stroke-width="0.4"/>
<line x1="90.50" y1="435.70" x2="91.30" y2="435.70" stroke="#777" stroke-width="0.4"/>
<line x1="90.50" y1="440.82" x2="91.30" y2="440.82" stroke="#777" stroke-width="0.4"/>
<line x1="90.50" y1="445.93" x2="91.30" y2="445.93" stroke="#777" stroke-width="0.4"/>
<line x1="90.50" y1="451.05" x2="91.30" y2="451.05" stroke="#777" stroke-width="0.4"/>
<line x1="90.50" y1="456.17" x2="91.30" y2="456.17" stroke="#777" stroke-width="0.4"/>
<line x1="90.50" y1="461.28" x2="91.30" y2="461.28" stroke="#777" stroke-width="0.4"/>
<line x1="96.44" y1="466.40" x2="96.44" y2="467.40" stroke="#555" stroke-width="0.5"/>
<line x1="101.58" y1="466.40" x2="101.58" y2="467.40" stroke="#555" stroke-width="0.5"/>
<line x1="106.72" y1="466.40" x2="106.72" y2="467.40" stroke="#555" stroke-width="0.5"/>
<line x1="111.87" y1="466.40" x2="111.87" y2="467.40" stroke="#555" stroke-width="0.5"/>
<line x1="117.01" y1="466.40" x2="117.01" y2="467.40" stroke="#555" stroke-width="0.5"/>
<line x1="122.15" y1="466.40" x2="122.15" y2="467.40" stroke="#555" stroke-width="0.5"/>
<line x1="127.29" y1="466.40" x2="127.29" y2="467.40" stroke="#555" stroke-width="0.5"/>
<line x1="132.43" y1="466.40" x2="132.43" y2="467.40" stroke="#555" stroke-width="0.5"/>
<line x1="137.57" y1="466.40" x2="137.57" y2="467.40" stroke="#555" stroke-width="0.5"/>
<line x1="142.72" y1="466.40" x2="142.72" y2="467.40" stroke="#555" stroke-width="0.5"/>
<line x1="147.86" y1="466.40" x2="147.86" y2="467.40" stroke="#555" stroke-width="0.5"/>
<line x1="101.30" y1="467.30" x2="107.30" y2="467.30" stroke="#333" stroke-width="0.8"/>
<rect x="116.50" y="438.10" width="32.00" height="24.50" fill="none" stroke="#333" stroke-width="0.9"/>
<rect x="26.50" y="484.60" width="61.70" height="61.70" fill="none" stroke="#222" stroke-width="0.95"/>
<line x1="25.10" y1="494.88" x2="26.50" y2="494.88" stroke="#444" stroke-width="0.6"/>
<line x1="25.10" y1="505.17" x2="26.50" y2="505.17" stroke="#444" stroke-width="0.6"/>
<line x1="25.10" y1="515.45" x2="26.50" y2="515.45" stroke="#444" stroke-width="0.6"/>
<line x1="25.10" y1="525.73" x2="26.50" y2="525.73" stroke="#444" stroke-width="0.6"/>
<line x1="25.10" y1="536.02" x2="26.50" y2="536.02" stroke="#444" stroke-width="0.6"/>
<line x1="25.70" y1="489.74" x2="26.50" y2="489.74" stroke="#777" stroke-width="0.4"/>
<line x1="25.70" y1="494.88" x2="26.50" y2="494.88" stroke="#777" stroke-width="0.4"/>
<line x1="25.70" y1="500.02" x2="26.50" y2="500.02" stroke="#777" stroke-width="0.4"/>
<line x1="25.70" y1="505.17" x2="26.50" y2="505.17" stroke="#777" stroke-width="0.4"/>
<line x1="25.70" y1="510.31" x2="26.50" y2="510.31" stroke="#777" stroke-width="0.4"/>
<line x1="25.70" y1="515.45" x2="26.50" y2="515.45" stroke="#777" stroke-width="0.4"/>
<line x1="25.70" y1="520.59" x2="26.50" y2="520.59" stroke="#777" stroke-width="0.4"/>
<line x1="25.70" y1="525.73" x2="26.50" y2="525.73" stroke="#777" stroke-width="0.4"/>
<line x1="25.70" y1="530.88" x2="26.50" y2="530.88" stroke="#777" stroke-width="0.4"/>
<line x1="25.70" y1="536.02" x2="26.50" y2="536.02" stroke="#777" stroke-width="0.4"/>
<line x1="25.70" y1="541.16" x2="26.50" y2="541.16" stroke="#777" stroke-width="0.4"/>
<line x1="31.64" y1="546.30" x2="31.64" y2="547.30" stroke="#555" stroke-width="0.5"/>
<line x1="36.78" y1="546.30" x2="36.78" y2="547.30" stroke="#555" stroke-width="0.5"/>
<line x1="41.93" y1="546.30" x2="41.93" y2="547.30" stroke="#555" stroke-width="0.5"/>
<line x1="47.07" y1="546.30" x2="47.07" y2="547.30" stroke="#555" stroke-width="0.5"/>
<line x1="52.21" y1="546.30" x2="52.21" y2="547.30" stroke="#555" stroke-width="0.5"/>
<line x1="57.35" y1="546.30" x2="57.35" y2="547.30" stroke="#555" stroke-width="0.5"/>
<line x1="62.49" y1="546.30" x2="62.49" y2="547.30" stroke="#555" stroke-width="0.5"/>
<line x1="67.63" y1="546.30" x2="67.63" y2="547.30" stroke="#555" stroke-width="0.5"/>
<line x1="72.78" y1="546.30" x2="72.78" y2="547.30" stroke="#555" stroke-width="0.5"/>
<line x1="77.92" y1="546.30" x2="77.92" y2="547.30" stroke="#555" stroke-width="0.5"/>
<line x1="83.06" y1="546.30" x2="83.06" y2="547.30" stroke="#555" stroke-width="0.5"/>
<line x1="36.50" y1="547.20" x2="42.50" y2="547.20" stroke="#333" stroke-width="0.8"/>
<rect x="51.40" y="517.60" width="31.60" height="23.60" fill="none" stroke="#333" stroke-width="0.9"/>
<rect x="91.30" y="484.60" width="61.70" height="61.70" fill="none" stroke="#222" stroke-width="0.95"/>
<line x1="89.90" y1="494.88" x2="91.30" y2="494.88" stroke="#444" stroke-width="0.6"/>
<line x1="89.90" y1="505.17" x2="91.30" y2="505.17" stroke="#444" stroke-width="0.6"/>
<line x1="89.90" y1="515.45" x2="91.30" y2="515.45" stroke="#444" stroke-width="0.6"/>
<line x1="89.90" y1="525.73" x2="91.30" y2="525.73" stroke="#444" stroke-width="0.6"/>
<line x1="89.90" y1="536.02" x2="91.30" y2="536.02" stroke="#444" stroke-width="0.6"/>
<line x1="90.50" y1="489.74" x2="91.30" y2="489.74" stroke="#777" stroke-width="0.4"/>
<line x1="90.50" y1="494.88" x2="91.30" y2="494.88" stroke="#777" stroke-width="0.4"/>
<line x1="90.50" y1="500.02" x2="91.30" y2="500.02" stroke="#777" stroke-width="0.4"/>
<line x1="90.50" y1="505.17" x2="91.30" y2="505.17" stroke="#777" stroke-width="0.4"/>
<line x1="90.50" y1="510.31" x2="91.30" y2="510.31" stroke="#777" stroke-width="0.4"/>
<line x1="90.50" y1="515.45" x2="91.30" y2="515.45" stroke="#777" stroke-width="0.4"/>
<line x1="90.50" y1="520.59" x2="91.30" y2="520.59" stroke="#777" stroke-width="0.4"/>
<line x1="90.50" y1="525.73" x2="91.30" y2="525.73" stroke="#777" stroke-width="0.4"/>
<line x1="90.50" y1="530.88" x2="91.30" y2="530.88" stroke="#777" stroke-width="0.4"/>
<line x1="90.50" y1="536.02" x2="91.30" y2="536.02" stroke="#777" stroke-width="0.4"/>
<line x1="90.50" y1="541.16" x2="91.30" y2="541.16" stroke="#777" stroke-width="0.4"/>
<line x1="96.44" y1="546.30" x2="96.44" y2="547.30" stroke="#555" stroke-width="0.5"/>
<line x1="101.58" y1="546.30" x2="101.58" y2="547.30" stroke="#555" stroke-width="0.5"/>
<line x1="106.72" y1="546.30" x2="106.72" y2="547.30" stroke="#555" stroke-width="0.5"/>
<line x1="111.87" y1="546.30" x2="111.87" y2="547.30" stroke="#555" stroke-width="0.5"/>
<line x1="117.01" y1="546.30" x2="117.01" y2="547.30" stroke="#555" stroke-width="0.5"/>
<line x1="122.15" y1="546.30" x2="122.15" y2="547.30" stroke="#555" stroke-width="0.5"/>
<line x1="127.29" y1="546.30" x2="127.29" y2="547.30" stroke="#555" stroke-width="0.5"/>
<line x1="132.43" y1="546.30" x2="132.43" y2="547.30" stroke="#555" stroke-width="0.5"/>
<line x1="137.57" y1="546.30" x2="137.57" y2="547.30" stroke="#555" stroke-width="0.5"/>
<line x1="142.72" y1="546.30" x2="142.72" y2="547.30" stroke="#555" stroke-width="0.5"/>
<line x1="147.86" y1="546.30" x2="147.86" y2="547.30" stroke="#555" stroke-width="0.5"/>
<line x1="101.30" y1="547.20" x2="107.30" y2="547.20" stroke="#333" stroke-width="0.8"/>
<rect x="117.50" y="517.60" width="31.20" height="23.60" fill="none" stroke="#333" stroke-width="0.9"/>
<rect x="157.50" y="484.60" width="61.80" height="61.70" fill="none" stroke="#222" stroke-width="0.95"/>
<line x1="156.10" y1="494.88" x2="157.50" y2="494.88" stroke="#444" stroke-width="0.6"/>
<line x1="156.10" y1="505.17" x2="157.50" y2="505.17" stroke="#444" stroke-width="0.6"/>
<line x1="156.10" y1="515.45" x2="157.50" y2="515.45" stroke="#444" stroke-width="0.6"/>
<line x1="156.10" y1="525.73" x2="157.50" y2="525.73" stroke="#444" stroke-width="0.6"/>
<line x1="156.10" y1="536.02" x2="157.50" y2="536.02" stroke="#444" stroke-width="0.6"/>
<line x1="156.70" y1="489.74" x2="157.50" y2="489.74" stroke="#777" stroke-width="0.4"/>
<line x1="156.70" y1="494.88" x2="157.50" y2="494.88" stroke="#777" stroke-width="0.4"/>
<line x1="156.70" y1="500.02" x2="157.50" y2="500.02" stroke="#777" stroke-width="0.4"/>
<line x1="156.70" y1="505.17" x2="157.50" y2="505.17" stroke="#777" stroke-width="0.4"/>
<line x1="156.70" y1="510.31" x2="157.50" y2="510.31" stroke="#777" stroke-width="0.4"/>
<line x1="156.70" y1="515.45" x2="157.50" y2="515.45" stroke="#777" stroke-width="0.4"/>
<line x1="156.70" y1="520.59" x2="157.50" y2="520.59" stroke="#777" stroke-width="0.4"/>
<line x1="156.70" y1="525.73" x2="157.50" y2="525.73" stroke="#777" stroke-width="0.4"/>
<line x1="156.70" y1="530.88" x2="157.50" y2="530.88" stroke="#777" stroke-width="0.4"/>
<line x1="156.70" y1="536.02" x2="157.50" y2="536.02" stroke="#777" stroke-width="0.4"/>
<line x1="156.70" y1="541.16" x2="157.50" y2="541.16" stroke="#777" stroke-width="0.4"/>
<line x1="162.65" y1="546.30" x2="162.65" y2="547.30" stroke="#555" stroke-width="0.5"/>
<line x1="167.80" y1="546.30" x2="167.80" y2="547.30" stroke="#555" stroke-width="0.5"/>
<line x1="172.95" y1="546.30" x2="172.95" y2="547.30" stroke="#555" stroke-width="0.5"/>
<line x1="178.10" y1="546.30" x2="178.10" y2="547.30" stroke="#555" stroke-width="0.5"/>
<line x1="183.25" y1="546.30" x2="183.25" y2="547.30" stroke="#555" stroke-width="0.5"/>
<line x1="188.40" y1="546.30" x2="188.40" y2="547.30" stroke="#555" stroke-width="0.5"/>
<line x1="193.55" y1="546.30" x2="193.55" y2="547.30" stroke="#555" stroke-width="0.5"/>
<line x1="198.70" y1="546.30" x2="198.70" y2="547.30" stroke="#555" stroke-width="0.5"/>
<line x1="203.85" y1="546.30" x2="203.85" y2="547.30" stroke="#555" stroke-width="0.5"/>
<line x1="209.00" y1="546.30" x2="209.00" y2="547.30" stroke="#555" stroke-width="0.5"/>
<line x1="214.15" y1="546.30" x2="214.15" y2="547.30" stroke="#555" stroke-width="0.5"/>
<line x1="167.50" y1="547.20" x2="173.50" y2="547.20" stroke="#333" stroke-width="0.8"/>
<rect x="181.30" y="517.60" width="31.20" height="23.60" fill="none" stroke="#333" stroke-width="0.9"/>
<circle cx="44.4" cy="451.4" r="6.5" fill="#d0d0d0" stroke="#777" stroke-width="0.6"/>
<path d="M45.5,444.9 C48.5,445.4 50.5,447 52.5,448.4 C54.5,449.8 57.2,450.6 58.8,452.3 C58.2,454.3 56,455 54.3,454.4 C52.8,453.9 51.2,453.8 49.6,454.3 Z" fill="#2a2a2a" stroke="#000" stroke-width="0.8"/>
<path d="M50.3,449.6 C52,450.2 53.5,451.2 54.6,452.2 C53.2,452.7 51.8,452.7 50.4,452.8 Z" fill="#d8d8d8"/>
<ellipse cx="56.6" cy="452.5" rx="2.4" ry="1.9" fill="#000"/>
<circle cx="44.4" cy="451.4" r="5.3" fill="#a0a0a0" stroke="#111" stroke-width="1.0"/>
<circle cx="44.4" cy="451.4" r="3.9" fill="#6e6e6e" stroke="#444" stroke-width="0.4"/>
<circle cx="44.4" cy="451.4" r="2.2" fill="#606060"/>
<circle cx="44.4" cy="451.4" r="0.6" fill="#000"/>
<path d="M102.2,451.4 C102.2,446 105.5,443.6 109.3,443.6 C113,443.6 115.5,446 120,446.6 C127,446.5 134,445.6 138.8,446.8 C141.6,448.2 141.6,454.6 138.8,456 C134,457.2 127,456.6 120,456.4 C115.5,456.8 113,459.2 109.3,459.2 C105.5,459.2 102.2,456.8 102.2,451.4 Z" fill="#a9a9a9" stroke="#222" stroke-width="0.8"/>
<path d="M103.6,451.4 C103.6,447.3 106.3,445.2 109.3,445.2 C112.5,445.2 115,447.6 120,448 C127,448 133,447.3 137.4,448.4 C139.6,449.5 139.6,453.4 137.4,454.5 C133,455.5 127,455 120,454.8 C115,455.2 112.5,457.6 109.3,457.6 C106.3,457.6 103.6,455.5 103.6,451.4 Z" fill="#7a7a7a" stroke="#000" stroke-width="1.0"/>
<circle cx="109.2" cy="451.4" r="4.3" fill="#9a9a9a" stroke="#222" stroke-width="0.6"/>
<circle cx="109.2" cy="451.4" r="2.8" fill="#6a6a6a" stroke="#111" stroke-width="0.6"/>
<circle cx="109.2" cy="451.4" r="1.3" fill="#e0e0e0" stroke="#000" stroke-width="0.6"/>
<path d="M116.5,449.4 L135,449.2 C138,449.5 138,453.3 135,453.6 L116.5,453.4 Z" fill="#6f6f6f" stroke="#111" stroke-width="0.6"/>
<ellipse cx="120" cy="451.4" rx="1.8" ry="1.1" fill="#cfcfcf" stroke="#333" stroke-width="0.4"/>
<ellipse cx="125.6" cy="451.4" rx="2.0" ry="1.2" fill="#fff" stroke="#000" stroke-width="0.7"/>
<ellipse cx="130.3" cy="451.4" rx="1.8" ry="1.4" fill="#111"/>
<ellipse cx="135" cy="451.4" rx="1.6" ry="1.1" fill="#fff" stroke="#000" stroke-width="0.8"/>
<ellipse cx="45.6" cy="531.8" rx="5.5" ry="5.199999999999999" fill="#b5b5b5" stroke="#666" stroke-width="0.5"/>
<ellipse cx="45.6" cy="531.8" rx="4.6" ry="4.3" fill="#6a6a6a" stroke="#111" stroke-width="0.9"/>
<ellipse cx="45.6" cy="531.8" rx="2.85" ry="2.53" fill="#7a7a7a" stroke="#333" stroke-width="0.5"/>
<circle cx="46.2" cy="532.1999999999999" r="0.7" fill="#111"/>
<path d="M50,530 C52,530.5 53,532 52.5,533.5 L50,533.5 Z" fill="#333"/>
<ellipse cx="110.2" cy="531.4" rx="5.300000000000001" ry="5.0" fill="#b5b5b5" stroke="#666" stroke-width="0.5"/>
<ellipse cx="110.2" cy="531.4" rx="4.4" ry="4.1000000000000005" fill="#6a6a6a" stroke="#111" stroke-width="0.9"/>
<ellipse cx="110.2" cy="531.4" rx="2.73" ry="2.42" fill="#7a7a7a" stroke="#333" stroke-width="0.5"/>
<circle cx="110.8" cy="531.8" r="0.7" fill="#111"/>
<path d="M114,529.3 C117,529.3 119.5,530.8 120.5,532.6 C119.5,533.8 117.5,533.6 114,533.4 Z" fill="#777" stroke="#222" stroke-width="0.6"/>
<circle cx="121.2" cy="533.6" r="0.6" fill="#222"/>
<path d="M172.5,533.5 C172,529.5 174.5,527.5 176.5,528 C179,528 180.5,529 180,530.5 C179.5,533 178,535.5 175.5,535.5 C173.5,535.8 172.6,535 172.5,533.5 Z" fill="#6e6e6e" stroke="#111" stroke-width="0.9"/>
<circle cx="176" cy="531.5" r="1.4" fill="#555"/>
<line x1="171.00" y1="534.50" x2="173.00" y2="534.60" stroke="#555" stroke-width="0.5"/>
<line x1="19.80" y1="552.30" x2="19.80" y2="526.20" stroke="#111" stroke-width="1.3"/>
<path d="M17.400000000000002,527.5999999999999 L19.8,522.1999999999999 L22.2,527.5999999999999 Z" fill="#111"/>
<line x1="19.20" y1="552.30" x2="46.70" y2="552.30" stroke="#111" stroke-width="1.3"/>
<path d="M45.300000000000004,549.9 L50.7,552.3 L45.300000000000004,554.6999999999999 Z" fill="#111"/>
<text transform="translate(15.00,537.50) rotate(-90)" x="0" y="0" font-size="9.0" text-anchor="middle" font-weight="normal" fill="#222" textLength="13.2" lengthAdjust="spacingAndGlyphs" stroke="#222" stroke-width="0.35">FS-H</text>
<text x="24.6" y="563.7" font-size="8.8" fill="#1a1a1a" stroke="#222" stroke-width="0.35" textLength="20.4" lengthAdjust="spacingAndGlyphs">CD107a</text>
<rect x="267.00" y="486.50" width="14.80" height="7.80" fill="#4f5668" stroke="none" stroke-width="0"/>
<line x1="274.40" y1="486.50" x2="274.40" y2="484.50" stroke="#222" stroke-width="1.1"/>
<line x1="271.60" y1="484.50" x2="277.20" y2="484.50" stroke="#222" stroke-width="1.1"/>
<rect x="281.80" y="458.70" width="14.80" height="35.60" fill="#2c4d89" stroke="none" stroke-width="0"/>
<line x1="289.20" y1="458.70" x2="289.20" y2="454.20" stroke="#222" stroke-width="1.1"/>
<line x1="286.40" y1="454.20" x2="292.00" y2="454.20" stroke="#222" stroke-width="1.1"/>
<rect x="312.10" y="492.30" width="14.80" height="2.00" fill="#4f5668" stroke="none" stroke-width="0"/>
<line x1="319.50" y1="492.30" x2="319.50" y2="490.30" stroke="#222" stroke-width="1.1"/>
<line x1="316.70" y1="490.30" x2="322.30" y2="490.30" stroke="#222" stroke-width="1.1"/>
<rect x="326.90" y="481.30" width="14.50" height="13.00" fill="#2c4d89" stroke="none" stroke-width="0"/>
<line x1="334.15" y1="481.30" x2="334.15" y2="476.60" stroke="#222" stroke-width="1.1"/>
<line x1="331.35" y1="476.60" x2="336.95" y2="476.60" stroke="#222" stroke-width="1.1"/>
<rect x="341.40" y="487.60" width="15.40" height="6.70" fill="#c8157f" stroke="none" stroke-width="0"/>
<line x1="349.10" y1="487.60" x2="349.10" y2="484.30" stroke="#222" stroke-width="1.1"/>
<line x1="346.30" y1="484.30" x2="351.90" y2="484.30" stroke="#222" stroke-width="1.1"/>
<line x1="263.00" y1="413.30" x2="263.00" y2="494.90" stroke="#222" stroke-width="1.4"/>
<line x1="260.40" y1="494.30" x2="263.00" y2="494.30" stroke="#222" stroke-width="1.2"/>
<text x="256.60" y="496.50" font-size="6.5" text-anchor="end" font-weight="normal" fill="#222" >0</text>
<line x1="260.40" y1="478.70" x2="263.00" y2="478.70" stroke="#222" stroke-width="1.2"/>
<text x="256.60" y="480.90" font-size="6.5" text-anchor="end" font-weight="normal" fill="#222" >10</text>
<line x1="260.40" y1="463.10" x2="263.00" y2="463.10" stroke="#222" stroke-width="1.2"/>
<text x="256.60" y="465.30" font-size="6.5" text-anchor="end" font-weight="normal" fill="#222" >20</text>
<line x1="260.40" y1="447.50" x2="263.00" y2="447.50" stroke="#222" stroke-width="1.2"/>
<text x="256.60" y="449.70" font-size="6.5" text-anchor="end" font-weight="normal" fill="#222" >30</text>
<line x1="260.40" y1="431.90" x2="263.00" y2="431.90" stroke="#222" stroke-width="1.2"/>
<text x="256.60" y="434.10" font-size="6.5" text-anchor="end" font-weight="normal" fill="#222" >40</text>
<line x1="260.40" y1="416.30" x2="263.00" y2="416.30" stroke="#222" stroke-width="1.2"/>
<text x="256.60" y="418.50" font-size="6.5" text-anchor="end" font-weight="normal" fill="#222" >50</text>
<line x1="262.30" y1="494.30" x2="360.50" y2="494.30" stroke="#222" stroke-width="1.5"/>
<line x1="274.30" y1="494.30" x2="274.30" y2="497.10" stroke="#222" stroke-width="1.1"/>
<line x1="289.10" y1="494.30" x2="289.10" y2="497.10" stroke="#222" stroke-width="1.1"/>
<line x1="319.30" y1="494.30" x2="319.30" y2="497.10" stroke="#222" stroke-width="1.1"/>
<line x1="334.30" y1="494.30" x2="334.30" y2="497.10" stroke="#222" stroke-width="1.1"/>
<line x1="349.40" y1="494.30" x2="349.40" y2="497.10" stroke="#222" stroke-width="1.1"/>
<text x="289.30" y="506.40" font-size="7.0" text-anchor="middle" font-weight="normal" fill="#222" >HD</text>
<text x="334.10" y="506.60" font-size="7.0" text-anchor="middle" font-weight="normal" fill="#222" >AML</text>
<circle cx="287.20" cy="418.80" r="1.5" fill="#dc1016" stroke="#5a0505" stroke-width="0.45"/>
<circle cx="283.20" cy="442.90" r="1.5" fill="#dc1016" stroke="#5a0505" stroke-width="0.45"/>
<circle cx="287.20" cy="445.40" r="1.5" fill="#dc1016" stroke="#5a0505" stroke-width="0.45"/>
<circle cx="291.20" cy="445.40" r="1.5" fill="#dc1016" stroke="#5a0505" stroke-width="0.45"/>
<circle cx="291.20" cy="449.50" r="1.5" fill="#dc1016" stroke="#5a0505" stroke-width="0.45"/>
<circle cx="287.20" cy="453.20" r="1.5" fill="#dc1016" stroke="#5a0505" stroke-width="0.45"/>
<circle cx="291.20" cy="454.20" r="1.5" fill="#dc1016" stroke="#5a0505" stroke-width="0.45"/>
<circle cx="287.20" cy="458.60" r="1.5" fill="#dc1016" stroke="#5a0505" stroke-width="0.45"/>
<circle cx="295.10" cy="462.30" r="1.5" fill="#dc1016" stroke="#5a0505" stroke-width="0.45"/>
<circle cx="287.20" cy="465.40" r="1.5" fill="#dc1016" stroke="#5a0505" stroke-width="0.45"/>
<circle cx="291.20" cy="465.20" r="1.5" fill="#dc1016" stroke="#5a0505" stroke-width="0.45"/>
<circle cx="283.40" cy="471.20" r="1.5" fill="#dc1016" stroke="#5a0505" stroke-width="0.45"/>
<circle cx="283.40" cy="474.60" r="1.5" fill="#dc1016" stroke="#5a0505" stroke-width="0.45"/>
<circle cx="287.20" cy="474.00" r="1.5" fill="#dc1016" stroke="#5a0505" stroke-width="0.45"/>
<circle cx="291.20" cy="474.30" r="1.5" fill="#dc1016" stroke="#5a0505" stroke-width="0.45"/>
<circle cx="295.20" cy="474.20" r="1.5" fill="#dc1016" stroke="#5a0505" stroke-width="0.45"/>
<circle cx="272.90" cy="469.20" r="1.5" fill="#dc1016" stroke="#5a0505" stroke-width="0.45"/>
<circle cx="272.90" cy="478.60" r="1.5" fill="#dc1016" stroke="#5a0505" stroke-width="0.45"/>
<circle cx="275.50" cy="480.80" r="1.5" fill="#dc1016" stroke="#5a0505" stroke-width="0.45"/>
<circle cx="280.30" cy="482.50" r="1.5" fill="#dc1016" stroke="#5a0505" stroke-width="0.45"/>
<circle cx="270.60" cy="485.20" r="1.5" fill="#dc1016" stroke="#5a0505" stroke-width="0.45"/>
<circle cx="275.50" cy="485.00" r="1.5" fill="#dc1016" stroke="#5a0505" stroke-width="0.45"/>
<circle cx="268.20" cy="488.10" r="1.5" fill="#dc1016" stroke="#5a0505" stroke-width="0.45"/>
<circle cx="270.60" cy="489.10" r="1.5" fill="#dc1016" stroke="#5a0505" stroke-width="0.45"/>
<circle cx="272.90" cy="487.10" r="1.5" fill="#dc1016" stroke="#5a0505" stroke-width="0.45"/>
<circle cx="275.50" cy="488.80" r="1.5" fill="#dc1016" stroke="#5a0505" stroke-width="0.45"/>
<circle cx="277.80" cy="487.50" r="1.5" fill="#dc1016" stroke="#5a0505" stroke-width="0.45"/>
<circle cx="280.30" cy="487.50" r="1.5" fill="#dc1016" stroke="#5a0505" stroke-width="0.45"/>
<circle cx="277.80" cy="491.70" r="1.5" fill="#dc1016" stroke="#5a0505" stroke-width="0.45"/>
<circle cx="270.60" cy="494.50" r="1.5" fill="#dc1016" stroke="#5a0505" stroke-width="0.45"/>
<circle cx="275.50" cy="493.50" r="1.5" fill="#dc1016" stroke="#5a0505" stroke-width="0.45"/>
<circle cx="319.50" cy="485.40" r="1.5" fill="#dc1016" stroke="#5a0505" stroke-width="0.45"/>
<circle cx="316.50" cy="487.90" r="1.5" fill="#dc1016" stroke="#5a0505" stroke-width="0.45"/>
<circle cx="322.00" cy="489.80" r="1.5" fill="#dc1016" stroke="#5a0505" stroke-width="0.45"/>
<circle cx="316.50" cy="492.70" r="1.5" fill="#dc1016" stroke="#5a0505" stroke-width="0.45"/>
<circle cx="313.80" cy="494.70" r="1.5" fill="#dc1016" stroke="#5a0505" stroke-width="0.45"/>
<circle cx="319.30" cy="494.70" r="1.5" fill="#dc1016" stroke="#5a0505" stroke-width="0.45"/>
<circle cx="322.00" cy="494.70" r="1.5" fill="#dc1016" stroke="#5a0505" stroke-width="0.45"/>
<circle cx="324.70" cy="494.70" r="1.5" fill="#dc1016" stroke="#5a0505" stroke-width="0.45"/>
<circle cx="332.40" cy="440.10" r="1.5" fill="#dc1016" stroke="#5a0505" stroke-width="0.45"/>
<circle cx="336.30" cy="461.60" r="1.5" fill="#dc1016" stroke="#5a0505" stroke-width="0.45"/>
<circle cx="332.40" cy="472.20" r="1.5" fill="#dc1016" stroke="#5a0505" stroke-width="0.45"/>
<circle cx="332.40" cy="478.20" r="1.5" fill="#dc1016" stroke="#5a0505" stroke-width="0.45"/>
<circle cx="332.40" cy="482.60" r="1.5" fill="#dc1016" stroke="#5a0505" stroke-width="0.45"/>
<circle cx="336.30" cy="482.40" r="1.5" fill="#dc1016" stroke="#5a0505" stroke-width="0.45"/>
<circle cx="332.40" cy="487.20" r="1.5" fill="#dc1016" stroke="#5a0505" stroke-width="0.45"/>
<circle cx="328.90" cy="489.80" r="1.5" fill="#dc1016" stroke="#5a0505" stroke-width="0.45"/>
<circle cx="336.30" cy="489.40" r="1.5" fill="#dc1016" stroke="#5a0505" stroke-width="0.45"/>
<circle cx="339.90" cy="489.00" r="1.5" fill="#dc1016" stroke="#5a0505" stroke-width="0.45"/>
<circle cx="328.90" cy="494.70" r="1.5" fill="#dc1016" stroke="#5a0505" stroke-width="0.45"/>
<circle cx="336.30" cy="494.70" r="1.5" fill="#dc1016" stroke="#5a0505" stroke-width="0.45"/>
<circle cx="339.90" cy="494.70" r="1.5" fill="#dc1016" stroke="#5a0505" stroke-width="0.45"/>
<circle cx="343.90" cy="481.30" r="1.5" fill="#dc1016" stroke="#5a0505" stroke-width="0.45"/>
<circle cx="349.40" cy="484.00" r="1.5" fill="#dc1016" stroke="#5a0505" stroke-width="0.45"/>
<circle cx="355.20" cy="490.50" r="1.5" fill="#dc1016" stroke="#5a0505" stroke-width="0.45"/>
<circle cx="343.90" cy="493.40" r="1.5" fill="#dc1016" stroke="#5a0505" stroke-width="0.45"/>
<line x1="276.30" y1="403.30" x2="292.00" y2="403.30" stroke="#3a3a3a" stroke-width="1.5"/>
<text x="284.15" y="403.90" font-size="5.5" text-anchor="middle" font-weight="normal" fill="#222" >****</text>
<line x1="292.00" y1="398.30" x2="333.80" y2="398.30" stroke="#3a3a3a" stroke-width="1.5"/>
<text x="312.90" y="398.90" font-size="5.5" text-anchor="middle" font-weight="normal" fill="#222" >***</text>
<line x1="320.00" y1="410.00" x2="347.00" y2="410.00" stroke="#3a3a3a" stroke-width="1.5"/>
<text x="333.50" y="408.70" font-size="5.8" text-anchor="middle" font-weight="normal" fill="#333" >ns</text>
<line x1="320.00" y1="419.30" x2="336.30" y2="419.30" stroke="#3a3a3a" stroke-width="1.5"/>
<text x="328.15" y="418.00" font-size="5.8" text-anchor="middle" font-weight="normal" fill="#333" >ns</text>
<text transform="translate(242.30,454.20) rotate(-90)" x="0" y="0" font-size="7.6" text-anchor="middle" font-weight="bold" fill="#222" textLength="37.5" lengthAdjust="spacingAndGlyphs" >CD107a+ (%)</text>
<rect x="261.50" y="515.70" width="8.50" height="3.80" fill="#4f5668" stroke="none" stroke-width="0"/>
<text x="272.30" y="519.70" font-size="6.7" text-anchor="start" font-weight="normal" fill="#222" >medium</text>
<rect x="261.50" y="525.40" width="8.50" height="3.80" fill="#2c4d89" stroke="none" stroke-width="0"/>
<text x="272.30" y="529.40" font-size="6.7" text-anchor="start" font-weight="normal" fill="#222" >K562</text>
<rect x="261.50" y="535.00" width="8.50" height="3.80" fill="#c8157f" stroke="none" stroke-width="0"/>
<text x="272.30" y="539.00" font-size="6.7" text-anchor="start" font-weight="normal" fill="#222" >blasts</text>
<circle cx="305.7" cy="517.5" r="2.1" fill="#c0141c" stroke="#6a0a0a" stroke-width="0.5"/>
<circle cx="305.7" cy="527.4" r="2.1" fill="#c0141c" stroke="#6a0a0a" stroke-width="0.5"/>
<text x="311.50" y="519.80" font-size="6.7" text-anchor="start" font-weight="normal" fill="#222" >HD CD56+ ILC1-like</text>
<text x="311.50" y="529.80" font-size="6.7" text-anchor="start" font-weight="normal" fill="#222" >AML (diagnosis)</text>
<text x="311.50" y="539.10" font-size="6.7" text-anchor="start" font-weight="normal" fill="#222" >CD56+ ILC1-like</text>
<rect x="27.00" y="601.50" width="61.10" height="61.50" fill="none" stroke="#222" stroke-width="0.95"/>
<line x1="25.60" y1="611.75" x2="27.00" y2="611.75" stroke="#444" stroke-width="0.6"/>
<line x1="25.60" y1="622.00" x2="27.00" y2="622.00" stroke="#444" stroke-width="0.6"/>
<line x1="25.60" y1="632.25" x2="27.00" y2="632.25" stroke="#444" stroke-width="0.6"/>
<line x1="25.60" y1="642.50" x2="27.00" y2="642.50" stroke="#444" stroke-width="0.6"/>
<line x1="25.60" y1="652.75" x2="27.00" y2="652.75" stroke="#444" stroke-width="0.6"/>
<line x1="26.20" y1="606.62" x2="27.00" y2="606.62" stroke="#777" stroke-width="0.4"/>
<line x1="26.20" y1="611.75" x2="27.00" y2="611.75" stroke="#777" stroke-width="0.4"/>
<line x1="26.20" y1="616.88" x2="27.00" y2="616.88" stroke="#777" stroke-width="0.4"/>
<line x1="26.20" y1="622.00" x2="27.00" y2="622.00" stroke="#777" stroke-width="0.4"/>
<line x1="26.20" y1="627.12" x2="27.00" y2="627.12" stroke="#777" stroke-width="0.4"/>
<line x1="26.20" y1="632.25" x2="27.00" y2="632.25" stroke="#777" stroke-width="0.4"/>
<line x1="26.20" y1="637.38" x2="27.00" y2="637.38" stroke="#777" stroke-width="0.4"/>
<line x1="26.20" y1="642.50" x2="27.00" y2="642.50" stroke="#777" stroke-width="0.4"/>
<line x1="26.20" y1="647.62" x2="27.00" y2="647.62" stroke="#777" stroke-width="0.4"/>
<line x1="26.20" y1="652.75" x2="27.00" y2="652.75" stroke="#777" stroke-width="0.4"/>
<line x1="26.20" y1="657.88" x2="27.00" y2="657.88" stroke="#777" stroke-width="0.4"/>
<line x1="32.09" y1="663.00" x2="32.09" y2="664.00" stroke="#555" stroke-width="0.5"/>
<line x1="37.18" y1="663.00" x2="37.18" y2="664.00" stroke="#555" stroke-width="0.5"/>
<line x1="42.27" y1="663.00" x2="42.27" y2="664.00" stroke="#555" stroke-width="0.5"/>
<line x1="47.37" y1="663.00" x2="47.37" y2="664.00" stroke="#555" stroke-width="0.5"/>
<line x1="52.46" y1="663.00" x2="52.46" y2="664.00" stroke="#555" stroke-width="0.5"/>
<line x1="57.55" y1="663.00" x2="57.55" y2="664.00" stroke="#555" stroke-width="0.5"/>
<line x1="62.64" y1="663.00" x2="62.64" y2="664.00" stroke="#555" stroke-width="0.5"/>
<line x1="67.73" y1="663.00" x2="67.73" y2="664.00" stroke="#555" stroke-width="0.5"/>
<line x1="72.82" y1="663.00" x2="72.82" y2="664.00" stroke="#555" stroke-width="0.5"/>
<line x1="77.92" y1="663.00" x2="77.92" y2="664.00" stroke="#555" stroke-width="0.5"/>
<line x1="83.01" y1="663.00" x2="83.01" y2="664.00" stroke="#555" stroke-width="0.5"/>
<line x1="37.00" y1="663.90" x2="43.00" y2="663.90" stroke="#333" stroke-width="0.8"/>
<circle cx="59.0" cy="647.0" r="0.4" fill="#b0b0b0"/>
<circle cx="47.8" cy="644.9" r="0.4" fill="#b0b0b0"/>
<circle cx="55.1" cy="634.9" r="0.4" fill="#b0b0b0"/>
<circle cx="78.9" cy="638.3" r="0.4" fill="#b0b0b0"/>
<circle cx="57.5" cy="642.8" r="0.4" fill="#b0b0b0"/>
<circle cx="70.4" cy="636.8" r="0.4" fill="#b0b0b0"/>
<circle cx="64.5" cy="629.2" r="0.4" fill="#b0b0b0"/>
<circle cx="54.0" cy="633.5" r="0.4" fill="#b0b0b0"/>
<circle cx="43.3" cy="624.9" r="0.4" fill="#b0b0b0"/>
<circle cx="40.1" cy="635.1" r="0.4" fill="#b0b0b0"/>
<circle cx="56.1" cy="634.4" r="0.4" fill="#b0b0b0"/>
<circle cx="58.8" cy="626.3" r="0.4" fill="#b0b0b0"/>
<circle cx="57.1" cy="638.9" r="0.4" fill="#b0b0b0"/>
<circle cx="66.3" cy="630.2" r="0.4" fill="#b0b0b0"/>
<circle cx="53.6" cy="620.9" r="0.4" fill="#b0b0b0"/>
<circle cx="52.5" cy="619.4" r="0.4" fill="#b0b0b0"/>
<circle cx="42.4" cy="645.8" r="0.4" fill="#b0b0b0"/>
<circle cx="33.8" cy="643.4" r="0.4" fill="#b0b0b0"/>
<circle cx="61.6" cy="634.5" r="0.4" fill="#b0b0b0"/>
<circle cx="63.1" cy="641.2" r="0.4" fill="#b0b0b0"/>
<circle cx="69.5" cy="635.2" r="0.4" fill="#b0b0b0"/>
<circle cx="51.5" cy="632.2" r="0.4" fill="#b0b0b0"/>
<circle cx="47.1" cy="636.6" r="0.4" fill="#b0b0b0"/>
<circle cx="49.4" cy="645.5" r="0.4" fill="#b0b0b0"/>
<circle cx="37.4" cy="628.3" r="0.4" fill="#b0b0b0"/>
<circle cx="47.5" cy="620.3" r="0.4" fill="#b0b0b0"/>
<circle cx="78.9" cy="617.7" r="0.4" fill="#b0b0b0"/>
<circle cx="54.9" cy="632.8" r="0.4" fill="#b0b0b0"/>
<circle cx="76.2" cy="621.1" r="0.4" fill="#b0b0b0"/>
<circle cx="69.8" cy="631.1" r="0.4" fill="#b0b0b0"/>
<circle cx="56.3" cy="631.6" r="0.4" fill="#b0b0b0"/>
<circle cx="65.0" cy="627.9" r="0.4" fill="#b0b0b0"/>
<circle cx="57.1" cy="639.8" r="0.4" fill="#b0b0b0"/>
<circle cx="78.2" cy="617.8" r="0.4" fill="#b0b0b0"/>
<circle cx="74.8" cy="644.6" r="0.4" fill="#b0b0b0"/>
<circle cx="52.7" cy="639.4" r="0.4" fill="#b0b0b0"/>
<circle cx="52.9" cy="650.2" r="0.4" fill="#b0b0b0"/>
<circle cx="60.3" cy="635.3" r="0.4" fill="#b0b0b0"/>
<circle cx="55.5" cy="635.4" r="0.4" fill="#b0b0b0"/>
<circle cx="56.1" cy="630.0" r="0.4" fill="#b0b0b0"/>
<circle cx="80.6" cy="621.7" r="0.4" fill="#b0b0b0"/>
<circle cx="56.4" cy="640.0" r="0.4" fill="#b0b0b0"/>
<circle cx="55.8" cy="635.8" r="0.4" fill="#b0b0b0"/>
<circle cx="61.7" cy="644.7" r="0.4" fill="#b0b0b0"/>
<circle cx="53.1" cy="634.0" r="0.4" fill="#b0b0b0"/>
<circle cx="79.3" cy="641.2" r="0.4" fill="#b0b0b0"/>
<circle cx="47.2" cy="655.6" r="0.4" fill="#b0b0b0"/>
<circle cx="66.5" cy="632.3" r="0.4" fill="#b0b0b0"/>
<circle cx="45.1" cy="639.4" r="0.4" fill="#b0b0b0"/>
<circle cx="48.8" cy="628.5" r="0.4" fill="#b0b0b0"/>
<circle cx="43.7" cy="633.0" r="0.4" fill="#b0b0b0"/>
<circle cx="70.2" cy="633.5" r="0.4" fill="#b0b0b0"/>
<circle cx="42.1" cy="642.4" r="0.4" fill="#b0b0b0"/>
<circle cx="58.7" cy="643.8" r="0.4" fill="#b0b0b0"/>
<circle cx="71.2" cy="635.7" r="0.4" fill="#b0b0b0"/>
<circle cx="56.4" cy="636.6" r="0.4" fill="#b0b0b0"/>
<circle cx="45.5" cy="642.4" r="0.4" fill="#b0b0b0"/>
<circle cx="73.1" cy="638.4" r="0.4" fill="#b0b0b0"/>
<circle cx="55.4" cy="634.9" r="0.4" fill="#b0b0b0"/>
<circle cx="49.4" cy="630.6" r="0.4" fill="#b0b0b0"/>
<circle cx="53.6" cy="630.3" r="0.4" fill="#b0b0b0"/>
<circle cx="53.2" cy="624.4" r="0.4" fill="#b0b0b0"/>
<circle cx="61.9" cy="637.4" r="0.4" fill="#b0b0b0"/>
<circle cx="45.3" cy="618.6" r="0.4" fill="#b0b0b0"/>
<circle cx="57.9" cy="645.8" r="0.4" fill="#b0b0b0"/>
<circle cx="49.9" cy="633.1" r="0.4" fill="#b0b0b0"/>
<circle cx="51.7" cy="642.2" r="0.4" fill="#b0b0b0"/>
<circle cx="47.9" cy="644.9" r="0.4" fill="#b0b0b0"/>
<circle cx="54.7" cy="644.4" r="0.4" fill="#b0b0b0"/>
<circle cx="58.4" cy="635.1" r="0.4" fill="#b0b0b0"/>
<circle cx="41.7" cy="631.5" r="0.4" fill="#b0b0b0"/>
<circle cx="55.1" cy="642.3" r="0.4" fill="#b0b0b0"/>
<circle cx="60.7" cy="631.4" r="0.4" fill="#b0b0b0"/>
<circle cx="62.5" cy="644.9" r="0.4" fill="#b0b0b0"/>
<circle cx="56.4" cy="633.5" r="0.4" fill="#b0b0b0"/>
<circle cx="53.7" cy="643.5" r="0.4" fill="#b0b0b0"/>
<circle cx="63.9" cy="629.6" r="0.4" fill="#b0b0b0"/>
<circle cx="62.1" cy="633.2" r="0.4" fill="#b0b0b0"/>
<circle cx="49.7" cy="646.9" r="0.4" fill="#b0b0b0"/>
<circle cx="67.0" cy="631.2" r="0.4" fill="#b0b0b0"/>
<circle cx="58.9" cy="641.0" r="0.4" fill="#b0b0b0"/>
<circle cx="51.0" cy="636.0" r="0.4" fill="#b0b0b0"/>
<circle cx="65.3" cy="622.7" r="0.4" fill="#b0b0b0"/>
<circle cx="61.6" cy="642.9" r="0.4" fill="#b0b0b0"/>
<circle cx="63.5" cy="626.3" r="0.4" fill="#b0b0b0"/>
<circle cx="61.5" cy="630.1" r="0.4" fill="#b0b0b0"/>
<circle cx="64.3" cy="641.8" r="0.4" fill="#b0b0b0"/>
<circle cx="60.4" cy="630.9" r="0.4" fill="#b0b0b0"/>
<circle cx="51.5" cy="643.8" r="0.4" fill="#b0b0b0"/>
<circle cx="48.1" cy="641.0" r="0.4" fill="#b0b0b0"/>
<circle cx="63.6" cy="634.8" r="0.4" fill="#b0b0b0"/>
<circle cx="84.3" cy="637.6" r="0.4" fill="#b0b0b0"/>
<circle cx="81.6" cy="620.9" r="0.4" fill="#b0b0b0"/>
<circle cx="33.3" cy="644.9" r="0.4" fill="#b0b0b0"/>
<circle cx="65.0" cy="634.5" r="0.4" fill="#b0b0b0"/>
<circle cx="57.4" cy="621.8" r="0.4" fill="#b0b0b0"/>
<circle cx="51.1" cy="628.7" r="0.4" fill="#b0b0b0"/>
<circle cx="55.6" cy="644.1" r="0.4" fill="#b0b0b0"/>
<circle cx="58.6" cy="640.0" r="0.4" fill="#b0b0b0"/>
<circle cx="50.3" cy="633.5" r="0.4" fill="#b0b0b0"/>
<circle cx="59.2" cy="634.7" r="0.4" fill="#b0b0b0"/>
<circle cx="71.9" cy="630.0" r="0.4" fill="#b0b0b0"/>
<circle cx="78.8" cy="629.2" r="0.4" fill="#b0b0b0"/>
<circle cx="69.7" cy="630.8" r="0.4" fill="#b0b0b0"/>
<circle cx="76.1" cy="638.1" r="0.4" fill="#b0b0b0"/>
<circle cx="62.4" cy="643.0" r="0.4" fill="#b0b0b0"/>
<circle cx="51.0" cy="628.7" r="0.4" fill="#b0b0b0"/>
<circle cx="35.7" cy="646.8" r="0.4" fill="#b0b0b0"/>
<circle cx="50.3" cy="632.3" r="0.4" fill="#b0b0b0"/>
<circle cx="57.7" cy="652.9" r="0.4" fill="#b0b0b0"/>
<circle cx="39.0" cy="639.0" r="0.4" fill="#b0b0b0"/>
<circle cx="53.6" cy="641.3" r="0.4" fill="#b0b0b0"/>
<circle cx="38.2" cy="633.8" r="0.4" fill="#b0b0b0"/>
<circle cx="67.2" cy="649.5" r="0.4" fill="#b0b0b0"/>
<circle cx="75.6" cy="630.2" r="0.4" fill="#b0b0b0"/>
<circle cx="58.6" cy="636.1" r="0.4" fill="#b0b0b0"/>
<circle cx="42.9" cy="625.5" r="0.4" fill="#b0b0b0"/>
<circle cx="66.3" cy="639.0" r="0.4" fill="#b0b0b0"/>
<circle cx="56.4" cy="646.7" r="0.4" fill="#b0b0b0"/>
<circle cx="47.0" cy="641.2" r="0.4" fill="#b0b0b0"/>
<circle cx="58.1" cy="636.5" r="0.4" fill="#b0b0b0"/>
<circle cx="63.4" cy="638.4" r="0.4" fill="#b0b0b0"/>
<circle cx="60.9" cy="639.1" r="0.4" fill="#b0b0b0"/>
<circle cx="79.3" cy="634.5" r="0.4" fill="#b0b0b0"/>
<circle cx="69.1" cy="641.9" r="0.4" fill="#b0b0b0"/>
<circle cx="54.2" cy="643.4" r="0.4" fill="#b0b0b0"/>
<circle cx="48.6" cy="646.3" r="0.4" fill="#b0b0b0"/>
<circle cx="49.1" cy="633.1" r="0.4" fill="#b0b0b0"/>
<circle cx="61.6" cy="643.7" r="0.4" fill="#b0b0b0"/>
<circle cx="68.0" cy="644.1" r="0.4" fill="#b0b0b0"/>
<circle cx="55.7" cy="629.4" r="0.4" fill="#b0b0b0"/>
<circle cx="64.0" cy="639.4" r="0.4" fill="#b0b0b0"/>
<circle cx="47.5" cy="644.8" r="0.4" fill="#b0b0b0"/>
<circle cx="60.2" cy="629.3" r="0.4" fill="#b0b0b0"/>
<circle cx="62.9" cy="626.4" r="0.4" fill="#b0b0b0"/>
<circle cx="48.3" cy="640.2" r="0.4" fill="#b0b0b0"/>
<circle cx="40.9" cy="637.3" r="0.4" fill="#b0b0b0"/>
<circle cx="43.1" cy="642.9" r="0.4" fill="#b0b0b0"/>
<circle cx="50.0" cy="638.5" r="0.4" fill="#b0b0b0"/>
<circle cx="41.5" cy="634.2" r="0.4" fill="#b0b0b0"/>
<circle cx="68.4" cy="640.7" r="0.4" fill="#b0b0b0"/>
<circle cx="37.8" cy="644.4" r="0.4" fill="#b0b0b0"/>
<circle cx="67.8" cy="634.0" r="0.4" fill="#b0b0b0"/>
<circle cx="73.6" cy="628.5" r="0.4" fill="#b0b0b0"/>
<circle cx="57.1" cy="645.9" r="0.4" fill="#b0b0b0"/>
<circle cx="72.4" cy="647.2" r="0.4" fill="#b0b0b0"/>
<circle cx="46.0" cy="622.8" r="0.4" fill="#b0b0b0"/>
<circle cx="62.3" cy="625.5" r="0.4" fill="#b0b0b0"/>
<circle cx="56.6" cy="626.7" r="0.4" fill="#b0b0b0"/>
<circle cx="69.7" cy="643.4" r="0.4" fill="#b0b0b0"/>
<circle cx="64.1" cy="637.1" r="0.4" fill="#b0b0b0"/>
<circle cx="58.5" cy="634.6" r="0.4" fill="#b0b0b0"/>
<circle cx="62.2" cy="639.0" r="0.4" fill="#b0b0b0"/>
<circle cx="63.1" cy="633.6" r="0.4" fill="#b0b0b0"/>
<circle cx="78.9" cy="639.3" r="0.4" fill="#b0b0b0"/>
<circle cx="73.3" cy="647.6" r="0.4" fill="#b0b0b0"/>
<circle cx="48.3" cy="623.5" r="0.4" fill="#b0b0b0"/>
<circle cx="71.8" cy="633.9" r="0.4" fill="#b0b0b0"/>
<circle cx="58.9" cy="634.9" r="0.4" fill="#b0b0b0"/>
<circle cx="59.4" cy="627.5" r="0.4" fill="#b0b0b0"/>
<circle cx="56.9" cy="633.3" r="0.4" fill="#b0b0b0"/>
<circle cx="57.8" cy="618.3" r="0.4" fill="#b0b0b0"/>
<circle cx="67.0" cy="639.7" r="0.4" fill="#b0b0b0"/>
<circle cx="39.0" cy="631.1" r="0.4" fill="#b0b0b0"/>
<circle cx="58.3" cy="642.0" r="0.4" fill="#b0b0b0"/>
<circle cx="58.0" cy="648.1" r="0.4" fill="#b0b0b0"/>
<circle cx="58.2" cy="629.0" r="0.4" fill="#b0b0b0"/>
<circle cx="50.6" cy="642.9" r="0.4" fill="#b0b0b0"/>
<circle cx="51.3" cy="643.7" r="0.4" fill="#b0b0b0"/>
<circle cx="69.2" cy="641.7" r="0.4" fill="#b0b0b0"/>
<circle cx="69.2" cy="635.6" r="0.4" fill="#b0b0b0"/>
<circle cx="57.9" cy="632.3" r="0.4" fill="#b0b0b0"/>
<circle cx="51.3" cy="624.5" r="0.4" fill="#b0b0b0"/>
<circle cx="51.9" cy="628.4" r="0.4" fill="#b0b0b0"/>
<circle cx="42.3" cy="638.2" r="0.4" fill="#b0b0b0"/>
<circle cx="63.0" cy="634.3" r="0.4" fill="#b0b0b0"/>
<circle cx="73.1" cy="644.5" r="0.4" fill="#b0b0b0"/>
<circle cx="69.5" cy="632.2" r="0.4" fill="#b0b0b0"/>
<circle cx="41.6" cy="641.5" r="0.4" fill="#b0b0b0"/>
<circle cx="61.4" cy="642.8" r="0.4" fill="#b0b0b0"/>
<circle cx="62.6" cy="647.1" r="0.4" fill="#b0b0b0"/>
<circle cx="54.8" cy="642.3" r="0.4" fill="#b0b0b0"/>
<circle cx="48.2" cy="618.5" r="0.4" fill="#b0b0b0"/>
<circle cx="53.1" cy="649.0" r="0.4" fill="#b0b0b0"/>
<circle cx="39.6" cy="645.1" r="0.4" fill="#b0b0b0"/>
<circle cx="50.5" cy="633.8" r="0.4" fill="#b0b0b0"/>
<circle cx="58.5" cy="638.7" r="0.4" fill="#b0b0b0"/>
<circle cx="47.3" cy="638.0" r="0.4" fill="#b0b0b0"/>
<circle cx="62.9" cy="643.7" r="0.4" fill="#b0b0b0"/>
<circle cx="49.7" cy="649.4" r="0.4" fill="#b0b0b0"/>
<circle cx="79.0" cy="656.3" r="0.4" fill="#b0b0b0"/>
<circle cx="43.3" cy="638.4" r="0.4" fill="#b0b0b0"/>
<circle cx="37.6" cy="640.0" r="0.4" fill="#b0b0b0"/>
<circle cx="64.1" cy="627.8" r="0.4" fill="#b0b0b0"/>
<circle cx="40.6" cy="638.5" r="0.4" fill="#b0b0b0"/>
<circle cx="64.9" cy="630.7" r="0.4" fill="#b0b0b0"/>
<circle cx="55.1" cy="616.8" r="0.4" fill="#b0b0b0"/>
<circle cx="50.2" cy="638.2" r="0.4" fill="#b0b0b0"/>
<circle cx="59.7" cy="649.7" r="0.4" fill="#b0b0b0"/>
<circle cx="45.4" cy="619.0" r="0.4" fill="#b0b0b0"/>
<circle cx="63.0" cy="632.3" r="0.4" fill="#b0b0b0"/>
<circle cx="61.2" cy="642.7" r="0.4" fill="#b0b0b0"/>
<circle cx="64.6" cy="648.5" r="0.4" fill="#b0b0b0"/>
<circle cx="72.9" cy="623.7" r="0.4" fill="#b0b0b0"/>
<circle cx="57.3" cy="653.0" r="0.4" fill="#b0b0b0"/>
<circle cx="53.5" cy="644.7" r="0.4" fill="#b0b0b0"/>
<circle cx="57.4" cy="633.6" r="0.4" fill="#b0b0b0"/>
<circle cx="75.4" cy="645.3" r="0.4" fill="#b0b0b0"/>
<circle cx="55.3" cy="644.3" r="0.4" fill="#b0b0b0"/>
<circle cx="43.6" cy="631.2" r="0.4" fill="#b0b0b0"/>
<circle cx="67.9" cy="637.3" r="0.4" fill="#b0b0b0"/>
<circle cx="46.3" cy="640.6" r="0.4" fill="#b0b0b0"/>
<circle cx="61.6" cy="647.3" r="0.4" fill="#b0b0b0"/>
<circle cx="68.5" cy="634.8" r="0.4" fill="#b0b0b0"/>
<circle cx="52.7" cy="635.9" r="0.4" fill="#b0b0b0"/>
<circle cx="55.5" cy="648.7" r="0.4" fill="#b0b0b0"/>
<circle cx="75.5" cy="647.9" r="0.4" fill="#b0b0b0"/>
<circle cx="62.2" cy="635.0" r="0.4" fill="#b0b0b0"/>
<circle cx="67.9" cy="634.2" r="0.4" fill="#b0b0b0"/>
<circle cx="60.6" cy="623.7" r="0.4" fill="#b0b0b0"/>
<circle cx="53.3" cy="648.5" r="0.4" fill="#b0b0b0"/>
<circle cx="46.7" cy="625.1" r="0.4" fill="#b0b0b0"/>
<circle cx="56.2" cy="650.3" r="0.4" fill="#b0b0b0"/>
<circle cx="74.0" cy="634.1" r="0.4" fill="#b0b0b0"/>
<circle cx="52.7" cy="636.1" r="0.4" fill="#b0b0b0"/>
<circle cx="47.8" cy="637.3" r="0.4" fill="#b0b0b0"/>
<circle cx="54.7" cy="625.2" r="0.4" fill="#b0b0b0"/>
<circle cx="51.6" cy="634.9" r="0.4" fill="#b0b0b0"/>
<circle cx="48.5" cy="628.0" r="0.4" fill="#b0b0b0"/>
<circle cx="68.0" cy="652.2" r="0.4" fill="#b0b0b0"/>
<circle cx="54.8" cy="633.6" r="0.4" fill="#b0b0b0"/>
<circle cx="63.5" cy="635.2" r="0.4" fill="#b0b0b0"/>
<circle cx="49.4" cy="648.1" r="0.4" fill="#b0b0b0"/>
<circle cx="46.5" cy="631.2" r="0.4" fill="#b0b0b0"/>
<circle cx="50.7" cy="629.9" r="0.4" fill="#b0b0b0"/>
<circle cx="55.4" cy="641.6" r="0.4" fill="#b0b0b0"/>
<circle cx="73.9" cy="642.3" r="0.4" fill="#b0b0b0"/>
<circle cx="58.4" cy="627.0" r="0.4" fill="#b0b0b0"/>
<circle cx="57.3" cy="629.5" r="0.4" fill="#b0b0b0"/>
<circle cx="56.9" cy="644.8" r="0.4" fill="#b0b0b0"/>
<circle cx="60.2" cy="635.3" r="0.4" fill="#b0b0b0"/>
<circle cx="49.7" cy="636.8" r="0.4" fill="#b0b0b0"/>
<circle cx="59.2" cy="629.6" r="0.4" fill="#b0b0b0"/>
<circle cx="52.4" cy="644.1" r="0.4" fill="#b0b0b0"/>
<circle cx="39.7" cy="633.5" r="0.4" fill="#b0b0b0"/>
<circle cx="45.2" cy="649.4" r="0.4" fill="#b0b0b0"/>
<circle cx="64.7" cy="641.1" r="0.4" fill="#b0b0b0"/>
<circle cx="62.4" cy="639.3" r="0.4" fill="#b0b0b0"/>
<circle cx="61.2" cy="624.3" r="0.4" fill="#b0b0b0"/>
<circle cx="60.8" cy="641.8" r="0.4" fill="#b0b0b0"/>
<circle cx="42.3" cy="643.6" r="0.4" fill="#b0b0b0"/>
<circle cx="65.3" cy="624.8" r="0.4" fill="#b0b0b0"/>
<circle cx="52.8" cy="634.5" r="0.4" fill="#b0b0b0"/>
<circle cx="52.2" cy="640.1" r="0.4" fill="#b0b0b0"/>
<circle cx="44.0" cy="635.2" r="0.4" fill="#b0b0b0"/>
<circle cx="60.5" cy="642.8" r="0.4" fill="#b0b0b0"/>
<circle cx="58.5" cy="635.1" r="0.4" fill="#b0b0b0"/>
<circle cx="65.6" cy="621.1" r="0.4" fill="#b0b0b0"/>
<circle cx="68.3" cy="634.5" r="0.4" fill="#b0b0b0"/>
<circle cx="44.2" cy="633.6" r="0.4" fill="#b0b0b0"/>
<circle cx="37.8" cy="620.6" r="0.4" fill="#b0b0b0"/>
<circle cx="54.4" cy="630.8" r="0.4" fill="#b0b0b0"/>
<circle cx="66.1" cy="629.9" r="0.4" fill="#b0b0b0"/>
<circle cx="43.8" cy="629.3" r="0.4" fill="#b0b0b0"/>
<circle cx="76.9" cy="637.2" r="0.4" fill="#b0b0b0"/>
<circle cx="51.3" cy="629.1" r="0.4" fill="#b0b0b0"/>
<circle cx="45.9" cy="635.7" r="0.4" fill="#b0b0b0"/>
<circle cx="62.7" cy="646.2" r="0.4" fill="#b0b0b0"/>
<circle cx="70.6" cy="639.2" r="0.4" fill="#b0b0b0"/>
<circle cx="50.7" cy="630.1" r="0.4" fill="#b0b0b0"/>
<circle cx="32.6" cy="628.9" r="0.4" fill="#b0b0b0"/>
<circle cx="62.6" cy="634.3" r="0.4" fill="#b0b0b0"/>
<circle cx="62.0" cy="626.2" r="0.4" fill="#b0b0b0"/>
<circle cx="67.9" cy="639.4" r="0.4" fill="#b0b0b0"/>
<circle cx="58.5" cy="640.2" r="0.4" fill="#b0b0b0"/>
<circle cx="33.4" cy="632.5" r="0.4" fill="#b0b0b0"/>
<circle cx="48.1" cy="651.5" r="0.4" fill="#b0b0b0"/>
<circle cx="56.0" cy="633.0" r="0.4" fill="#b0b0b0"/>
<circle cx="67.4" cy="628.6" r="0.4" fill="#b0b0b0"/>
<circle cx="73.6" cy="631.4" r="0.4" fill="#b0b0b0"/>
<circle cx="57.3" cy="629.7" r="0.4" fill="#b0b0b0"/>
<circle cx="66.9" cy="619.6" r="0.4" fill="#b0b0b0"/>
<circle cx="65.6" cy="630.4" r="0.4" fill="#b0b0b0"/>
<circle cx="58.5" cy="627.8" r="0.4" fill="#b0b0b0"/>
<circle cx="60.5" cy="638.5" r="0.4" fill="#b0b0b0"/>
<circle cx="64.5" cy="639.5" r="0.4" fill="#b0b0b0"/>
<circle cx="64.9" cy="644.9" r="0.4" fill="#b0b0b0"/>
<circle cx="53.7" cy="627.6" r="0.4" fill="#b0b0b0"/>
<circle cx="43.9" cy="642.4" r="0.4" fill="#b0b0b0"/>
<circle cx="53.9" cy="645.4" r="0.4" fill="#b0b0b0"/>
<circle cx="58.5" cy="628.9" r="0.4" fill="#b0b0b0"/>
<circle cx="68.0" cy="652.5" r="0.4" fill="#b0b0b0"/>
<circle cx="56.0" cy="629.5" r="0.4" fill="#b0b0b0"/>
<circle cx="48.7" cy="644.1" r="0.4" fill="#b0b0b0"/>
<circle cx="51.6" cy="633.8" r="0.4" fill="#b0b0b0"/>
<circle cx="65.5" cy="637.1" r="0.4" fill="#b0b0b0"/>
<circle cx="59.3" cy="632.6" r="0.4" fill="#b0b0b0"/>
<circle cx="51.0" cy="638.3" r="0.4" fill="#b0b0b0"/>
<circle cx="59.7" cy="641.7" r="0.4" fill="#b0b0b0"/>
<circle cx="52.5" cy="639.8" r="0.4" fill="#b0b0b0"/>
<circle cx="63.2" cy="637.7" r="0.4" fill="#b0b0b0"/>
<circle cx="64.3" cy="645.1" r="0.4" fill="#b0b0b0"/>
<circle cx="60.2" cy="637.6" r="0.4" fill="#b0b0b0"/>
<circle cx="47.3" cy="639.6" r="0.4" fill="#b0b0b0"/>
<circle cx="57.0" cy="634.5" r="0.4" fill="#b0b0b0"/>
<circle cx="48.9" cy="641.6" r="0.4" fill="#b0b0b0"/>
<circle cx="86.1" cy="640.5" r="0.4" fill="#b0b0b0"/>
<circle cx="59.0" cy="640.5" r="0.4" fill="#b0b0b0"/>
<circle cx="51.5" cy="637.8" r="0.4" fill="#b0b0b0"/>
<circle cx="50.7" cy="631.9" r="0.4" fill="#b0b0b0"/>
<circle cx="60.6" cy="638.8" r="0.4" fill="#b0b0b0"/>
<circle cx="56.8" cy="630.6" r="0.4" fill="#b0b0b0"/>
<circle cx="60.9" cy="628.3" r="0.4" fill="#b0b0b0"/>
<circle cx="66.5" cy="634.2" r="0.4" fill="#b0b0b0"/>
<circle cx="58.0" cy="643.3" r="0.4" fill="#b0b0b0"/>
<circle cx="64.1" cy="626.6" r="0.4" fill="#b0b0b0"/>
<circle cx="55.3" cy="639.9" r="0.4" fill="#b0b0b0"/>
<circle cx="46.0" cy="617.8" r="0.4" fill="#b0b0b0"/>
<circle cx="57.2" cy="636.6" r="0.4" fill="#b0b0b0"/>
<rect x="62.50" y="624.90" width="21.30" height="31.10" fill="none" stroke="#333" stroke-width="0.9"/>
<defs><radialGradient id="gl" cx="0.5" cy="0.5" r="0.5"><stop offset="0" stop-color="#222"/><stop offset="0.5" stop-color="#777"/><stop offset="1" stop-color="#c8c8c8"/></radialGradient><radialGradient id="gr" cx="0.45" cy="0.45" r="0.6"><stop offset="0" stop-color="#3a3a3a"/><stop offset="0.6" stop-color="#707070"/><stop offset="1" stop-color="#a8a8a8"/></radialGradient></defs>
<path d="M40.2,639.1 C41.5,635 45,631.2 51.7,627.5 C54,626.6 56,626.3 58.2,626.4 C60,626.4 61.3,626.5 62.3,627.2 C63.5,628.3 64.5,631.2 65.6,632 C66.5,631.2 67.3,630.8 68.5,630.6 C70,630.2 71.5,630.1 73,631.2 C75.3,633 77.5,636.5 79,640.5 C79.8,642.5 80.8,644 80.2,644.6 C79,645.5 76.5,646.5 74.8,647.4 C72.5,648.6 69,649.5 65.5,649.7 C61,650 55,650 49.9,648.8 C46.5,648 43.5,646.8 41.8,645 C40.5,643.5 39.9,641.5 40.2,639.1 Z" fill="url(#gr)" stroke="none"/>
<ellipse cx="70.5" cy="639" rx="8" ry="7.5" fill="url(#gr)"/>
<path d="M63,629 C64.5,633 63.2,640 63.5,647.2 C64.5,648.6 66.5,648.8 68,648.6" fill="none" stroke="#111" stroke-width="0.8"/>
<ellipse cx="55.6" cy="640.4" rx="8.2" ry="9.5" fill="#8a8a8a" stroke="#111" stroke-width="0.9"/>
<ellipse cx="55.6" cy="640.4" rx="6.6" ry="7.8" fill="#6a6a6a" stroke="#f0f0f0" stroke-width="0.7"/>
<ellipse cx="55.6" cy="640.4" rx="5.2" ry="6.2" fill="#555" stroke="#111" stroke-width="0.6"/>
<ellipse cx="55.6" cy="640.4" rx="3.9" ry="4.7" fill="#666" stroke="#f0f0f0" stroke-width="0.7"/>
<ellipse cx="55.6" cy="640.4" rx="2.6" ry="3.2" fill="#3a3a3a" stroke="#111" stroke-width="0.6"/>
<ellipse cx="55.6" cy="640.4" rx="1.5" ry="1.9" fill="#444" stroke="#eee" stroke-width="0.5"/>
<ellipse cx="55.6" cy="640.4" rx="0.8" ry="1.0" fill="#000" stroke="#000" stroke-width="0.2"/>
<ellipse cx="67.6" cy="646.4" rx="3.2" ry="2.1" fill="#9a9a9a" stroke="#eee" stroke-width="0.7"/>
<ellipse cx="67.8" cy="646.6" rx="1.7" ry="1.1" fill="#222"/>
<path d="M40.2,639.1 C41.5,635 45,631.2 51.7,627.5 C54,626.6 56,626.3 58.2,626.4 C60,626.4 61.3,626.5 62.3,627.2 C63.5,628.3 64.5,631.2 65.6,632 C66.5,631.2 67.3,630.8 68.5,630.6 C70,630.2 71.5,630.1 73,631.2 C75.3,633 77.5,636.5 79,640.5 C79.8,642.5 80.8,644 80.2,644.6 C79,645.5 76.5,646.5 74.8,647.4 C72.5,648.6 69,649.5 65.5,649.7 C61,650 55,650 49.9,648.8 C46.5,648 43.5,646.8 41.8,645 C40.5,643.5 39.9,641.5 40.2,639.1 Z" fill="none" stroke="#000" stroke-width="2.0"/>
<line x1="20.70" y1="669.00" x2="20.70" y2="642.30" stroke="#111" stroke-width="1.3"/>
<path d="M18.3,643.6999999999999 L20.7,638.3 L23.099999999999998,643.6999999999999 Z" fill="#111"/>
<line x1="20.10" y1="669.00" x2="47.60" y2="669.00" stroke="#111" stroke-width="1.3"/>
<path d="M46.199999999999996,666.6 L51.599999999999994,669 L46.199999999999996,671.4 Z" fill="#111"/>
<text transform="translate(15.40,653.70) rotate(-90)" x="0" y="0" font-size="9.0" text-anchor="middle" font-weight="normal" fill="#222" textLength="13.8" lengthAdjust="spacingAndGlyphs" stroke="#222" stroke-width="0.35">FS-H</text>
<text x="26.7" y="680.1" font-size="8.5" fill="#1a1a1a" stroke="#222" stroke-width="0.35" textLength="17.5" lengthAdjust="spacingAndGlyphs">HLA-E</text>
<rect x="145.00" y="626.75" width="17.50" height="40.75" fill="#8a84be" stroke="none" stroke-width="0"/>
<line x1="153.75" y1="626.75" x2="153.75" y2="612.30" stroke="#222" stroke-width="1.1"/>
<line x1="149.45" y1="612.30" x2="158.05" y2="612.30" stroke="#222" stroke-width="1.1"/>
<line x1="136.00" y1="589.60" x2="136.00" y2="668.10" stroke="#222" stroke-width="1.4"/>
<line x1="133.40" y1="667.50" x2="136.00" y2="667.50" stroke="#222" stroke-width="1.2"/>
<text x="130.40" y="669.90" font-size="7.0" text-anchor="end" font-weight="normal" fill="#222" >0</text>
<line x1="133.40" y1="652.46" x2="136.00" y2="652.46" stroke="#222" stroke-width="1.2"/>
<text x="130.40" y="654.86" font-size="7.0" text-anchor="end" font-weight="normal" fill="#222" >20</text>
<line x1="133.40" y1="637.42" x2="136.00" y2="637.42" stroke="#222" stroke-width="1.2"/>
<text x="130.40" y="639.82" font-size="7.0" text-anchor="end" font-weight="normal" fill="#222" >40</text>
<line x1="133.40" y1="622.38" x2="136.00" y2="622.38" stroke="#222" stroke-width="1.2"/>
<text x="130.40" y="624.78" font-size="7.0" text-anchor="end" font-weight="normal" fill="#222" >60</text>
<line x1="133.40" y1="607.34" x2="136.00" y2="607.34" stroke="#222" stroke-width="1.2"/>
<text x="130.40" y="609.74" font-size="7.0" text-anchor="end" font-weight="normal" fill="#222" >80</text>
<line x1="133.40" y1="592.30" x2="136.00" y2="592.30" stroke="#222" stroke-width="1.2"/>
<text x="130.40" y="594.70" font-size="7.0" text-anchor="end" font-weight="normal" fill="#222" >100</text>
<line x1="135.30" y1="667.50" x2="172.50" y2="667.50" stroke="#222" stroke-width="1.5"/>
<text transform="translate(112.20,629.00) rotate(-90)" x="0" y="0" font-size="7.8" text-anchor="middle" font-weight="bold" fill="#222" textLength="47.5" lengthAdjust="spacingAndGlyphs" >Positive cells (%)</text>
<line x1="153.75" y1="667.50" x2="153.75" y2="670.30" stroke="#222" stroke-width="1.1"/>
<circle cx="151.25" cy="592.50" r="1.5" fill="#dc1016" stroke="#5a0505" stroke-width="0.45"/>
<circle cx="156.25" cy="592.50" r="1.5" fill="#dc1016" stroke="#5a0505" stroke-width="0.45"/>
<circle cx="153.75" cy="642.00" r="1.5" fill="#dc1016" stroke="#5a0505" stroke-width="0.45"/>
<circle cx="156.25" cy="651.25" r="1.5" fill="#dc1016" stroke="#5a0505" stroke-width="0.45"/>
<circle cx="151.25" cy="654.25" r="1.5" fill="#dc1016" stroke="#5a0505" stroke-width="0.45"/>
<text x="154.00" y="680.50" font-size="7.0" text-anchor="middle" font-weight="normal" fill="#222" >HLA-E</text>
<rect x="233.00" y="625.75" width="17.50" height="41.75" fill="#c8c6cc" stroke="none" stroke-width="0"/>
<rect x="250.50" y="638.75" width="17.50" height="28.75" fill="#8a84be" stroke="none" stroke-width="0"/>
<line x1="241.75" y1="625.75" x2="241.75" y2="619.50" stroke="#222" stroke-width="1.1"/>
<line x1="237.45" y1="619.50" x2="246.05" y2="619.50" stroke="#222" stroke-width="1.1"/>
<line x1="259.25" y1="638.75" x2="259.25" y2="630.50" stroke="#222" stroke-width="1.1"/>
<line x1="254.95" y1="630.50" x2="263.55" y2="630.50" stroke="#222" stroke-width="1.1"/>
<line x1="220.00" y1="589.60" x2="220.00" y2="668.10" stroke="#222" stroke-width="1.4"/>
<line x1="217.40" y1="667.50" x2="220.00" y2="667.50" stroke="#222" stroke-width="1.2"/>
<text x="214.40" y="669.90" font-size="7.0" text-anchor="end" font-weight="normal" fill="#222" >0</text>
<line x1="217.40" y1="652.46" x2="220.00" y2="652.46" stroke="#222" stroke-width="1.2"/>
<text x="214.40" y="654.86" font-size="7.0" text-anchor="end" font-weight="normal" fill="#222" >20</text>
<line x1="217.40" y1="637.42" x2="220.00" y2="637.42" stroke="#222" stroke-width="1.2"/>
<text x="214.40" y="639.82" font-size="7.0" text-anchor="end" font-weight="normal" fill="#222" >40</text>
<line x1="217.40" y1="622.38" x2="220.00" y2="622.38" stroke="#222" stroke-width="1.2"/>
<text x="214.40" y="624.78" font-size="7.0" text-anchor="end" font-weight="normal" fill="#222" >60</text>
<line x1="217.40" y1="607.34" x2="220.00" y2="607.34" stroke="#222" stroke-width="1.2"/>
<text x="214.40" y="609.74" font-size="7.0" text-anchor="end" font-weight="normal" fill="#222" >80</text>
<line x1="217.40" y1="592.30" x2="220.00" y2="592.30" stroke="#222" stroke-width="1.2"/>
<text x="214.40" y="594.70" font-size="7.0" text-anchor="end" font-weight="normal" fill="#222" >100</text>
<line x1="219.30" y1="667.50" x2="280.00" y2="667.50" stroke="#222" stroke-width="1.5"/>
<text transform="translate(196.80,629.00) rotate(-90)" x="0" y="0" font-size="7.8" text-anchor="middle" font-weight="bold" fill="#222" textLength="47.5" lengthAdjust="spacingAndGlyphs" >Positive cells (%)</text>
<line x1="250.50" y1="667.50" x2="250.50" y2="670.30" stroke="#222" stroke-width="1.1"/>
<circle cx="241.75" cy="597.00" r="1.5" fill="#dc1016" stroke="#5a0505" stroke-width="0.45"/>
<circle cx="241.75" cy="601.25" r="1.5" fill="#dc1016" stroke="#5a0505" stroke-width="0.45"/>
<circle cx="241.75" cy="616.25" r="1.5" fill="#dc1016" stroke="#5a0505" stroke-width="0.45"/>
<circle cx="245.50" cy="620.75" r="1.5" fill="#dc1016" stroke="#5a0505" stroke-width="0.45"/>
<circle cx="241.75" cy="629.50" r="1.5" fill="#dc1016" stroke="#5a0505" stroke-width="0.45"/>
<circle cx="237.50" cy="634.50" r="1.5" fill="#dc1016" stroke="#5a0505" stroke-width="0.45"/>
<circle cx="244.50" cy="635.00" r="1.5" fill="#dc1016" stroke="#5a0505" stroke-width="0.45"/>
<circle cx="241.75" cy="644.25" r="1.5" fill="#dc1016" stroke="#5a0505" stroke-width="0.45"/>
<circle cx="241.75" cy="651.25" r="1.5" fill="#dc1016" stroke="#5a0505" stroke-width="0.45"/>
<circle cx="259.50" cy="596.25" r="1.5" fill="#dc1016" stroke="#5a0505" stroke-width="0.45"/>
<circle cx="259.50" cy="613.75" r="1.5" fill="#dc1016" stroke="#5a0505" stroke-width="0.45"/>
<circle cx="257.00" cy="629.50" r="1.5" fill="#dc1016" stroke="#5a0505" stroke-width="0.45"/>
<circle cx="262.50" cy="628.00" r="1.5" fill="#dc1016" stroke="#5a0505" stroke-width="0.45"/>
<circle cx="256.25" cy="645.50" r="1.5" fill="#dc1016" stroke="#5a0505" stroke-width="0.45"/>
<circle cx="262.50" cy="645.00" r="1.5" fill="#dc1016" stroke="#5a0505" stroke-width="0.45"/>
<circle cx="252.00" cy="662.00" r="1.5" fill="#dc1016" stroke="#5a0505" stroke-width="0.45"/>
<circle cx="259.50" cy="661.25" r="1.5" fill="#dc1016" stroke="#5a0505" stroke-width="0.45"/>
<circle cx="266.25" cy="662.00" r="1.5" fill="#dc1016" stroke="#5a0505" stroke-width="0.45"/>
<text x="251.00" y="679.50" font-size="7.0" text-anchor="middle" font-weight="normal" fill="#222" >CD94</text>
<line x1="244.50" y1="587.00" x2="261.30" y2="587.00" stroke="#3a3a3a" stroke-width="1.5"/>
<text x="252.90" y="585.70" font-size="5.8" text-anchor="middle" font-weight="normal" fill="#333" >ns</text>
<rect x="329.25" y="628.00" width="17.00" height="39.50" fill="#c8c6cc" stroke="none" stroke-width="0"/>
<rect x="346.25" y="637.00" width="18.00" height="30.50" fill="#8a84be" stroke="none" stroke-width="0"/>
<line x1="337.75" y1="628.00" x2="337.75" y2="621.25" stroke="#222" stroke-width="1.1"/>
<line x1="333.45" y1="621.25" x2="342.05" y2="621.25" stroke="#222" stroke-width="1.1"/>
<line x1="355.25" y1="637.00" x2="355.25" y2="628.25" stroke="#222" stroke-width="1.1"/>
<line x1="350.95" y1="628.25" x2="359.55" y2="628.25" stroke="#222" stroke-width="1.1"/>
<line x1="317.00" y1="589.60" x2="317.00" y2="668.10" stroke="#222" stroke-width="1.4"/>
<line x1="314.40" y1="667.50" x2="317.00" y2="667.50" stroke="#222" stroke-width="1.2"/>
<text x="311.40" y="669.90" font-size="7.0" text-anchor="end" font-weight="normal" fill="#222" >0</text>
<line x1="314.40" y1="652.46" x2="317.00" y2="652.46" stroke="#222" stroke-width="1.2"/>
<text x="311.40" y="654.86" font-size="7.0" text-anchor="end" font-weight="normal" fill="#222" >20</text>
<line x1="314.40" y1="637.42" x2="317.00" y2="637.42" stroke="#222" stroke-width="1.2"/>
<text x="311.40" y="639.82" font-size="7.0" text-anchor="end" font-weight="normal" fill="#222" >40</text>
<line x1="314.40" y1="622.38" x2="317.00" y2="622.38" stroke="#222" stroke-width="1.2"/>
<text x="311.40" y="624.78" font-size="7.0" text-anchor="end" font-weight="normal" fill="#222" >60</text>
<line x1="314.40" y1="607.34" x2="317.00" y2="607.34" stroke="#222" stroke-width="1.2"/>
<text x="311.40" y="609.74" font-size="7.0" text-anchor="end" font-weight="normal" fill="#222" >80</text>
<line x1="314.40" y1="592.30" x2="317.00" y2="592.30" stroke="#222" stroke-width="1.2"/>
<text x="311.40" y="594.70" font-size="7.0" text-anchor="end" font-weight="normal" fill="#222" >100</text>
<line x1="316.30" y1="667.50" x2="374.50" y2="667.50" stroke="#222" stroke-width="1.5"/>
<text transform="translate(293.20,629.00) rotate(-90)" x="0" y="0" font-size="7.8" text-anchor="middle" font-weight="bold" fill="#222" textLength="47.5" lengthAdjust="spacingAndGlyphs" >Positive cells (%)</text>
<line x1="346.25" y1="667.50" x2="346.25" y2="670.30" stroke="#222" stroke-width="1.1"/>
<circle cx="338.00" cy="598.00" r="1.5" fill="#dc1016" stroke="#5a0505" stroke-width="0.45"/>
<circle cx="338.00" cy="602.00" r="1.5" fill="#dc1016" stroke="#5a0505" stroke-width="0.45"/>
<circle cx="338.00" cy="605.50" r="1.5" fill="#dc1016" stroke="#5a0505" stroke-width="0.45"/>
<circle cx="338.00" cy="624.50" r="1.5" fill="#dc1016" stroke="#5a0505" stroke-width="0.45"/>
<circle cx="335.00" cy="632.00" r="1.5" fill="#dc1016" stroke="#5a0505" stroke-width="0.45"/>
<circle cx="341.25" cy="634.50" r="1.5" fill="#dc1016" stroke="#5a0505" stroke-width="0.45"/>
<circle cx="335.00" cy="637.00" r="1.5" fill="#dc1016" stroke="#5a0505" stroke-width="0.45"/>
<circle cx="338.00" cy="643.00" r="1.5" fill="#dc1016" stroke="#5a0505" stroke-width="0.45"/>
<circle cx="341.25" cy="648.75" r="1.5" fill="#dc1016" stroke="#5a0505" stroke-width="0.45"/>
<circle cx="335.00" cy="651.25" r="1.5" fill="#dc1016" stroke="#5a0505" stroke-width="0.45"/>
<circle cx="355.50" cy="600.50" r="1.5" fill="#dc1016" stroke="#5a0505" stroke-width="0.45"/>
<circle cx="355.50" cy="615.00" r="1.5" fill="#dc1016" stroke="#5a0505" stroke-width="0.45"/>
<circle cx="355.50" cy="635.00" r="1.5" fill="#dc1016" stroke="#5a0505" stroke-width="0.45"/>
<circle cx="358.75" cy="641.25" r="1.5" fill="#dc1016" stroke="#5a0505" stroke-width="0.45"/>
<circle cx="352.50" cy="643.75" r="1.5" fill="#dc1016" stroke="#5a0505" stroke-width="0.45"/>
<circle cx="358.75" cy="659.50" r="1.5" fill="#dc1016" stroke="#5a0505" stroke-width="0.45"/>
<circle cx="352.50" cy="662.00" r="1.5" fill="#dc1016" stroke="#5a0505" stroke-width="0.45"/>
<text x="346.60" y="679.50" font-size="7.0" text-anchor="middle" font-weight="normal" fill="#222" >NKG2A</text>
<line x1="338.00" y1="587.00" x2="354.50" y2="587.00" stroke="#3a3a3a" stroke-width="1.5"/>
<text x="346.25" y="585.70" font-size="5.8" text-anchor="middle" font-weight="normal" fill="#333" >ns</text>
<rect x="423.20" y="663.10" width="17.30" height="4.40" fill="#c8c6cc" stroke="none" stroke-width="0"/>
<rect x="440.50" y="665.20" width="17.30" height="2.30" fill="#8a84be" stroke="none" stroke-width="0"/>
<line x1="431.85" y1="663.10" x2="431.85" y2="660.70" stroke="#222" stroke-width="1.1"/>
<line x1="427.55" y1="660.70" x2="436.15" y2="660.70" stroke="#222" stroke-width="1.1"/>
<line x1="449.15" y1="665.20" x2="449.15" y2="661.90" stroke="#222" stroke-width="1.1"/>
<line x1="444.85" y1="661.90" x2="453.45" y2="661.90" stroke="#222" stroke-width="1.1"/>
<line x1="410.00" y1="589.60" x2="410.00" y2="668.10" stroke="#222" stroke-width="1.4"/>
<line x1="407.40" y1="667.50" x2="410.00" y2="667.50" stroke="#222" stroke-width="1.2"/>
<text x="404.40" y="669.90" font-size="7.0" text-anchor="end" font-weight="normal" fill="#222" >0</text>
<line x1="407.40" y1="652.46" x2="410.00" y2="652.46" stroke="#222" stroke-width="1.2"/>
<text x="404.40" y="654.86" font-size="7.0" text-anchor="end" font-weight="normal" fill="#222" >20</text>
<line x1="407.40" y1="637.42" x2="410.00" y2="637.42" stroke="#222" stroke-width="1.2"/>
<text x="404.40" y="639.82" font-size="7.0" text-anchor="end" font-weight="normal" fill="#222" >40</text>
<line x1="407.40" y1="622.38" x2="410.00" y2="622.38" stroke="#222" stroke-width="1.2"/>
<text x="404.40" y="624.78" font-size="7.0" text-anchor="end" font-weight="normal" fill="#222" >60</text>
<line x1="407.40" y1="607.34" x2="410.00" y2="607.34" stroke="#222" stroke-width="1.2"/>
<text x="404.40" y="609.74" font-size="7.0" text-anchor="end" font-weight="normal" fill="#222" >80</text>
<line x1="407.40" y1="592.30" x2="410.00" y2="592.30" stroke="#222" stroke-width="1.2"/>
<text x="404.40" y="594.70" font-size="7.0" text-anchor="end" font-weight="normal" fill="#222" >100</text>
<line x1="409.30" y1="667.50" x2="471.30" y2="667.50" stroke="#222" stroke-width="1.5"/>
<text transform="translate(386.80,629.00) rotate(-90)" x="0" y="0" font-size="7.8" text-anchor="middle" font-weight="bold" fill="#222" textLength="47.5" lengthAdjust="spacingAndGlyphs" >Positive cells (%)</text>
<line x1="440.50" y1="667.50" x2="440.50" y2="670.30" stroke="#222" stroke-width="1.1"/>
<text x="440.60" y="679.50" font-size="7.0" text-anchor="middle" font-weight="normal" fill="#222" >NKG2C</text>
<line x1="432.00" y1="587.00" x2="448.80" y2="587.00" stroke="#3a3a3a" stroke-width="1.5"/>
<text x="440.40" y="585.70" font-size="5.8" text-anchor="middle" font-weight="normal" fill="#333" >ns</text>
<circle cx="428.50" cy="652.50" r="1.5" fill="#dc1016" stroke="#5a0505" stroke-width="0.45"/>
<circle cx="428.50" cy="656.30" r="1.5" fill="#dc1016" stroke="#5a0505" stroke-width="0.45"/>
<circle cx="434.70" cy="654.90" r="1.5" fill="#dc1016" stroke="#5a0505" stroke-width="0.45"/>
<circle cx="427.00" cy="665.20" r="1.5" fill="#dc1016" stroke="#5a0505" stroke-width="0.45"/>
<circle cx="430.40" cy="664.00" r="1.5" fill="#dc1016" stroke="#5a0505" stroke-width="0.45"/>
<circle cx="433.30" cy="666.00" r="1.5" fill="#dc1016" stroke="#5a0505" stroke-width="0.45"/>
<circle cx="439.00" cy="666.20" r="1.5" fill="#dc1016" stroke="#5a0505" stroke-width="0.45"/>
<circle cx="424.40" cy="667.50" r="1.5" fill="#dc1016" stroke="#5a0505" stroke-width="0.45"/>
<circle cx="430.40" cy="667.50" r="1.5" fill="#dc1016" stroke="#5a0505" stroke-width="0.45"/>
<circle cx="436.20" cy="667.50" r="1.5" fill="#dc1016" stroke="#5a0505" stroke-width="0.45"/>
<circle cx="449.10" cy="659.00" r="1.5" fill="#dc1016" stroke="#5a0505" stroke-width="0.45"/>
<circle cx="446.30" cy="667.50" r="1.5" fill="#dc1016" stroke="#5a0505" stroke-width="0.45"/>
<circle cx="452.50" cy="667.50" r="1.5" fill="#dc1016" stroke="#5a0505" stroke-width="0.45"/>
<rect x="303.80" y="689.30" width="8.70" height="3.60" fill="#c8c6cc" stroke="none" stroke-width="0"/>
<text x="315.00" y="693.20" font-size="7.0" text-anchor="start" font-weight="normal" fill="#222" >HD</text>
<rect x="333.80" y="689.30" width="8.70" height="3.60" fill="#8a84be" stroke="none" stroke-width="0"/>
<text x="345.00" y="693.20" font-size="7.0" text-anchor="start" font-weight="normal" fill="#222" >AML at diagnosis</text>
</svg>
<div class="frame"></div>
</body></html>
